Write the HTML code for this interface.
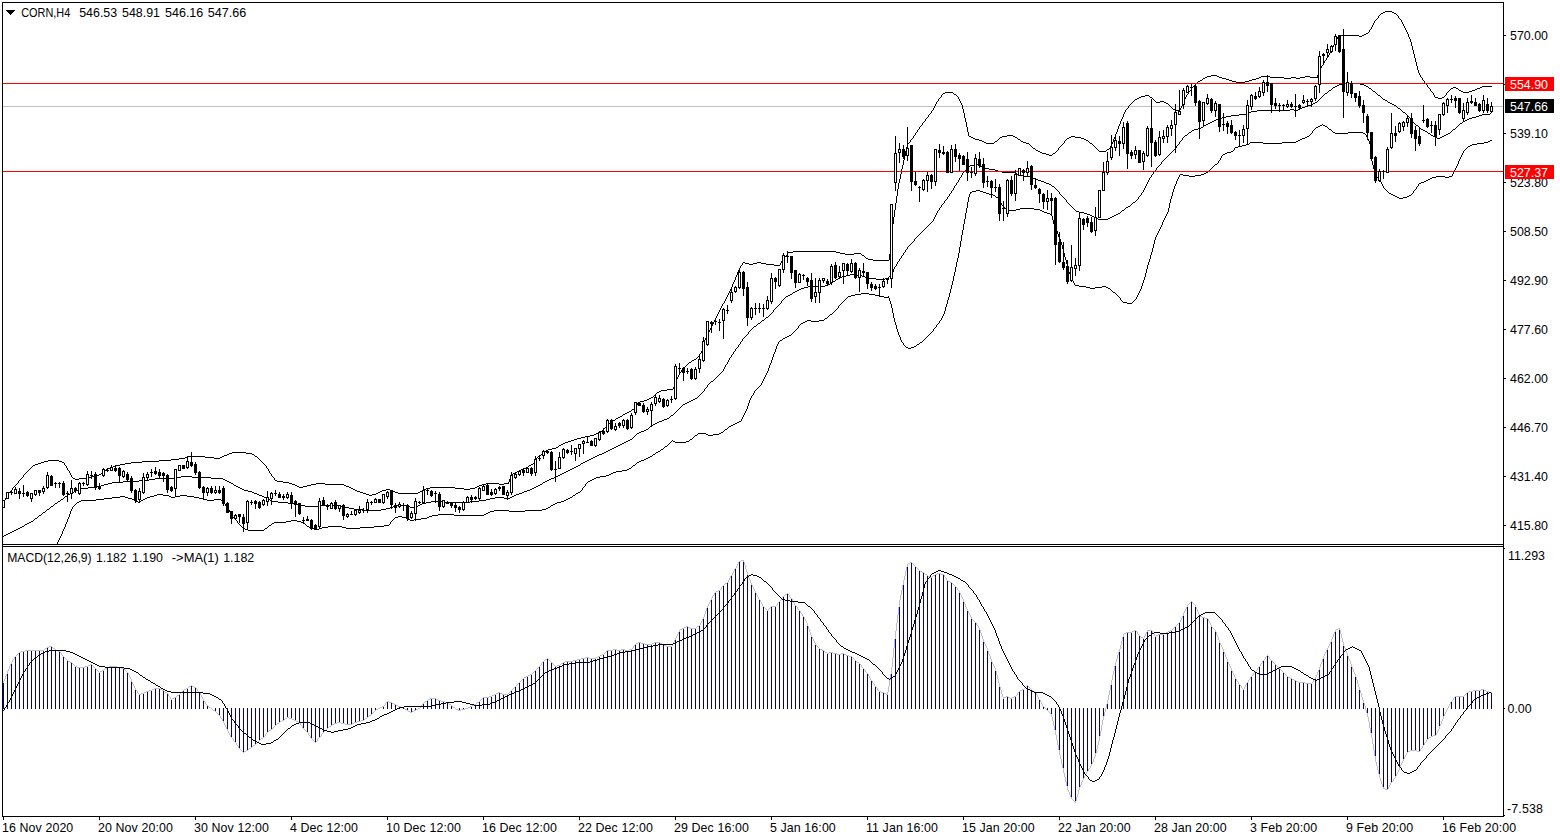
<!DOCTYPE html>
<html><head><meta charset="utf-8"><title>CORN,H4</title>
<style>
html,body{margin:0;padding:0;background:#fff;}
body{width:1560px;height:840px;overflow:hidden;position:relative;font-family:"Liberation Sans",sans-serif;}
svg{position:absolute;left:0;top:0;display:block;}
text{font-family:"Liberation Sans",sans-serif;font-size:12.4px;}
</style></head><body>
<svg width="1560" height="840" viewBox="0 0 1560 840">
<rect x="0" y="0" width="1560" height="840" fill="#fff"/>
<g shape-rendering="crispEdges">
<rect x="3" y="106" width="1500" height="1" fill="#c0c0c0"/>
</g>
<defs><clipPath id="cm"><rect x="3" y="3" width="1500" height="541"/></clipPath><clipPath id="cd"><rect x="3" y="547" width="1500" height="269"/></clipPath></defs>
<path d="M33 465h2v1h-2zM35 464h3v1h-3zM38 463h3v1h-3zM41 462h3v1h-3zM44 461h4v1h-4zM48 460h11v1h-11zM59 461h3v1h-3zM62 462h2v1h-2zM73 478h2v1h-2zM75 479h4v1h-4zM79 478h10v1h-10zM89 477h3v1h-3zM92 476h3v1h-3zM95 475h4v1h-4zM99 474h2v1h-2zM102 472h2v1h-2zM106 469h2v1h-2zM108 468h2v1h-2zM110 467h3v1h-3zM113 466h3v1h-3zM116 465h4v1h-4zM120 464h5v1h-5zM125 463h6v1h-6zM131 462h11v1h-11zM142 461h17v1h-17zM159 460h12v1h-12zM171 459h8v1h-8zM179 458h6v1h-6zM185 457h2v1h-2zM187 456h18v1h-18zM205 457h9v1h-9zM214 458h6v1h-6zM220 457h2v1h-2zM222 456h2v1h-2zM224 455h3v1h-3zM227 454h2v1h-2zM229 453h3v1h-3zM232 452h14v1h-14zM246 453h6v1h-6zM252 454h2v1h-2zM255 456h2v1h-2zM275 480h2v1h-2zM277 481h6v1h-6zM283 482h6v1h-6zM289 483h3v1h-3zM292 484h3v1h-3zM295 485h2v1h-2zM297 486h2v1h-2zM299 487h4v1h-4zM303 486h4v1h-4zM307 485h4v1h-4zM311 484h5v1h-5zM316 483h9v1h-9zM325 484h19v1h-19zM344 485h2v1h-2zM346 486h3v1h-3zM349 487h2v1h-2zM351 488h2v1h-2zM353 489h2v1h-2zM355 490h2v1h-2zM357 491h3v1h-3zM360 492h3v1h-3zM363 493h3v1h-3zM366 494h3v1h-3zM369 495h3v1h-3zM372 494h4v1h-4zM376 493h2v1h-2zM378 492h2v1h-2zM380 491h2v1h-2zM382 490h4v1h-4zM386 489h4v1h-4zM390 490h3v1h-3zM393 491h2v1h-2zM395 492h3v1h-3zM398 493h20v1h-20zM418 492h2v1h-2zM420 491h2v1h-2zM422 490h2v1h-2zM424 489h2v1h-2zM426 488h4v1h-4zM430 487h25v1h-25zM455 488h9v1h-9zM464 489h6v1h-6zM470 488h5v1h-5zM475 487h2v1h-2zM477 486h2v1h-2zM479 485h3v1h-3zM482 484h4v1h-4zM486 483h13v1h-13zM499 484h5v1h-5zM504 483h5v1h-5zM513 473h2v1h-2zM515 472h2v1h-2zM517 471h2v1h-2zM519 470h2v1h-2zM521 469h3v1h-3zM524 468h2v1h-2zM526 467h2v1h-2zM529 465h2v1h-2zM531 464h2v1h-2zM539 455h2v1h-2zM543 452h2v1h-2zM546 450h2v1h-2zM548 449h4v1h-4zM552 448h4v1h-4zM556 447h2v1h-2zM559 445h2v1h-2zM561 444h2v1h-2zM563 443h2v1h-2zM565 442h3v1h-3zM568 441h3v1h-3zM571 440h3v1h-3zM574 439h3v1h-3zM577 438h4v1h-4zM581 437h4v1h-4zM585 436h5v1h-5zM590 435h4v1h-4zM594 434h2v1h-2zM596 433h2v1h-2zM598 432h2v1h-2zM600 431h2v1h-2zM611 421h2v1h-2zM613 420h2v1h-2zM616 418h2v1h-2zM618 417h2v1h-2zM620 416h2v1h-2zM623 414h2v1h-2zM625 413h2v1h-2zM627 412h2v1h-2zM629 411h2v1h-2zM632 409h2v1h-2zM638 402h2v1h-2zM640 401h4v1h-4zM644 400h3v1h-3zM647 399h2v1h-2zM649 398h2v1h-2zM651 397h2v1h-2zM657 392h2v1h-2zM659 391h2v1h-2zM661 390h6v1h-6zM667 389h6v1h-6zM689 362h2v1h-2zM692 360h2v1h-2zM694 359h2v1h-2zM743 262h2v1h-2zM745 263h4v1h-4zM749 264h4v1h-4zM753 263h4v1h-4zM757 262h4v1h-4zM761 263h5v1h-5zM766 264h8v1h-8zM774 265h6v1h-6zM788 252h5v1h-5zM793 251h43v1h-43zM836 252h4v1h-4zM840 253h5v1h-5zM845 254h9v1h-9zM854 253h7v1h-7zM862 255h2v1h-2zM866 258h2v1h-2zM868 259h5v1h-5zM873 260h16v1h-16zM943 93h2v1h-2zM945 92h8v1h-8zM954 94h2v1h-2zM969 136h2v1h-2zM971 137h2v1h-2zM973 138h2v1h-2zM975 139h4v1h-4zM979 140h3v1h-3zM982 141h2v1h-2zM984 142h2v1h-2zM986 143h8v1h-8zM995 141h2v1h-2zM1000 137h2v1h-2zM1002 136h5v1h-5zM1007 135h6v1h-6zM1013 136h2v1h-2zM1015 137h2v1h-2zM1018 139h2v1h-2zM1021 141h2v1h-2zM1023 142h3v1h-3zM1026 143h3v1h-3zM1033 148h2v1h-2zM1036 150h2v1h-2zM1038 151h2v1h-2zM1040 152h2v1h-2zM1042 153h4v1h-4zM1046 154h3v1h-3zM1049 155h3v1h-3zM1053 153h2v1h-2zM1067 138h2v1h-2zM1069 137h2v1h-2zM1071 136h4v1h-4zM1075 137h6v1h-6zM1081 138h3v1h-3zM1084 139h2v1h-2zM1086 140h2v1h-2zM1090 143h2v1h-2zM1099 151h7v1h-7zM1107 149h2v1h-2zM1135 99h2v1h-2zM1137 98h2v1h-2zM1139 97h2v1h-2zM1141 96h4v1h-4zM1145 95h4v1h-4zM1150 97h2v1h-2zM1156 102h4v1h-4zM1160 101h4v1h-4zM1164 102h2v1h-2zM1166 103h2v1h-2zM1173 109h3v1h-3zM1176 110h3v1h-3zM1179 109h2v1h-2zM1198 81h2v1h-2zM1200 80h2v1h-2zM1203 78h2v1h-2zM1205 77h2v1h-2zM1207 76h4v1h-4zM1211 75h6v1h-6zM1217 76h2v1h-2zM1219 77h3v1h-3zM1222 78h4v1h-4zM1226 79h3v1h-3zM1229 80h3v1h-3zM1232 81h4v1h-4zM1236 82h9v1h-9zM1245 81h4v1h-4zM1249 80h3v1h-3zM1252 79h4v1h-4zM1256 78h3v1h-3zM1259 77h2v1h-2zM1261 76h9v1h-9zM1270 77h14v1h-14zM1284 78h7v1h-7zM1291 77h5v1h-5zM1296 78h4v1h-4zM1300 77h5v1h-5zM1305 76h5v1h-5zM1310 77h8v1h-8zM1338 35h21v1h-21zM1359 36h3v1h-3zM1362 35h2v1h-2zM1364 34h2v1h-2zM1366 33h2v1h-2zM1381 13h2v1h-2zM1383 12h2v1h-2zM1385 11h7v1h-7zM1392 12h2v1h-2zM1394 13h2v1h-2zM1435 97h3v1h-3zM1438 98h4v1h-4zM1442 97h2v1h-2zM1451 88h2v1h-2zM1453 87h3v1h-3zM1456 88h2v1h-2zM1459 90h2v1h-2zM1461 91h2v1h-2zM1463 92h6v1h-6zM1469 91h3v1h-3zM1472 90h3v1h-3zM1475 89h2v1h-2zM1477 88h3v1h-3zM1480 87h2v1h-2zM1482 86h10v1h-10zM3 502h1v2h-1zM4 500h1v2h-1zM5 498h1v2h-1zM6 497h1v1h-1zM7 495h1v2h-1zM8 493h1v2h-1zM9 492h1v1h-1zM10 491h1v1h-1zM11 490h1v1h-1zM12 488h1v2h-1zM13 487h1v1h-1zM14 486h1v1h-1zM15 485h1v1h-1zM16 484h1v1h-1zM17 483h1v1h-1zM18 481h1v2h-1zM19 480h1v1h-1zM20 479h1v1h-1zM21 478h1v1h-1zM22 477h1v1h-1zM23 475h1v2h-1zM24 474h1v1h-1zM25 473h1v1h-1zM26 472h1v1h-1zM27 471h1v1h-1zM28 470h1v1h-1zM29 469h1v1h-1zM30 468h1v1h-1zM31 467h1v1h-1zM32 466h1v1h-1zM64 463h1v2h-1zM65 465h1v1h-1zM66 466h1v2h-1zM67 468h1v2h-1zM68 470h1v1h-1zM69 471h1v2h-1zM70 473h1v2h-1zM71 475h1v2h-1zM72 477h1v1h-1zM101 473h1v1h-1zM104 471h1v1h-1zM105 470h1v1h-1zM254 455h1v1h-1zM257 457h1v1h-1zM258 458h1v1h-1zM259 459h1v1h-1zM260 460h1v1h-1zM261 461h1v1h-1zM262 462h1v1h-1zM263 463h1v1h-1zM264 464h1v1h-1zM265 465h1v1h-1zM266 466h1v2h-1zM267 468h1v1h-1zM268 469h1v2h-1zM269 471h1v2h-1zM270 473h1v1h-1zM271 474h1v2h-1zM272 476h1v1h-1zM273 477h1v1h-1zM274 478h1v2h-1zM508 482h1v1h-1zM509 479h1v3h-1zM510 477h1v2h-1zM511 475h1v2h-1zM512 474h1v1h-1zM528 466h1v1h-1zM533 463h1v1h-1zM534 461h1v2h-1zM535 459h1v2h-1zM536 458h1v1h-1zM537 457h1v1h-1zM538 456h1v1h-1zM541 454h1v1h-1zM542 453h1v1h-1zM545 451h1v1h-1zM558 446h1v1h-1zM602 430h1v1h-1zM603 429h1v1h-1zM604 428h1v1h-1zM605 427h1v1h-1zM606 426h1v1h-1zM607 425h1v1h-1zM608 424h1v1h-1zM609 423h1v1h-1zM610 422h1v1h-1zM615 419h1v1h-1zM622 415h1v1h-1zM631 410h1v1h-1zM634 408h1v1h-1zM635 406h1v2h-1zM636 405h1v1h-1zM637 403h1v2h-1zM653 396h1v1h-1zM654 395h1v1h-1zM655 394h1v1h-1zM656 393h1v1h-1zM673 387h1v2h-1zM674 385h1v2h-1zM675 382h1v3h-1zM676 379h1v3h-1zM677 377h1v2h-1zM678 375h1v2h-1zM679 373h1v2h-1zM680 372h1v1h-1zM681 370h1v2h-1zM682 369h1v1h-1zM683 368h1v1h-1zM684 367h1v1h-1zM685 366h1v1h-1zM686 365h1v1h-1zM687 364h1v1h-1zM688 363h1v1h-1zM691 361h1v1h-1zM696 358h1v1h-1zM697 357h1v1h-1zM698 356h1v1h-1zM699 354h1v2h-1zM700 353h1v1h-1zM701 351h1v2h-1zM702 347h1v4h-1zM703 343h1v4h-1zM704 340h1v3h-1zM705 338h1v2h-1zM706 336h1v2h-1zM707 334h1v2h-1zM708 332h1v2h-1zM709 330h1v2h-1zM710 328h1v2h-1zM711 326h1v2h-1zM712 324h1v2h-1zM713 322h1v2h-1zM714 320h1v2h-1zM715 318h1v2h-1zM716 316h1v2h-1zM717 314h1v2h-1zM718 312h1v2h-1zM719 310h1v2h-1zM720 308h1v2h-1zM721 306h1v2h-1zM722 304h1v2h-1zM723 303h1v1h-1zM724 301h1v2h-1zM725 299h1v2h-1zM726 297h1v2h-1zM727 295h1v2h-1zM728 293h1v2h-1zM729 291h1v2h-1zM730 289h1v2h-1zM731 287h1v2h-1zM732 284h1v3h-1zM733 282h1v2h-1zM734 280h1v2h-1zM735 277h1v3h-1zM736 275h1v2h-1zM737 272h1v3h-1zM738 270h1v2h-1zM739 268h1v2h-1zM740 266h1v2h-1zM741 265h1v1h-1zM742 263h1v2h-1zM780 263h1v2h-1zM781 261h1v2h-1zM782 260h1v1h-1zM783 259h1v1h-1zM784 257h1v2h-1zM785 256h1v1h-1zM786 255h1v1h-1zM787 253h1v2h-1zM861 254h1v1h-1zM864 256h1v1h-1zM865 257h1v1h-1zM889 254h1v6h-1zM890 243h1v11h-1zM891 233h1v10h-1zM892 224h1v9h-1zM893 217h1v7h-1zM894 210h1v7h-1zM895 203h1v7h-1zM896 196h1v7h-1zM897 189h1v7h-1zM898 183h1v6h-1zM899 179h1v4h-1zM900 174h1v5h-1zM901 169h1v5h-1zM902 165h1v4h-1zM903 160h1v5h-1zM904 156h1v4h-1zM905 151h1v5h-1zM906 147h1v4h-1zM907 144h1v3h-1zM908 143h1v1h-1zM909 142h1v1h-1zM910 140h1v2h-1zM911 139h1v1h-1zM912 138h1v1h-1zM913 136h1v2h-1zM914 135h1v1h-1zM915 133h1v2h-1zM916 132h1v1h-1zM917 130h1v2h-1zM918 129h1v1h-1zM919 127h1v2h-1zM920 126h1v1h-1zM921 125h1v1h-1zM922 123h1v2h-1zM923 122h1v1h-1zM924 121h1v1h-1zM925 119h1v2h-1zM926 118h1v1h-1zM927 117h1v1h-1zM928 115h1v2h-1zM929 114h1v1h-1zM930 113h1v1h-1zM931 111h1v2h-1zM932 110h1v1h-1zM933 108h1v2h-1zM934 106h1v2h-1zM935 104h1v2h-1zM936 102h1v2h-1zM937 101h1v1h-1zM938 99h1v2h-1zM939 98h1v1h-1zM940 97h1v1h-1zM941 95h1v2h-1zM942 94h1v1h-1zM953 93h1v1h-1zM956 95h1v1h-1zM957 96h1v1h-1zM958 97h1v2h-1zM959 99h1v2h-1zM960 101h1v2h-1zM961 103h1v2h-1zM962 105h1v4h-1zM963 109h1v4h-1zM964 113h1v5h-1zM965 118h1v4h-1zM966 122h1v5h-1zM967 127h1v5h-1zM968 132h1v4h-1zM994 142h1v1h-1zM997 140h1v1h-1zM998 139h1v1h-1zM999 138h1v1h-1zM1017 138h1v1h-1zM1020 140h1v1h-1zM1029 144h1v1h-1zM1030 145h1v1h-1zM1031 146h1v1h-1zM1032 147h1v1h-1zM1035 149h1v1h-1zM1052 154h1v1h-1zM1055 152h1v1h-1zM1056 151h1v1h-1zM1057 150h1v1h-1zM1058 148h1v2h-1zM1059 147h1v1h-1zM1060 146h1v1h-1zM1061 145h1v1h-1zM1062 144h1v1h-1zM1063 143h1v1h-1zM1064 141h1v2h-1zM1065 140h1v1h-1zM1066 139h1v1h-1zM1088 141h1v1h-1zM1089 142h1v1h-1zM1092 144h1v1h-1zM1093 145h1v1h-1zM1094 146h1v1h-1zM1095 147h1v1h-1zM1096 148h1v1h-1zM1097 149h1v1h-1zM1098 150h1v1h-1zM1106 150h1v1h-1zM1109 148h1v1h-1zM1110 146h1v2h-1zM1111 144h1v2h-1zM1112 142h1v2h-1zM1113 139h1v3h-1zM1114 137h1v2h-1zM1115 134h1v3h-1zM1116 132h1v2h-1zM1117 129h1v3h-1zM1118 126h1v3h-1zM1119 124h1v2h-1zM1120 121h1v3h-1zM1121 119h1v2h-1zM1122 117h1v2h-1zM1123 114h1v3h-1zM1124 112h1v2h-1zM1125 110h1v2h-1zM1126 109h1v1h-1zM1127 108h1v1h-1zM1128 106h1v2h-1zM1129 105h1v1h-1zM1130 104h1v1h-1zM1131 103h1v1h-1zM1132 102h1v1h-1zM1133 101h1v1h-1zM1134 100h1v1h-1zM1149 96h1v1h-1zM1152 98h1v1h-1zM1153 99h1v1h-1zM1154 100h1v1h-1zM1155 101h1v1h-1zM1168 104h1v1h-1zM1169 105h1v1h-1zM1170 106h1v1h-1zM1171 107h1v1h-1zM1172 108h1v1h-1zM1180 108h1v1h-1zM1181 106h1v2h-1zM1182 103h1v3h-1zM1183 101h1v2h-1zM1184 99h1v2h-1zM1185 97h1v2h-1zM1186 95h1v2h-1zM1187 94h1v1h-1zM1188 92h1v2h-1zM1189 91h1v1h-1zM1190 90h1v1h-1zM1191 88h1v2h-1zM1192 87h1v1h-1zM1193 86h1v1h-1zM1194 85h1v1h-1zM1195 84h1v1h-1zM1196 83h1v1h-1zM1197 82h1v1h-1zM1202 79h1v1h-1zM1317 75h1v2h-1zM1318 72h1v3h-1zM1319 70h1v2h-1zM1320 68h1v2h-1zM1321 66h1v2h-1zM1322 65h1v1h-1zM1323 63h1v2h-1zM1324 61h1v2h-1zM1325 60h1v1h-1zM1326 58h1v2h-1zM1327 57h1v1h-1zM1328 55h1v2h-1zM1329 53h1v2h-1zM1330 51h1v2h-1zM1331 49h1v2h-1zM1332 47h1v2h-1zM1333 45h1v2h-1zM1334 43h1v2h-1zM1335 41h1v2h-1zM1336 39h1v2h-1zM1337 37h1v2h-1zM1338 36h1v1h-1zM1368 32h1v1h-1zM1369 30h1v2h-1zM1370 29h1v1h-1zM1371 27h1v2h-1zM1372 25h1v2h-1zM1373 23h1v2h-1zM1374 21h1v2h-1zM1375 20h1v1h-1zM1376 19h1v1h-1zM1377 18h1v1h-1zM1378 16h1v2h-1zM1379 15h1v1h-1zM1380 14h1v1h-1zM1396 14h1v1h-1zM1397 15h1v1h-1zM1398 16h1v2h-1zM1399 18h1v1h-1zM1400 19h1v1h-1zM1401 20h1v2h-1zM1402 22h1v2h-1zM1403 24h1v2h-1zM1404 26h1v2h-1zM1405 28h1v2h-1zM1406 30h1v2h-1zM1407 32h1v2h-1zM1408 34h1v3h-1zM1409 37h1v2h-1zM1410 39h1v3h-1zM1411 42h1v4h-1zM1412 46h1v4h-1zM1413 50h1v4h-1zM1414 54h1v4h-1zM1415 58h1v4h-1zM1416 62h1v4h-1zM1417 66h1v4h-1zM1418 70h1v3h-1zM1419 73h1v2h-1zM1420 75h1v2h-1zM1421 77h1v1h-1zM1422 78h1v2h-1zM1423 80h1v1h-1zM1424 81h1v2h-1zM1425 83h1v1h-1zM1426 84h1v1h-1zM1427 85h1v2h-1zM1428 87h1v1h-1zM1429 88h1v1h-1zM1430 89h1v2h-1zM1431 91h1v1h-1zM1432 92h1v1h-1zM1433 93h1v2h-1zM1434 95h1v2h-1zM1444 96h1v1h-1zM1445 95h1v1h-1zM1446 93h1v2h-1zM1447 92h1v1h-1zM1448 91h1v1h-1zM1449 90h1v1h-1zM1450 89h1v1h-1zM1458 89h1v1h-1z" fill="#000" shape-rendering="crispEdges"/>
<path d="M4 535h2v1h-2zM6 534h2v1h-2zM8 533h2v1h-2zM10 532h2v1h-2zM12 531h2v1h-2zM14 530h2v1h-2zM16 529h2v1h-2zM18 528h2v1h-2zM20 527h2v1h-2zM22 526h2v1h-2zM25 524h2v1h-2zM27 523h2v1h-2zM29 522h2v1h-2zM31 521h2v1h-2zM35 518h2v1h-2zM39 515h2v1h-2zM43 512h2v1h-2zM47 509h2v1h-2zM51 506h2v1h-2zM55 503h2v1h-2zM58 501h2v1h-2zM61 499h2v1h-2zM65 496h2v1h-2zM68 494h2v1h-2zM70 493h2v1h-2zM72 492h2v1h-2zM74 491h2v1h-2zM76 490h2v1h-2zM78 489h2v1h-2zM80 488h8v1h-8zM88 487h9v1h-9zM97 486h4v1h-4zM101 485h3v1h-3zM104 484h4v1h-4zM108 483h4v1h-4zM112 482h11v1h-11zM123 481h16v1h-16zM139 480h10v1h-10zM149 479h6v1h-6zM155 478h22v1h-22zM177 477h4v1h-4zM181 476h11v1h-11zM192 477h19v1h-19zM211 478h12v1h-12zM223 479h2v1h-2zM225 480h2v1h-2zM227 481h2v1h-2zM229 482h2v1h-2zM231 483h2v1h-2zM234 485h2v1h-2zM236 486h2v1h-2zM238 487h2v1h-2zM240 488h2v1h-2zM242 489h2v1h-2zM244 490h4v1h-4zM248 491h4v1h-4zM252 492h2v1h-2zM254 493h3v1h-3zM257 494h2v1h-2zM259 495h3v1h-3zM262 496h2v1h-2zM264 497h2v1h-2zM266 498h2v1h-2zM268 499h2v1h-2zM270 500h2v1h-2zM272 501h6v1h-6zM278 502h10v1h-10zM288 503h6v1h-6zM294 504h4v1h-4zM298 505h7v1h-7zM305 506h15v1h-15zM320 505h18v1h-18zM338 506h7v1h-7zM345 507h4v1h-4zM349 508h5v1h-5zM354 509h9v1h-9zM363 510h18v1h-18zM381 509h5v1h-5zM386 508h4v1h-4zM390 507h3v1h-3zM393 506h2v1h-2zM395 505h13v1h-13zM408 506h2v1h-2zM410 507h4v1h-4zM414 506h4v1h-4zM418 505h2v1h-2zM420 504h2v1h-2zM422 503h4v1h-4zM426 502h5v1h-5zM431 501h13v1h-13zM444 502h26v1h-26zM470 501h9v1h-9zM479 500h7v1h-7zM486 499h4v1h-4zM490 498h5v1h-5zM495 497h9v1h-9zM504 498h6v1h-6zM510 497h2v1h-2zM512 496h2v1h-2zM514 495h2v1h-2zM516 494h3v1h-3zM519 493h3v1h-3zM522 492h2v1h-2zM524 491h3v1h-3zM527 490h3v1h-3zM530 489h2v1h-2zM532 488h2v1h-2zM534 487h2v1h-2zM536 486h2v1h-2zM538 485h2v1h-2zM540 484h2v1h-2zM543 482h2v1h-2zM545 481h2v1h-2zM547 480h2v1h-2zM549 479h2v1h-2zM551 478h3v1h-3zM554 477h2v1h-2zM556 476h2v1h-2zM558 475h2v1h-2zM560 474h2v1h-2zM562 473h2v1h-2zM564 472h2v1h-2zM566 471h2v1h-2zM568 470h2v1h-2zM570 469h2v1h-2zM572 468h2v1h-2zM574 467h2v1h-2zM576 466h2v1h-2zM578 465h2v1h-2zM581 463h2v1h-2zM583 462h2v1h-2zM585 461h2v1h-2zM587 460h2v1h-2zM589 459h2v1h-2zM591 458h2v1h-2zM593 457h2v1h-2zM595 456h2v1h-2zM597 455h2v1h-2zM599 454h3v1h-3zM602 453h2v1h-2zM604 452h2v1h-2zM606 451h2v1h-2zM608 450h2v1h-2zM610 449h2v1h-2zM612 448h2v1h-2zM614 447h2v1h-2zM616 446h2v1h-2zM618 445h2v1h-2zM620 444h2v1h-2zM622 443h2v1h-2zM624 442h2v1h-2zM626 441h2v1h-2zM628 440h2v1h-2zM630 439h2v1h-2zM637 433h2v1h-2zM639 432h2v1h-2zM641 431h3v1h-3zM644 430h2v1h-2zM646 429h2v1h-2zM650 426h2v1h-2zM653 424h2v1h-2zM655 423h2v1h-2zM657 422h2v1h-2zM659 421h3v1h-3zM662 420h2v1h-2zM664 419h3v1h-3zM667 418h2v1h-2zM671 415h2v1h-2zM683 404h2v1h-2zM685 403h2v1h-2zM687 402h2v1h-2zM689 401h2v1h-2zM691 400h2v1h-2zM693 399h2v1h-2zM695 398h2v1h-2zM711 381h2v1h-2zM754 326h2v1h-2zM758 323h2v1h-2zM762 320h2v1h-2zM766 317h2v1h-2zM786 296h2v1h-2zM788 295h2v1h-2zM790 294h2v1h-2zM793 292h2v1h-2zM795 291h2v1h-2zM797 290h2v1h-2zM799 289h2v1h-2zM801 288h3v1h-3zM804 287h4v1h-4zM808 286h17v1h-17zM825 285h3v1h-3zM828 284h2v1h-2zM831 282h2v1h-2zM833 281h2v1h-2zM836 279h2v1h-2zM838 278h2v1h-2zM840 277h2v1h-2zM842 276h4v1h-4zM846 275h4v1h-4zM850 274h6v1h-6zM856 275h6v1h-6zM862 276h3v1h-3zM865 277h4v1h-4zM869 278h7v1h-7zM876 279h9v1h-9zM885 278h4v1h-4zM890 275h2v1h-2zM970 165h4v1h-4zM974 164h4v1h-4zM978 165h2v1h-2zM980 166h2v1h-2zM982 167h2v1h-2zM984 168h5v1h-5zM989 169h6v1h-6zM995 170h3v1h-3zM998 171h4v1h-4zM1002 172h13v1h-13zM1015 173h2v1h-2zM1017 174h2v1h-2zM1019 175h5v1h-5zM1024 176h6v1h-6zM1030 177h2v1h-2zM1032 178h3v1h-3zM1035 179h3v1h-3zM1038 180h3v1h-3zM1041 181h3v1h-3zM1044 182h2v1h-2zM1046 183h3v1h-3zM1049 184h2v1h-2zM1052 186h2v1h-2zM1076 211h3v1h-3zM1079 212h5v1h-5zM1084 213h3v1h-3zM1087 214h3v1h-3zM1090 215h2v1h-2zM1092 216h2v1h-2zM1094 217h2v1h-2zM1096 218h2v1h-2zM1098 219h10v1h-10zM1108 218h2v1h-2zM1110 217h2v1h-2zM1112 216h2v1h-2zM1114 215h2v1h-2zM1116 214h2v1h-2zM1118 213h2v1h-2zM1122 210h2v1h-2zM1126 207h2v1h-2zM1128 206h2v1h-2zM1133 202h2v1h-2zM1185 135h2v1h-2zM1189 132h2v1h-2zM1192 130h2v1h-2zM1194 129h4v1h-4zM1198 128h3v1h-3zM1201 127h2v1h-2zM1204 125h2v1h-2zM1206 124h2v1h-2zM1208 123h2v1h-2zM1210 122h2v1h-2zM1212 121h2v1h-2zM1214 120h2v1h-2zM1216 119h3v1h-3zM1219 118h3v1h-3zM1222 117h4v1h-4zM1226 116h5v1h-5zM1231 115h8v1h-8zM1239 114h8v1h-8zM1247 113h2v1h-2zM1249 112h2v1h-2zM1251 111h6v1h-6zM1257 110h33v1h-33zM1290 109h4v1h-4zM1294 110h4v1h-4zM1298 109h2v1h-2zM1300 108h2v1h-2zM1302 107h3v1h-3zM1305 106h3v1h-3zM1308 105h3v1h-3zM1311 104h2v1h-2zM1313 103h2v1h-2zM1315 102h2v1h-2zM1325 93h2v1h-2zM1329 90h2v1h-2zM1333 87h2v1h-2zM1335 86h2v1h-2zM1337 85h2v1h-2zM1339 84h5v1h-5zM1344 83h16v1h-16zM1360 84h4v1h-4zM1364 85h2v1h-2zM1366 86h2v1h-2zM1369 88h2v1h-2zM1373 91h2v1h-2zM1378 95h2v1h-2zM1383 99h2v1h-2zM1385 100h2v1h-2zM1388 102h2v1h-2zM1390 103h2v1h-2zM1392 104h2v1h-2zM1394 105h2v1h-2zM1398 108h2v1h-2zM1403 112h2v1h-2zM1416 125h2v1h-2zM1421 129h2v1h-2zM1423 130h2v1h-2zM1425 131h2v1h-2zM1428 133h2v1h-2zM1431 135h2v1h-2zM1433 136h2v1h-2zM1435 137h2v1h-2zM1437 138h3v1h-3zM1440 137h2v1h-2zM1442 136h2v1h-2zM1444 135h2v1h-2zM1446 134h2v1h-2zM1448 133h2v1h-2zM1453 129h2v1h-2zM1460 123h2v1h-2zM1463 121h2v1h-2zM1465 120h2v1h-2zM1467 119h2v1h-2zM1469 118h3v1h-3zM1472 117h4v1h-4zM1476 116h3v1h-3zM1479 115h3v1h-3zM1482 114h8v1h-8zM3 536h1v1h-1zM24 525h1v1h-1zM33 520h1v1h-1zM34 519h1v1h-1zM37 517h1v1h-1zM38 516h1v1h-1zM41 514h1v1h-1zM42 513h1v1h-1zM45 511h1v1h-1zM46 510h1v1h-1zM49 508h1v1h-1zM50 507h1v1h-1zM53 505h1v1h-1zM54 504h1v1h-1zM57 502h1v1h-1zM60 500h1v1h-1zM63 498h1v1h-1zM64 497h1v1h-1zM67 495h1v1h-1zM233 484h1v1h-1zM542 483h1v1h-1zM580 464h1v1h-1zM632 438h1v1h-1zM633 437h1v1h-1zM634 436h1v1h-1zM635 435h1v1h-1zM636 434h1v1h-1zM648 428h1v1h-1zM649 427h1v1h-1zM652 425h1v1h-1zM669 417h1v1h-1zM670 416h1v1h-1zM673 414h1v1h-1zM674 413h1v1h-1zM675 412h1v1h-1zM676 411h1v1h-1zM677 410h1v1h-1zM678 409h1v1h-1zM679 408h1v1h-1zM680 407h1v1h-1zM681 406h1v1h-1zM682 405h1v1h-1zM697 397h1v1h-1zM698 396h1v1h-1zM699 395h1v1h-1zM700 394h1v1h-1zM701 393h1v1h-1zM702 392h1v1h-1zM703 391h1v1h-1zM704 389h1v2h-1zM705 388h1v1h-1zM706 387h1v1h-1zM707 385h1v2h-1zM708 384h1v1h-1zM709 383h1v1h-1zM710 382h1v1h-1zM713 380h1v1h-1zM714 379h1v1h-1zM715 378h1v1h-1zM716 377h1v1h-1zM717 376h1v1h-1zM718 375h1v1h-1zM719 374h1v1h-1zM720 373h1v1h-1zM721 372h1v1h-1zM722 371h1v1h-1zM723 369h1v2h-1zM724 367h1v2h-1zM725 365h1v2h-1zM726 364h1v1h-1zM727 362h1v2h-1zM728 360h1v2h-1zM729 358h1v2h-1zM730 357h1v1h-1zM731 355h1v2h-1zM732 354h1v1h-1zM733 352h1v2h-1zM734 351h1v1h-1zM735 349h1v2h-1zM736 348h1v1h-1zM737 347h1v1h-1zM738 345h1v2h-1zM739 344h1v1h-1zM740 342h1v2h-1zM741 341h1v1h-1zM742 339h1v2h-1zM743 338h1v1h-1zM744 337h1v1h-1zM745 336h1v1h-1zM746 335h1v1h-1zM747 334h1v1h-1zM748 332h1v2h-1zM749 331h1v1h-1zM750 330h1v1h-1zM751 329h1v1h-1zM752 328h1v1h-1zM753 327h1v1h-1zM756 325h1v1h-1zM757 324h1v1h-1zM760 322h1v1h-1zM761 321h1v1h-1zM764 319h1v1h-1zM765 318h1v1h-1zM768 316h1v1h-1zM769 315h1v1h-1zM770 314h1v1h-1zM771 313h1v1h-1zM772 312h1v1h-1zM773 310h1v2h-1zM774 309h1v1h-1zM775 308h1v1h-1zM776 307h1v1h-1zM777 306h1v1h-1zM778 305h1v1h-1zM779 304h1v1h-1zM780 303h1v1h-1zM781 301h1v2h-1zM782 300h1v1h-1zM783 299h1v1h-1zM784 298h1v1h-1zM785 297h1v1h-1zM792 293h1v1h-1zM830 283h1v1h-1zM835 280h1v1h-1zM888 277h1v1h-1zM889 276h1v1h-1zM892 272h1v3h-1zM893 269h1v3h-1zM894 267h1v2h-1zM895 266h1v1h-1zM896 264h1v2h-1zM897 262h1v2h-1zM898 261h1v1h-1zM899 259h1v2h-1zM900 258h1v1h-1zM901 256h1v2h-1zM902 255h1v1h-1zM903 253h1v2h-1zM904 252h1v1h-1zM905 250h1v2h-1zM906 249h1v1h-1zM907 247h1v2h-1zM908 246h1v1h-1zM909 245h1v1h-1zM910 244h1v1h-1zM911 243h1v1h-1zM912 242h1v1h-1zM913 241h1v1h-1zM914 239h1v2h-1zM915 238h1v1h-1zM916 237h1v1h-1zM917 236h1v1h-1zM918 235h1v1h-1zM919 234h1v1h-1zM920 233h1v1h-1zM921 232h1v1h-1zM922 231h1v1h-1zM923 230h1v1h-1zM924 229h1v1h-1zM925 228h1v1h-1zM926 227h1v1h-1zM927 226h1v1h-1zM928 225h1v1h-1zM929 224h1v1h-1zM930 223h1v1h-1zM931 222h1v1h-1zM932 221h1v1h-1zM933 219h1v2h-1zM934 217h1v2h-1zM935 215h1v2h-1zM936 213h1v2h-1zM937 211h1v2h-1zM938 210h1v1h-1zM939 208h1v2h-1zM940 207h1v1h-1zM941 205h1v2h-1zM942 204h1v1h-1zM943 203h1v1h-1zM944 201h1v2h-1zM945 200h1v1h-1zM946 199h1v1h-1zM947 197h1v2h-1zM948 196h1v1h-1zM949 194h1v2h-1zM950 193h1v1h-1zM951 191h1v2h-1zM952 190h1v1h-1zM953 188h1v2h-1zM954 186h1v2h-1zM955 185h1v1h-1zM956 183h1v2h-1zM957 182h1v1h-1zM958 180h1v2h-1zM959 178h1v2h-1zM960 177h1v1h-1zM961 175h1v2h-1zM962 173h1v2h-1zM963 172h1v1h-1zM964 171h1v1h-1zM965 170h1v1h-1zM966 169h1v1h-1zM967 168h1v1h-1zM968 167h1v1h-1zM969 166h1v1h-1zM1051 185h1v1h-1zM1054 187h1v1h-1zM1055 188h1v1h-1zM1056 189h1v1h-1zM1057 190h1v1h-1zM1058 191h1v1h-1zM1059 192h1v2h-1zM1060 194h1v1h-1zM1061 195h1v1h-1zM1062 196h1v1h-1zM1063 197h1v1h-1zM1064 198h1v1h-1zM1065 199h1v1h-1zM1066 200h1v2h-1zM1067 202h1v1h-1zM1068 203h1v1h-1zM1069 204h1v1h-1zM1070 205h1v1h-1zM1071 206h1v1h-1zM1072 207h1v1h-1zM1073 208h1v1h-1zM1074 209h1v1h-1zM1075 210h1v1h-1zM1120 212h1v1h-1zM1121 211h1v1h-1zM1124 209h1v1h-1zM1125 208h1v1h-1zM1130 205h1v1h-1zM1131 204h1v1h-1zM1132 203h1v1h-1zM1135 201h1v1h-1zM1136 200h1v1h-1zM1137 199h1v1h-1zM1138 197h1v2h-1zM1139 196h1v1h-1zM1140 195h1v1h-1zM1141 193h1v2h-1zM1142 192h1v1h-1zM1143 190h1v2h-1zM1144 188h1v2h-1zM1145 186h1v2h-1zM1146 184h1v2h-1zM1147 182h1v2h-1zM1148 180h1v2h-1zM1149 178h1v2h-1zM1150 177h1v1h-1zM1151 175h1v2h-1zM1152 174h1v1h-1zM1153 172h1v2h-1zM1154 171h1v1h-1zM1155 170h1v1h-1zM1156 168h1v2h-1zM1157 167h1v1h-1zM1158 166h1v1h-1zM1159 165h1v1h-1zM1160 164h1v1h-1zM1161 162h1v2h-1zM1162 161h1v1h-1zM1163 160h1v1h-1zM1164 159h1v1h-1zM1165 158h1v1h-1zM1166 157h1v1h-1zM1167 156h1v1h-1zM1168 155h1v1h-1zM1169 154h1v1h-1zM1170 153h1v1h-1zM1171 152h1v1h-1zM1172 151h1v1h-1zM1173 150h1v1h-1zM1174 149h1v1h-1zM1175 148h1v1h-1zM1176 146h1v2h-1zM1177 145h1v1h-1zM1178 144h1v1h-1zM1179 142h1v2h-1zM1180 141h1v1h-1zM1181 140h1v1h-1zM1182 138h1v2h-1zM1183 137h1v1h-1zM1184 136h1v1h-1zM1187 134h1v1h-1zM1188 133h1v1h-1zM1191 131h1v1h-1zM1203 126h1v1h-1zM1317 101h1v1h-1zM1318 100h1v1h-1zM1319 99h1v1h-1zM1320 98h1v1h-1zM1321 97h1v1h-1zM1322 96h1v1h-1zM1323 95h1v1h-1zM1324 94h1v1h-1zM1327 92h1v1h-1zM1328 91h1v1h-1zM1331 89h1v1h-1zM1332 88h1v1h-1zM1368 87h1v1h-1zM1371 89h1v1h-1zM1372 90h1v1h-1zM1375 92h1v1h-1zM1376 93h1v1h-1zM1377 94h1v1h-1zM1380 96h1v1h-1zM1381 97h1v1h-1zM1382 98h1v1h-1zM1387 101h1v1h-1zM1396 106h1v1h-1zM1397 107h1v1h-1zM1400 109h1v1h-1zM1401 110h1v1h-1zM1402 111h1v1h-1zM1405 113h1v1h-1zM1406 114h1v1h-1zM1407 115h1v1h-1zM1408 116h1v1h-1zM1409 117h1v1h-1zM1410 118h1v2h-1zM1411 120h1v1h-1zM1412 121h1v1h-1zM1413 122h1v1h-1zM1414 123h1v1h-1zM1415 124h1v1h-1zM1418 126h1v1h-1zM1419 127h1v1h-1zM1420 128h1v1h-1zM1427 132h1v1h-1zM1430 134h1v1h-1zM1450 132h1v1h-1zM1451 131h1v1h-1zM1452 130h1v1h-1zM1455 128h1v1h-1zM1456 127h1v1h-1zM1457 126h1v1h-1zM1458 125h1v1h-1zM1459 124h1v1h-1zM1462 122h1v1h-1zM1490 113h1v1h-1zM1491 112h1v1h-1z" fill="#000" shape-rendering="crispEdges"/>
<path d="M77 502h2v1h-2zM79 501h2v1h-2zM81 500h15v1h-15zM96 499h8v1h-8zM104 498h8v1h-8zM112 497h8v1h-8zM120 496h5v1h-5zM125 497h3v1h-3zM128 498h4v1h-4zM132 499h2v1h-2zM134 500h2v1h-2zM136 501h2v1h-2zM139 501h2v1h-2zM141 500h2v1h-2zM143 499h2v1h-2zM145 498h2v1h-2zM147 497h3v1h-3zM150 496h4v1h-4zM154 495h3v1h-3zM157 494h6v1h-6zM163 495h6v1h-6zM169 496h2v1h-2zM171 497h4v1h-4zM175 496h5v1h-5zM180 495h7v1h-7zM187 496h7v1h-7zM194 497h5v1h-5zM199 498h4v1h-4zM203 499h4v1h-4zM207 500h7v1h-7zM214 499h7v1h-7zM242 527h2v1h-2zM245 529h3v1h-3zM248 530h16v1h-16zM265 528h2v1h-2zM269 525h2v1h-2zM272 523h2v1h-2zM274 522h12v1h-12zM286 521h5v1h-5zM291 520h6v1h-6zM297 521h4v1h-4zM301 522h2v1h-2zM303 523h2v1h-2zM307 526h2v1h-2zM310 528h4v1h-4zM314 529h5v1h-5zM319 528h3v1h-3zM322 527h6v1h-6zM328 526h14v1h-14zM342 527h4v1h-4zM346 528h14v1h-14zM360 527h14v1h-14zM374 526h10v1h-10zM384 525h5v1h-5zM395 517h3v1h-3zM398 516h4v1h-4zM402 517h4v1h-4zM406 518h2v1h-2zM408 519h2v1h-2zM410 520h4v1h-4zM414 519h7v1h-7zM421 518h6v1h-6zM427 517h2v1h-2zM429 516h3v1h-3zM432 515h6v1h-6zM438 514h16v1h-16zM454 515h30v1h-30zM484 514h2v1h-2zM486 513h2v1h-2zM488 512h2v1h-2zM490 511h4v1h-4zM494 510h15v1h-15zM509 511h16v1h-16zM525 510h17v1h-17zM542 509h4v1h-4zM546 508h2v1h-2zM548 507h2v1h-2zM551 505h2v1h-2zM553 504h2v1h-2zM555 503h2v1h-2zM557 502h4v1h-4zM561 501h3v1h-3zM564 500h2v1h-2zM566 499h2v1h-2zM568 498h2v1h-2zM570 497h2v1h-2zM573 495h2v1h-2zM576 493h2v1h-2zM578 492h2v1h-2zM588 481h2v1h-2zM590 480h2v1h-2zM592 479h2v1h-2zM594 478h2v1h-2zM596 477h4v1h-4zM600 476h6v1h-6zM606 475h3v1h-3zM609 474h2v1h-2zM611 473h2v1h-2zM613 472h3v1h-3zM616 471h6v1h-6zM622 470h5v1h-5zM627 469h2v1h-2zM629 468h2v1h-2zM633 465h2v1h-2zM637 462h2v1h-2zM639 461h2v1h-2zM641 460h3v1h-3zM644 459h2v1h-2zM646 458h2v1h-2zM648 457h2v1h-2zM650 456h2v1h-2zM653 454h2v1h-2zM656 452h2v1h-2zM658 451h2v1h-2zM661 449h2v1h-2zM665 446h2v1h-2zM673 441h2v1h-2zM675 442h11v1h-11zM686 441h3v1h-3zM690 439h2v1h-2zM695 435h2v1h-2zM698 433h8v1h-8zM706 434h2v1h-2zM708 435h5v1h-5zM713 434h6v1h-6zM719 433h2v1h-2zM721 432h2v1h-2zM725 429h2v1h-2zM729 426h2v1h-2zM731 425h2v1h-2zM733 424h2v1h-2zM735 423h2v1h-2zM737 422h2v1h-2zM739 421h2v1h-2zM780 340h2v1h-2zM783 338h2v1h-2zM785 337h2v1h-2zM787 336h2v1h-2zM789 335h2v1h-2zM801 323h2v1h-2zM803 322h2v1h-2zM805 321h2v1h-2zM807 320h4v1h-4zM811 321h8v1h-8zM819 320h5v1h-5zM825 318h2v1h-2zM830 314h2v1h-2zM848 296h3v1h-3zM851 295h4v1h-4zM855 294h6v1h-6zM861 293h8v1h-8zM869 294h6v1h-6zM875 295h4v1h-4zM879 296h5v1h-5zM884 297h5v1h-5zM906 347h2v1h-2zM908 348h3v1h-3zM911 347h3v1h-3zM914 346h2v1h-2zM917 344h2v1h-2zM920 342h2v1h-2zM970 192h2v1h-2zM972 191h4v1h-4zM976 190h4v1h-4zM980 191h3v1h-3zM983 192h3v1h-3zM986 193h3v1h-3zM989 194h4v1h-4zM993 195h2v1h-2zM996 197h2v1h-2zM1007 210h9v1h-9zM1016 209h4v1h-4zM1020 208h14v1h-14zM1034 209h6v1h-6zM1040 210h2v1h-2zM1042 211h2v1h-2zM1044 212h3v1h-3zM1047 213h3v1h-3zM1050 214h2v1h-2zM1075 285h4v1h-4zM1079 286h7v1h-7zM1086 287h4v1h-4zM1090 288h5v1h-5zM1095 287h7v1h-7zM1102 286h4v1h-4zM1106 287h2v1h-2zM1108 288h2v1h-2zM1113 292h2v1h-2zM1123 302h4v1h-4zM1127 303h5v1h-5zM1180 174h3v1h-3zM1183 175h6v1h-6zM1189 176h6v1h-6zM1195 175h6v1h-6zM1201 174h3v1h-3zM1204 173h2v1h-2zM1206 172h2v1h-2zM1215 164h2v1h-2zM1223 154h2v1h-2zM1225 153h2v1h-2zM1227 152h4v1h-4zM1231 151h2v1h-2zM1235 147h3v1h-3zM1238 146h4v1h-4zM1242 145h4v1h-4zM1246 144h3v1h-3zM1250 142h13v1h-13zM1263 143h19v1h-19zM1282 142h14v1h-14zM1296 141h2v1h-2zM1298 140h2v1h-2zM1300 139h2v1h-2zM1302 138h3v1h-3zM1305 137h2v1h-2zM1307 136h2v1h-2zM1316 127h2v1h-2zM1318 126h2v1h-2zM1320 125h2v1h-2zM1323 125h2v1h-2zM1325 126h2v1h-2zM1329 129h2v1h-2zM1333 132h2v1h-2zM1335 133h13v1h-13zM1348 132h15v1h-15zM1363 133h2v1h-2zM1389 193h2v1h-2zM1391 194h2v1h-2zM1393 195h2v1h-2zM1395 196h2v1h-2zM1397 197h2v1h-2zM1399 198h4v1h-4zM1403 197h4v1h-4zM1407 196h2v1h-2zM1409 195h2v1h-2zM1419 183h2v1h-2zM1421 182h3v1h-3zM1424 181h2v1h-2zM1426 180h2v1h-2zM1428 179h2v1h-2zM1430 178h2v1h-2zM1432 177h4v1h-4zM1436 176h9v1h-9zM1445 177h4v1h-4zM1449 176h3v1h-3zM1468 146h2v1h-2zM1470 145h2v1h-2zM1472 144h5v1h-5zM1477 143h7v1h-7zM1484 142h4v1h-4zM1488 141h2v1h-2zM1490 140h2v1h-2zM57 542h1v2h-1zM58 540h1v2h-1zM59 538h1v2h-1zM60 536h1v2h-1zM61 534h1v2h-1zM62 531h1v3h-1zM63 529h1v2h-1zM64 527h1v2h-1zM65 524h1v3h-1zM66 522h1v2h-1zM67 519h1v3h-1zM68 517h1v2h-1zM69 514h1v3h-1zM70 511h1v3h-1zM71 509h1v2h-1zM72 507h1v2h-1zM73 506h1v1h-1zM74 505h1v1h-1zM75 504h1v1h-1zM76 503h1v1h-1zM138 502h1v1h-1zM221 500h1v1h-1zM222 501h1v1h-1zM223 502h1v1h-1zM224 503h1v1h-1zM225 504h1v2h-1zM226 506h1v1h-1zM227 507h1v2h-1zM228 509h1v1h-1zM229 510h1v2h-1zM230 512h1v2h-1zM231 514h1v1h-1zM232 515h1v2h-1zM233 517h1v1h-1zM234 518h1v1h-1zM235 519h1v1h-1zM236 520h1v1h-1zM237 521h1v2h-1zM238 523h1v1h-1zM239 524h1v1h-1zM240 525h1v1h-1zM241 526h1v1h-1zM244 528h1v1h-1zM264 529h1v1h-1zM267 527h1v1h-1zM268 526h1v1h-1zM271 524h1v1h-1zM305 524h1v1h-1zM306 525h1v1h-1zM309 527h1v1h-1zM389 524h1v1h-1zM390 522h1v2h-1zM391 521h1v1h-1zM392 520h1v1h-1zM393 519h1v1h-1zM394 518h1v1h-1zM550 506h1v1h-1zM572 496h1v1h-1zM575 494h1v1h-1zM580 491h1v1h-1zM581 490h1v1h-1zM582 488h1v2h-1zM583 487h1v1h-1zM584 486h1v1h-1zM585 484h1v2h-1zM586 483h1v1h-1zM587 482h1v1h-1zM631 467h1v1h-1zM632 466h1v1h-1zM635 464h1v1h-1zM636 463h1v1h-1zM652 455h1v1h-1zM655 453h1v1h-1zM660 450h1v1h-1zM663 448h1v1h-1zM664 447h1v1h-1zM667 445h1v1h-1zM668 444h1v1h-1zM669 443h1v1h-1zM670 442h1v1h-1zM671 441h1v1h-1zM672 440h1v1h-1zM689 440h1v1h-1zM692 438h1v1h-1zM693 437h1v1h-1zM694 436h1v1h-1zM697 434h1v1h-1zM723 431h1v1h-1zM724 430h1v1h-1zM727 428h1v1h-1zM728 427h1v1h-1zM741 419h1v2h-1zM742 417h1v2h-1zM743 415h1v2h-1zM744 413h1v2h-1zM745 411h1v2h-1zM746 409h1v2h-1zM747 406h1v3h-1zM748 403h1v3h-1zM749 400h1v3h-1zM750 398h1v2h-1zM751 396h1v2h-1zM752 395h1v1h-1zM753 393h1v2h-1zM754 391h1v2h-1zM755 390h1v1h-1zM756 389h1v1h-1zM757 388h1v1h-1zM758 387h1v1h-1zM759 386h1v1h-1zM760 385h1v1h-1zM761 383h1v2h-1zM762 381h1v2h-1zM763 379h1v2h-1zM764 377h1v2h-1zM765 375h1v2h-1zM766 373h1v2h-1zM767 371h1v2h-1zM768 368h1v3h-1zM769 365h1v3h-1zM770 363h1v2h-1zM771 360h1v3h-1zM772 357h1v3h-1zM773 354h1v3h-1zM774 352h1v2h-1zM775 349h1v3h-1zM776 346h1v3h-1zM777 344h1v2h-1zM778 342h1v2h-1zM779 341h1v1h-1zM782 339h1v1h-1zM791 334h1v1h-1zM792 333h1v1h-1zM793 332h1v1h-1zM794 331h1v1h-1zM795 330h1v1h-1zM796 329h1v1h-1zM797 328h1v1h-1zM798 326h1v2h-1zM799 325h1v1h-1zM800 324h1v1h-1zM824 319h1v1h-1zM827 317h1v1h-1zM828 316h1v1h-1zM829 315h1v1h-1zM832 313h1v1h-1zM833 312h1v1h-1zM834 311h1v1h-1zM835 310h1v1h-1zM836 309h1v1h-1zM837 308h1v1h-1zM838 306h1v2h-1zM839 305h1v1h-1zM840 304h1v1h-1zM841 303h1v1h-1zM842 302h1v1h-1zM843 301h1v1h-1zM844 300h1v1h-1zM845 299h1v1h-1zM846 298h1v1h-1zM847 297h1v1h-1zM888 296h1v1h-1zM889 298h1v3h-1zM890 301h1v3h-1zM891 304h1v4h-1zM892 308h1v5h-1zM893 313h1v5h-1zM894 318h1v4h-1zM895 322h1v3h-1zM896 325h1v4h-1zM897 329h1v3h-1zM898 332h1v3h-1zM899 335h1v2h-1zM900 337h1v3h-1zM901 340h1v2h-1zM902 342h1v1h-1zM903 343h1v2h-1zM904 345h1v1h-1zM905 346h1v1h-1zM916 345h1v1h-1zM919 343h1v1h-1zM922 341h1v1h-1zM923 340h1v1h-1zM924 339h1v1h-1zM925 338h1v1h-1zM926 337h1v1h-1zM927 336h1v1h-1zM928 335h1v1h-1zM929 334h1v1h-1zM930 333h1v1h-1zM931 332h1v1h-1zM932 331h1v1h-1zM933 329h1v2h-1zM934 328h1v1h-1zM935 327h1v1h-1zM936 325h1v2h-1zM937 324h1v1h-1zM938 323h1v1h-1zM939 321h1v2h-1zM940 320h1v1h-1zM941 318h1v2h-1zM942 316h1v2h-1zM943 314h1v2h-1zM944 311h1v3h-1zM945 307h1v4h-1zM946 304h1v3h-1zM947 300h1v4h-1zM948 297h1v3h-1zM949 293h1v4h-1zM950 289h1v4h-1zM951 285h1v4h-1zM952 281h1v4h-1zM953 276h1v5h-1zM954 272h1v4h-1zM955 267h1v5h-1zM956 262h1v5h-1zM957 258h1v4h-1zM958 253h1v5h-1zM959 247h1v6h-1zM960 241h1v6h-1zM961 235h1v6h-1zM962 230h1v5h-1zM963 224h1v6h-1zM964 219h1v5h-1zM965 213h1v6h-1zM966 208h1v5h-1zM967 202h1v6h-1zM968 197h1v5h-1zM969 194h1v3h-1zM970 193h1v1h-1zM995 196h1v1h-1zM998 198h1v1h-1zM999 199h1v2h-1zM1000 201h1v2h-1zM1001 203h1v2h-1zM1002 205h1v1h-1zM1003 206h1v1h-1zM1004 207h1v1h-1zM1005 208h1v1h-1zM1006 209h1v1h-1zM1051 215h1v1h-1zM1052 216h1v4h-1zM1053 220h1v4h-1zM1054 224h1v2h-1zM1055 226h1v3h-1zM1056 229h1v2h-1zM1057 231h1v3h-1zM1058 234h1v3h-1zM1059 237h1v2h-1zM1060 239h1v3h-1zM1061 242h1v3h-1zM1062 245h1v4h-1zM1063 249h1v4h-1zM1064 253h1v4h-1zM1065 257h1v3h-1zM1066 260h1v4h-1zM1067 264h1v4h-1zM1068 268h1v4h-1zM1069 272h1v2h-1zM1070 274h1v3h-1zM1071 277h1v2h-1zM1072 279h1v2h-1zM1073 281h1v2h-1zM1074 283h1v2h-1zM1110 289h1v1h-1zM1111 290h1v1h-1zM1112 291h1v1h-1zM1115 293h1v1h-1zM1116 294h1v1h-1zM1117 295h1v1h-1zM1118 296h1v1h-1zM1119 297h1v1h-1zM1120 298h1v2h-1zM1121 300h1v1h-1zM1122 301h1v1h-1zM1132 302h1v1h-1zM1133 301h1v1h-1zM1134 300h1v1h-1zM1135 299h1v1h-1zM1136 297h1v2h-1zM1137 295h1v2h-1zM1138 293h1v2h-1zM1139 291h1v2h-1zM1140 289h1v2h-1zM1141 286h1v3h-1zM1142 283h1v3h-1zM1143 280h1v3h-1zM1144 277h1v3h-1zM1145 273h1v4h-1zM1146 269h1v4h-1zM1147 265h1v4h-1zM1148 262h1v3h-1zM1149 259h1v3h-1zM1150 255h1v4h-1zM1151 252h1v3h-1zM1152 248h1v4h-1zM1153 244h1v4h-1zM1154 240h1v4h-1zM1155 237h1v3h-1zM1156 235h1v2h-1zM1157 233h1v2h-1zM1158 231h1v2h-1zM1159 229h1v2h-1zM1160 227h1v2h-1zM1161 225h1v2h-1zM1162 222h1v3h-1zM1163 220h1v2h-1zM1164 218h1v2h-1zM1165 216h1v2h-1zM1166 214h1v2h-1zM1167 212h1v2h-1zM1168 208h1v4h-1zM1169 203h1v5h-1zM1170 199h1v4h-1zM1171 196h1v3h-1zM1172 192h1v4h-1zM1173 189h1v3h-1zM1174 186h1v3h-1zM1175 184h1v2h-1zM1176 181h1v3h-1zM1177 179h1v2h-1zM1178 177h1v2h-1zM1179 175h1v2h-1zM1208 171h1v1h-1zM1209 170h1v1h-1zM1210 169h1v1h-1zM1211 168h1v1h-1zM1212 167h1v1h-1zM1213 166h1v1h-1zM1214 165h1v1h-1zM1217 163h1v1h-1zM1218 161h1v2h-1zM1219 160h1v1h-1zM1220 158h1v2h-1zM1221 156h1v2h-1zM1222 155h1v1h-1zM1233 150h1v1h-1zM1234 148h1v2h-1zM1249 143h1v1h-1zM1309 135h1v1h-1zM1310 134h1v1h-1zM1311 133h1v1h-1zM1312 131h1v2h-1zM1313 130h1v1h-1zM1314 129h1v1h-1zM1315 128h1v1h-1zM1322 124h1v1h-1zM1327 127h1v1h-1zM1328 128h1v1h-1zM1331 130h1v1h-1zM1332 131h1v1h-1zM1365 134h1v1h-1zM1366 135h1v2h-1zM1367 137h1v2h-1zM1368 139h1v2h-1zM1369 141h1v3h-1zM1370 144h1v8h-1zM1371 152h1v9h-1zM1372 161h1v4h-1zM1373 165h1v4h-1zM1374 169h1v4h-1zM1375 173h1v3h-1zM1376 176h1v1h-1zM1377 177h1v1h-1zM1378 178h1v2h-1zM1379 180h1v1h-1zM1380 181h1v1h-1zM1381 182h1v2h-1zM1382 184h1v2h-1zM1383 186h1v2h-1zM1384 188h1v1h-1zM1385 189h1v1h-1zM1386 190h1v1h-1zM1387 191h1v1h-1zM1388 192h1v1h-1zM1411 194h1v1h-1zM1412 193h1v1h-1zM1413 191h1v2h-1zM1414 190h1v1h-1zM1415 189h1v1h-1zM1416 187h1v2h-1zM1417 186h1v1h-1zM1418 184h1v2h-1zM1452 174h1v2h-1zM1453 172h1v2h-1zM1454 170h1v2h-1zM1455 168h1v2h-1zM1456 166h1v2h-1zM1457 164h1v2h-1zM1458 161h1v3h-1zM1459 159h1v2h-1zM1460 157h1v2h-1zM1461 155h1v2h-1zM1462 153h1v2h-1zM1463 151h1v2h-1zM1464 150h1v1h-1zM1465 149h1v1h-1zM1466 148h1v1h-1zM1467 147h1v1h-1z" fill="#000" shape-rendering="crispEdges"/>
<g shape-rendering="crispEdges"><rect x="3" y="83" width="1500" height="1" fill="#ff0000"/><rect x="3" y="171" width="1500" height="1" fill="#ff0000"/></g>
<g clip-path="url(#cm)" shape-rendering="crispEdges">
<rect x="3" y="500" width="1" height="8" fill="#000"/><rect x="2" y="500" width="3" height="8" fill="#000"/><rect x="3" y="501" width="1" height="6" fill="#fff"/>
<rect x="7" y="492" width="1" height="7" fill="#000"/><rect x="6" y="492" width="3" height="7" fill="#000"/><rect x="7" y="493" width="1" height="5" fill="#fff"/>
<rect x="11" y="491" width="1" height="4" fill="#000"/><rect x="10" y="492" width="3" height="1" fill="#000"/>
<rect x="15" y="487" width="1" height="7" fill="#000"/><rect x="14" y="489" width="3" height="5" fill="#000"/><rect x="15" y="490" width="1" height="3" fill="#fff"/>
<rect x="19" y="488" width="1" height="11" fill="#000"/><rect x="18" y="491" width="3" height="3" fill="#000"/>
<rect x="23" y="485" width="1" height="12" fill="#000"/><rect x="22" y="493" width="3" height="1" fill="#000"/>
<rect x="27" y="491" width="1" height="6" fill="#000"/><rect x="26" y="492" width="3" height="4" fill="#000"/>
<rect x="31" y="493" width="1" height="9" fill="#000"/><rect x="30" y="493" width="3" height="6" fill="#000"/><rect x="31" y="494" width="1" height="4" fill="#fff"/>
<rect x="35" y="490" width="1" height="6" fill="#000"/><rect x="34" y="490" width="3" height="5" fill="#000"/><rect x="35" y="491" width="1" height="3" fill="#fff"/>
<rect x="39" y="490" width="1" height="6" fill="#000"/><rect x="38" y="490" width="3" height="3" fill="#000"/>
<rect x="43" y="486" width="1" height="8" fill="#000"/><rect x="42" y="488" width="3" height="4" fill="#000"/><rect x="43" y="489" width="1" height="2" fill="#fff"/>
<rect x="47" y="472" width="1" height="17" fill="#000"/><rect x="46" y="475" width="3" height="13" fill="#000"/><rect x="47" y="476" width="1" height="11" fill="#fff"/>
<rect x="51" y="475" width="1" height="11" fill="#000"/><rect x="50" y="476" width="3" height="10" fill="#000"/>
<rect x="55" y="482" width="1" height="6" fill="#000"/><rect x="54" y="483" width="3" height="1" fill="#000"/>
<rect x="59" y="482" width="1" height="6" fill="#000"/><rect x="58" y="483" width="3" height="1" fill="#000"/>
<rect x="63" y="481" width="1" height="15" fill="#000"/><rect x="62" y="483" width="3" height="12" fill="#000"/>
<rect x="67" y="491" width="1" height="11" fill="#000"/><rect x="66" y="493" width="3" height="1" fill="#000"/>
<rect x="71" y="480" width="1" height="19" fill="#000"/><rect x="70" y="488" width="3" height="6" fill="#000"/><rect x="71" y="489" width="1" height="4" fill="#fff"/>
<rect x="75" y="487" width="1" height="6" fill="#000"/><rect x="74" y="488" width="3" height="3" fill="#000"/>
<rect x="79" y="482" width="1" height="13" fill="#000"/><rect x="78" y="483" width="3" height="11" fill="#000"/><rect x="79" y="484" width="1" height="9" fill="#fff"/>
<rect x="83" y="482" width="1" height="4" fill="#000"/><rect x="82" y="483" width="3" height="1" fill="#000"/>
<rect x="87" y="471" width="1" height="15" fill="#000"/><rect x="86" y="474" width="3" height="11" fill="#000"/><rect x="87" y="475" width="1" height="9" fill="#fff"/>
<rect x="91" y="471" width="1" height="8" fill="#000"/><rect x="90" y="475" width="3" height="1" fill="#000"/>
<rect x="95" y="472" width="1" height="18" fill="#000"/><rect x="94" y="474" width="3" height="14" fill="#000"/>
<rect x="99" y="483" width="1" height="7" fill="#000"/><rect x="98" y="487" width="3" height="2" fill="#000"/>
<rect x="103" y="468" width="1" height="9" fill="#000"/><rect x="102" y="469" width="3" height="7" fill="#000"/><rect x="103" y="470" width="1" height="5" fill="#fff"/>
<rect x="107" y="468" width="1" height="4" fill="#000"/><rect x="106" y="470" width="3" height="1" fill="#000"/>
<rect x="111" y="465" width="1" height="6" fill="#000"/><rect x="110" y="467" width="3" height="4" fill="#000"/><rect x="111" y="468" width="1" height="2" fill="#fff"/>
<rect x="115" y="465" width="1" height="7" fill="#000"/><rect x="114" y="468" width="3" height="3" fill="#000"/>
<rect x="119" y="467" width="1" height="15" fill="#000"/><rect x="118" y="468" width="3" height="8" fill="#000"/>
<rect x="123" y="470" width="1" height="8" fill="#000"/><rect x="122" y="471" width="3" height="6" fill="#000"/><rect x="123" y="472" width="1" height="4" fill="#fff"/>
<rect x="127" y="472" width="1" height="9" fill="#000"/><rect x="126" y="474" width="3" height="6" fill="#000"/>
<rect x="131" y="476" width="1" height="17" fill="#000"/><rect x="130" y="478" width="3" height="13" fill="#000"/>
<rect x="135" y="489" width="1" height="14" fill="#000"/><rect x="134" y="490" width="3" height="11" fill="#000"/>
<rect x="139" y="488" width="1" height="15" fill="#000"/><rect x="138" y="491" width="3" height="9" fill="#000"/><rect x="139" y="492" width="1" height="7" fill="#fff"/>
<rect x="143" y="473" width="1" height="21" fill="#000"/><rect x="142" y="477" width="3" height="16" fill="#000"/><rect x="143" y="478" width="1" height="14" fill="#fff"/>
<rect x="147" y="472" width="1" height="8" fill="#000"/><rect x="146" y="474" width="3" height="4" fill="#000"/><rect x="147" y="475" width="1" height="2" fill="#fff"/>
<rect x="151" y="469" width="1" height="8" fill="#000"/><rect x="150" y="472" width="3" height="1" fill="#000"/>
<rect x="155" y="467" width="1" height="8" fill="#000"/><rect x="154" y="471" width="3" height="3" fill="#000"/>
<rect x="159" y="469" width="1" height="10" fill="#000"/><rect x="158" y="472" width="3" height="4" fill="#000"/>
<rect x="163" y="472" width="1" height="10" fill="#000"/><rect x="162" y="473" width="3" height="3" fill="#000"/>
<rect x="167" y="474" width="1" height="19" fill="#000"/><rect x="166" y="475" width="3" height="15" fill="#000"/>
<rect x="171" y="486" width="1" height="6" fill="#000"/><rect x="170" y="487" width="3" height="4" fill="#000"/>
<rect x="175" y="469" width="1" height="28" fill="#000"/><rect x="174" y="469" width="3" height="20" fill="#000"/><rect x="175" y="470" width="1" height="18" fill="#fff"/>
<rect x="179" y="465" width="1" height="6" fill="#000"/><rect x="178" y="465" width="3" height="6" fill="#000"/><rect x="179" y="466" width="1" height="4" fill="#fff"/>
<rect x="183" y="465" width="1" height="4" fill="#000"/><rect x="182" y="465" width="3" height="4" fill="#000"/>
<rect x="187" y="456" width="1" height="13" fill="#000"/><rect x="186" y="461" width="3" height="7" fill="#000"/><rect x="187" y="462" width="1" height="5" fill="#fff"/>
<rect x="191" y="452" width="1" height="15" fill="#000"/><rect x="190" y="462" width="3" height="4" fill="#000"/>
<rect x="195" y="462" width="1" height="13" fill="#000"/><rect x="194" y="464" width="3" height="9" fill="#000"/>
<rect x="199" y="471" width="1" height="18" fill="#000"/><rect x="198" y="472" width="3" height="16" fill="#000"/>
<rect x="203" y="486" width="1" height="14" fill="#000"/><rect x="202" y="487" width="3" height="6" fill="#000"/>
<rect x="207" y="487" width="1" height="9" fill="#000"/><rect x="206" y="488" width="3" height="5" fill="#000"/><rect x="207" y="489" width="1" height="3" fill="#fff"/>
<rect x="211" y="486" width="1" height="8" fill="#000"/><rect x="210" y="488" width="3" height="5" fill="#000"/>
<rect x="215" y="486" width="1" height="8" fill="#000"/><rect x="214" y="490" width="3" height="3" fill="#000"/><rect x="215" y="491" width="1" height="1" fill="#fff"/>
<rect x="219" y="486" width="1" height="8" fill="#000"/><rect x="218" y="490" width="3" height="3" fill="#000"/>
<rect x="223" y="486" width="1" height="20" fill="#000"/><rect x="222" y="488" width="3" height="16" fill="#000"/>
<rect x="227" y="502" width="1" height="11" fill="#000"/><rect x="226" y="503" width="3" height="10" fill="#000"/>
<rect x="231" y="511" width="1" height="13" fill="#000"/><rect x="230" y="511" width="3" height="8" fill="#000"/>
<rect x="235" y="514" width="1" height="6" fill="#000"/><rect x="234" y="515" width="3" height="4" fill="#000"/><rect x="235" y="516" width="1" height="2" fill="#fff"/>
<rect x="239" y="514" width="1" height="9" fill="#000"/><rect x="238" y="514" width="3" height="3" fill="#000"/>
<rect x="243" y="514" width="1" height="18" fill="#000"/><rect x="242" y="517" width="3" height="7" fill="#000"/>
<rect x="247" y="500" width="1" height="30" fill="#000"/><rect x="246" y="501" width="3" height="22" fill="#000"/><rect x="247" y="502" width="1" height="20" fill="#fff"/>
<rect x="251" y="500" width="1" height="5" fill="#000"/><rect x="250" y="502" width="3" height="1" fill="#000"/>
<rect x="255" y="500" width="1" height="9" fill="#000"/><rect x="254" y="501" width="3" height="3" fill="#000"/>
<rect x="259" y="501" width="1" height="8" fill="#000"/><rect x="258" y="502" width="3" height="6" fill="#000"/>
<rect x="263" y="499" width="1" height="7" fill="#000"/><rect x="262" y="500" width="3" height="5" fill="#000"/><rect x="263" y="501" width="1" height="3" fill="#fff"/>
<rect x="267" y="491" width="1" height="15" fill="#000"/><rect x="266" y="497" width="3" height="5" fill="#000"/><rect x="267" y="498" width="1" height="3" fill="#fff"/>
<rect x="271" y="492" width="1" height="13" fill="#000"/><rect x="270" y="493" width="3" height="6" fill="#000"/><rect x="271" y="494" width="1" height="4" fill="#fff"/>
<rect x="275" y="490" width="1" height="6" fill="#000"/><rect x="274" y="493" width="3" height="1" fill="#000"/>
<rect x="279" y="492" width="1" height="6" fill="#000"/><rect x="278" y="494" width="3" height="4" fill="#000"/>
<rect x="283" y="494" width="1" height="6" fill="#000"/><rect x="282" y="496" width="3" height="2" fill="#000"/>
<rect x="287" y="492" width="1" height="7" fill="#000"/><rect x="286" y="494" width="3" height="4" fill="#000"/><rect x="287" y="495" width="1" height="2" fill="#fff"/>
<rect x="291" y="492" width="1" height="17" fill="#000"/><rect x="290" y="495" width="3" height="8" fill="#000"/>
<rect x="295" y="500" width="1" height="17" fill="#000"/><rect x="294" y="501" width="3" height="3" fill="#000"/>
<rect x="299" y="503" width="1" height="12" fill="#000"/><rect x="298" y="503" width="3" height="11" fill="#000"/>
<rect x="303" y="517" width="1" height="6" fill="#000"/><rect x="302" y="520" width="3" height="1" fill="#000"/>
<rect x="307" y="516" width="1" height="5" fill="#000"/><rect x="306" y="519" width="3" height="2" fill="#000"/>
<rect x="311" y="519" width="1" height="11" fill="#000"/><rect x="310" y="520" width="3" height="9" fill="#000"/>
<rect x="315" y="524" width="1" height="6" fill="#000"/><rect x="314" y="525" width="3" height="4" fill="#000"/>
<rect x="319" y="498" width="1" height="31" fill="#000"/><rect x="318" y="501" width="3" height="26" fill="#000"/><rect x="319" y="502" width="1" height="24" fill="#fff"/>
<rect x="323" y="497" width="1" height="9" fill="#000"/><rect x="322" y="500" width="3" height="6" fill="#000"/>
<rect x="327" y="504" width="1" height="6" fill="#000"/><rect x="326" y="506" width="3" height="1" fill="#000"/>
<rect x="331" y="502" width="1" height="7" fill="#000"/><rect x="330" y="503" width="3" height="6" fill="#000"/><rect x="331" y="504" width="1" height="4" fill="#fff"/>
<rect x="335" y="500" width="1" height="10" fill="#000"/><rect x="334" y="502" width="3" height="7" fill="#000"/>
<rect x="339" y="505" width="1" height="7" fill="#000"/><rect x="338" y="505" width="3" height="4" fill="#000"/><rect x="339" y="506" width="1" height="2" fill="#fff"/>
<rect x="343" y="504" width="1" height="16" fill="#000"/><rect x="342" y="505" width="3" height="11" fill="#000"/>
<rect x="347" y="513" width="1" height="5" fill="#000"/><rect x="346" y="514" width="3" height="3" fill="#000"/><rect x="347" y="515" width="1" height="1" fill="#fff"/>
<rect x="351" y="511" width="1" height="4" fill="#000"/><rect x="350" y="514" width="3" height="1" fill="#000"/>
<rect x="355" y="509" width="1" height="7" fill="#000"/><rect x="354" y="510" width="3" height="5" fill="#000"/><rect x="355" y="511" width="1" height="3" fill="#fff"/>
<rect x="359" y="506" width="1" height="8" fill="#000"/><rect x="358" y="510" width="3" height="3" fill="#000"/><rect x="359" y="511" width="1" height="1" fill="#fff"/>
<rect x="363" y="508" width="1" height="5" fill="#000"/><rect x="362" y="510" width="3" height="1" fill="#000"/>
<rect x="367" y="499" width="1" height="14" fill="#000"/><rect x="366" y="502" width="3" height="8" fill="#000"/><rect x="367" y="503" width="1" height="6" fill="#fff"/>
<rect x="371" y="501" width="1" height="4" fill="#000"/><rect x="370" y="502" width="3" height="1" fill="#000"/>
<rect x="375" y="498" width="1" height="5" fill="#000"/><rect x="374" y="499" width="3" height="4" fill="#000"/><rect x="375" y="500" width="1" height="2" fill="#fff"/>
<rect x="379" y="499" width="1" height="4" fill="#000"/><rect x="378" y="499" width="3" height="4" fill="#000"/>
<rect x="383" y="494" width="1" height="10" fill="#000"/><rect x="382" y="494" width="3" height="9" fill="#000"/><rect x="383" y="495" width="1" height="7" fill="#fff"/>
<rect x="387" y="491" width="1" height="8" fill="#000"/><rect x="386" y="492" width="3" height="5" fill="#000"/><rect x="387" y="493" width="1" height="3" fill="#fff"/>
<rect x="391" y="490" width="1" height="19" fill="#000"/><rect x="390" y="491" width="3" height="14" fill="#000"/>
<rect x="395" y="503" width="1" height="10" fill="#000"/><rect x="394" y="505" width="3" height="3" fill="#000"/>
<rect x="399" y="502" width="1" height="6" fill="#000"/><rect x="398" y="504" width="3" height="3" fill="#000"/><rect x="399" y="505" width="1" height="1" fill="#fff"/>
<rect x="403" y="503" width="1" height="8" fill="#000"/><rect x="402" y="505" width="3" height="1" fill="#000"/>
<rect x="407" y="504" width="1" height="17" fill="#000"/><rect x="406" y="505" width="3" height="14" fill="#000"/>
<rect x="411" y="511" width="1" height="8" fill="#000"/><rect x="410" y="513" width="3" height="5" fill="#000"/><rect x="411" y="514" width="1" height="3" fill="#fff"/>
<rect x="415" y="498" width="1" height="23" fill="#000"/><rect x="414" y="501" width="3" height="13" fill="#000"/><rect x="415" y="502" width="1" height="11" fill="#fff"/>
<rect x="419" y="501" width="1" height="3" fill="#000"/><rect x="418" y="502" width="3" height="1" fill="#000"/>
<rect x="423" y="486" width="1" height="17" fill="#000"/><rect x="422" y="490" width="3" height="13" fill="#000"/><rect x="423" y="491" width="1" height="11" fill="#fff"/>
<rect x="427" y="489" width="1" height="6" fill="#000"/><rect x="426" y="490" width="3" height="1" fill="#000"/>
<rect x="431" y="490" width="1" height="7" fill="#000"/><rect x="430" y="491" width="3" height="5" fill="#000"/>
<rect x="435" y="491" width="1" height="12" fill="#000"/><rect x="434" y="493" width="3" height="1" fill="#000"/>
<rect x="439" y="492" width="1" height="19" fill="#000"/><rect x="438" y="494" width="3" height="13" fill="#000"/>
<rect x="443" y="500" width="1" height="8" fill="#000"/><rect x="442" y="500" width="3" height="7" fill="#000"/><rect x="443" y="501" width="1" height="5" fill="#fff"/>
<rect x="447" y="501" width="1" height="3" fill="#000"/><rect x="446" y="502" width="3" height="2" fill="#000"/>
<rect x="451" y="502" width="1" height="6" fill="#000"/><rect x="450" y="503" width="3" height="3" fill="#000"/>
<rect x="455" y="502" width="1" height="10" fill="#000"/><rect x="454" y="505" width="3" height="3" fill="#000"/>
<rect x="459" y="506" width="1" height="7" fill="#000"/><rect x="458" y="507" width="3" height="3" fill="#000"/>
<rect x="463" y="501" width="1" height="10" fill="#000"/><rect x="462" y="502" width="3" height="8" fill="#000"/><rect x="463" y="503" width="1" height="6" fill="#fff"/>
<rect x="467" y="496" width="1" height="7" fill="#000"/><rect x="466" y="497" width="3" height="6" fill="#000"/><rect x="467" y="498" width="1" height="4" fill="#fff"/>
<rect x="471" y="495" width="1" height="8" fill="#000"/><rect x="470" y="497" width="3" height="3" fill="#000"/>
<rect x="475" y="496" width="1" height="4" fill="#000"/><rect x="474" y="497" width="3" height="2" fill="#000"/>
<rect x="479" y="487" width="1" height="13" fill="#000"/><rect x="478" y="488" width="3" height="11" fill="#000"/><rect x="479" y="489" width="1" height="9" fill="#fff"/>
<rect x="483" y="484" width="1" height="7" fill="#000"/><rect x="482" y="486" width="3" height="5" fill="#000"/><rect x="483" y="487" width="1" height="3" fill="#fff"/>
<rect x="487" y="483" width="1" height="12" fill="#000"/><rect x="486" y="485" width="3" height="10" fill="#000"/>
<rect x="491" y="489" width="1" height="7" fill="#000"/><rect x="490" y="492" width="3" height="3" fill="#000"/>
<rect x="495" y="488" width="1" height="7" fill="#000"/><rect x="494" y="489" width="3" height="5" fill="#000"/><rect x="495" y="490" width="1" height="3" fill="#fff"/>
<rect x="499" y="486" width="1" height="5" fill="#000"/><rect x="498" y="487" width="3" height="2" fill="#000"/>
<rect x="503" y="486" width="1" height="9" fill="#000"/><rect x="502" y="486" width="3" height="9" fill="#000"/>
<rect x="507" y="490" width="1" height="10" fill="#000"/><rect x="506" y="492" width="3" height="4" fill="#000"/><rect x="507" y="493" width="1" height="2" fill="#fff"/>
<rect x="511" y="472" width="1" height="23" fill="#000"/><rect x="510" y="475" width="3" height="18" fill="#000"/><rect x="511" y="476" width="1" height="16" fill="#fff"/>
<rect x="515" y="473" width="1" height="6" fill="#000"/><rect x="514" y="474" width="3" height="4" fill="#000"/><rect x="515" y="475" width="1" height="2" fill="#fff"/>
<rect x="519" y="470" width="1" height="6" fill="#000"/><rect x="518" y="471" width="3" height="4" fill="#000"/><rect x="519" y="472" width="1" height="2" fill="#fff"/>
<rect x="523" y="468" width="1" height="8" fill="#000"/><rect x="522" y="470" width="3" height="3" fill="#000"/>
<rect x="527" y="467" width="1" height="6" fill="#000"/><rect x="526" y="468" width="3" height="5" fill="#000"/><rect x="527" y="469" width="1" height="3" fill="#fff"/>
<rect x="531" y="467" width="1" height="9" fill="#000"/><rect x="530" y="468" width="3" height="6" fill="#000"/>
<rect x="535" y="456" width="1" height="20" fill="#000"/><rect x="534" y="459" width="3" height="14" fill="#000"/><rect x="535" y="460" width="1" height="12" fill="#fff"/>
<rect x="539" y="456" width="1" height="5" fill="#000"/><rect x="538" y="458" width="3" height="1" fill="#000"/>
<rect x="543" y="450" width="1" height="9" fill="#000"/><rect x="542" y="451" width="3" height="5" fill="#000"/><rect x="543" y="452" width="1" height="3" fill="#fff"/>
<rect x="547" y="450" width="1" height="4" fill="#000"/><rect x="546" y="451" width="3" height="2" fill="#000"/>
<rect x="551" y="451" width="1" height="20" fill="#000"/><rect x="550" y="452" width="3" height="18" fill="#000"/>
<rect x="555" y="461" width="1" height="21" fill="#000"/><rect x="554" y="469" width="3" height="1" fill="#000"/>
<rect x="559" y="452" width="1" height="17" fill="#000"/><rect x="558" y="457" width="3" height="12" fill="#000"/><rect x="559" y="458" width="1" height="10" fill="#fff"/>
<rect x="563" y="448" width="1" height="11" fill="#000"/><rect x="562" y="449" width="3" height="9" fill="#000"/><rect x="563" y="450" width="1" height="7" fill="#fff"/>
<rect x="567" y="449" width="1" height="5" fill="#000"/><rect x="566" y="450" width="3" height="3" fill="#000"/>
<rect x="571" y="445" width="1" height="10" fill="#000"/><rect x="570" y="451" width="3" height="1" fill="#000"/>
<rect x="575" y="448" width="1" height="13" fill="#000"/><rect x="574" y="448" width="3" height="6" fill="#000"/><rect x="575" y="449" width="1" height="4" fill="#fff"/>
<rect x="579" y="444" width="1" height="13" fill="#000"/><rect x="578" y="444" width="3" height="5" fill="#000"/><rect x="579" y="445" width="1" height="3" fill="#fff"/>
<rect x="583" y="440" width="1" height="14" fill="#000"/><rect x="582" y="441" width="3" height="3" fill="#000"/><rect x="583" y="442" width="1" height="1" fill="#fff"/>
<rect x="587" y="437" width="1" height="6" fill="#000"/><rect x="586" y="442" width="3" height="1" fill="#000"/>
<rect x="591" y="440" width="1" height="6" fill="#000"/><rect x="590" y="441" width="3" height="5" fill="#000"/>
<rect x="595" y="438" width="1" height="9" fill="#000"/><rect x="594" y="438" width="3" height="8" fill="#000"/><rect x="595" y="439" width="1" height="6" fill="#fff"/>
<rect x="599" y="431" width="1" height="10" fill="#000"/><rect x="598" y="432" width="3" height="8" fill="#000"/><rect x="599" y="433" width="1" height="6" fill="#fff"/>
<rect x="603" y="428" width="1" height="7" fill="#000"/><rect x="602" y="431" width="3" height="3" fill="#000"/>
<rect x="607" y="419" width="1" height="14" fill="#000"/><rect x="606" y="420" width="3" height="12" fill="#000"/><rect x="607" y="421" width="1" height="10" fill="#fff"/>
<rect x="611" y="419" width="1" height="11" fill="#000"/><rect x="610" y="420" width="3" height="9" fill="#000"/>
<rect x="615" y="423" width="1" height="8" fill="#000"/><rect x="614" y="426" width="3" height="4" fill="#000"/><rect x="615" y="427" width="1" height="2" fill="#fff"/>
<rect x="619" y="422" width="1" height="6" fill="#000"/><rect x="618" y="423" width="3" height="3" fill="#000"/>
<rect x="623" y="419" width="1" height="9" fill="#000"/><rect x="622" y="420" width="3" height="6" fill="#000"/><rect x="623" y="421" width="1" height="4" fill="#fff"/>
<rect x="627" y="419" width="1" height="11" fill="#000"/><rect x="626" y="420" width="3" height="9" fill="#000"/>
<rect x="631" y="413" width="1" height="16" fill="#000"/><rect x="630" y="415" width="3" height="13" fill="#000"/><rect x="631" y="416" width="1" height="11" fill="#fff"/>
<rect x="635" y="402" width="1" height="13" fill="#000"/><rect x="634" y="402" width="3" height="11" fill="#000"/><rect x="635" y="403" width="1" height="9" fill="#fff"/>
<rect x="639" y="402" width="1" height="4" fill="#000"/><rect x="638" y="403" width="3" height="3" fill="#000"/>
<rect x="643" y="403" width="1" height="10" fill="#000"/><rect x="642" y="405" width="3" height="7" fill="#000"/>
<rect x="647" y="407" width="1" height="8" fill="#000"/><rect x="646" y="409" width="3" height="3" fill="#000"/><rect x="647" y="410" width="1" height="1" fill="#fff"/>
<rect x="651" y="402" width="1" height="24" fill="#000"/><rect x="650" y="404" width="3" height="7" fill="#000"/><rect x="651" y="405" width="1" height="5" fill="#fff"/>
<rect x="655" y="395" width="1" height="11" fill="#000"/><rect x="654" y="397" width="3" height="7" fill="#000"/><rect x="655" y="398" width="1" height="5" fill="#fff"/>
<rect x="659" y="395" width="1" height="8" fill="#000"/><rect x="658" y="398" width="3" height="4" fill="#000"/><rect x="659" y="399" width="1" height="2" fill="#fff"/>
<rect x="663" y="398" width="1" height="10" fill="#000"/><rect x="662" y="399" width="3" height="8" fill="#000"/>
<rect x="667" y="399" width="1" height="8" fill="#000"/><rect x="666" y="400" width="3" height="6" fill="#000"/><rect x="667" y="401" width="1" height="4" fill="#fff"/>
<rect x="671" y="396" width="1" height="7" fill="#000"/><rect x="670" y="399" width="3" height="1" fill="#000"/>
<rect x="675" y="364" width="1" height="36" fill="#000"/><rect x="674" y="366" width="3" height="33" fill="#000"/><rect x="675" y="367" width="1" height="31" fill="#fff"/>
<rect x="679" y="363" width="1" height="10" fill="#000"/><rect x="678" y="368" width="3" height="1" fill="#000"/>
<rect x="683" y="367" width="1" height="14" fill="#000"/><rect x="682" y="368" width="3" height="5" fill="#000"/>
<rect x="687" y="368" width="1" height="6" fill="#000"/><rect x="686" y="371" width="3" height="1" fill="#000"/>
<rect x="691" y="368" width="1" height="12" fill="#000"/><rect x="690" y="369" width="3" height="10" fill="#000"/>
<rect x="695" y="367" width="1" height="13" fill="#000"/><rect x="694" y="369" width="3" height="10" fill="#000"/><rect x="695" y="370" width="1" height="8" fill="#fff"/>
<rect x="699" y="354" width="1" height="19" fill="#000"/><rect x="698" y="359" width="3" height="10" fill="#000"/><rect x="699" y="360" width="1" height="8" fill="#fff"/>
<rect x="703" y="337" width="1" height="25" fill="#000"/><rect x="702" y="341" width="3" height="20" fill="#000"/><rect x="703" y="342" width="1" height="18" fill="#fff"/>
<rect x="707" y="321" width="1" height="25" fill="#000"/><rect x="706" y="321" width="3" height="24" fill="#000"/><rect x="707" y="322" width="1" height="22" fill="#fff"/>
<rect x="711" y="321" width="1" height="12" fill="#000"/><rect x="710" y="322" width="3" height="2" fill="#000"/>
<rect x="715" y="318" width="1" height="7" fill="#000"/><rect x="714" y="321" width="3" height="1" fill="#000"/>
<rect x="719" y="319" width="1" height="12" fill="#000"/><rect x="718" y="322" width="3" height="1" fill="#000"/>
<rect x="723" y="308" width="1" height="31" fill="#000"/><rect x="722" y="309" width="3" height="12" fill="#000"/><rect x="723" y="310" width="1" height="10" fill="#fff"/>
<rect x="727" y="305" width="1" height="9" fill="#000"/><rect x="726" y="310" width="3" height="1" fill="#000"/>
<rect x="731" y="289" width="1" height="14" fill="#000"/><rect x="730" y="292" width="3" height="9" fill="#000"/><rect x="731" y="293" width="1" height="7" fill="#fff"/>
<rect x="735" y="286" width="1" height="7" fill="#000"/><rect x="734" y="287" width="3" height="5" fill="#000"/><rect x="735" y="288" width="1" height="3" fill="#fff"/>
<rect x="739" y="268" width="1" height="21" fill="#000"/><rect x="738" y="272" width="3" height="16" fill="#000"/><rect x="739" y="273" width="1" height="14" fill="#fff"/>
<rect x="743" y="271" width="1" height="25" fill="#000"/><rect x="742" y="272" width="3" height="17" fill="#000"/>
<rect x="747" y="282" width="1" height="44" fill="#000"/><rect x="746" y="287" width="3" height="31" fill="#000"/>
<rect x="751" y="307" width="1" height="13" fill="#000"/><rect x="750" y="308" width="3" height="10" fill="#000"/><rect x="751" y="309" width="1" height="8" fill="#fff"/>
<rect x="755" y="303" width="1" height="12" fill="#000"/><rect x="754" y="308" width="3" height="1" fill="#000"/>
<rect x="759" y="303" width="1" height="10" fill="#000"/><rect x="758" y="308" width="3" height="1" fill="#000"/>
<rect x="763" y="304" width="1" height="13" fill="#000"/><rect x="762" y="308" width="3" height="1" fill="#000"/>
<rect x="767" y="296" width="1" height="14" fill="#000"/><rect x="766" y="300" width="3" height="9" fill="#000"/><rect x="767" y="301" width="1" height="7" fill="#fff"/>
<rect x="771" y="273" width="1" height="31" fill="#000"/><rect x="770" y="278" width="3" height="24" fill="#000"/><rect x="771" y="279" width="1" height="22" fill="#fff"/>
<rect x="775" y="277" width="1" height="12" fill="#000"/><rect x="774" y="278" width="3" height="4" fill="#000"/>
<rect x="779" y="269" width="1" height="18" fill="#000"/><rect x="778" y="269" width="3" height="17" fill="#000"/><rect x="779" y="270" width="1" height="15" fill="#fff"/>
<rect x="783" y="253" width="1" height="20" fill="#000"/><rect x="782" y="255" width="3" height="15" fill="#000"/><rect x="783" y="256" width="1" height="13" fill="#fff"/>
<rect x="787" y="251" width="1" height="12" fill="#000"/><rect x="786" y="256" width="3" height="1" fill="#000"/>
<rect x="791" y="256" width="1" height="23" fill="#000"/><rect x="790" y="256" width="3" height="17" fill="#000"/>
<rect x="795" y="270" width="1" height="18" fill="#000"/><rect x="794" y="270" width="3" height="13" fill="#000"/>
<rect x="799" y="273" width="1" height="10" fill="#000"/><rect x="798" y="274" width="3" height="9" fill="#000"/><rect x="799" y="275" width="1" height="7" fill="#fff"/>
<rect x="803" y="274" width="1" height="6" fill="#000"/><rect x="802" y="275" width="3" height="1" fill="#000"/>
<rect x="807" y="277" width="1" height="9" fill="#000"/><rect x="806" y="278" width="3" height="4" fill="#000"/>
<rect x="811" y="273" width="1" height="29" fill="#000"/><rect x="810" y="280" width="3" height="19" fill="#000"/>
<rect x="815" y="278" width="1" height="25" fill="#000"/><rect x="814" y="292" width="3" height="5" fill="#000"/><rect x="815" y="293" width="1" height="3" fill="#fff"/>
<rect x="819" y="278" width="1" height="25" fill="#000"/><rect x="818" y="280" width="3" height="13" fill="#000"/><rect x="819" y="281" width="1" height="11" fill="#fff"/>
<rect x="823" y="278" width="1" height="5" fill="#000"/><rect x="822" y="278" width="3" height="3" fill="#000"/><rect x="823" y="279" width="1" height="1" fill="#fff"/>
<rect x="827" y="279" width="1" height="6" fill="#000"/><rect x="826" y="281" width="3" height="3" fill="#000"/>
<rect x="831" y="264" width="1" height="21" fill="#000"/><rect x="830" y="266" width="3" height="17" fill="#000"/><rect x="831" y="267" width="1" height="15" fill="#fff"/>
<rect x="835" y="262" width="1" height="17" fill="#000"/><rect x="834" y="265" width="3" height="13" fill="#000"/>
<rect x="839" y="266" width="1" height="12" fill="#000"/><rect x="838" y="272" width="3" height="5" fill="#000"/><rect x="839" y="273" width="1" height="3" fill="#fff"/>
<rect x="843" y="263" width="1" height="21" fill="#000"/><rect x="842" y="263" width="3" height="8" fill="#000"/><rect x="843" y="264" width="1" height="6" fill="#fff"/>
<rect x="847" y="263" width="1" height="13" fill="#000"/><rect x="846" y="264" width="3" height="7" fill="#000"/>
<rect x="851" y="259" width="1" height="14" fill="#000"/><rect x="850" y="263" width="3" height="9" fill="#000"/><rect x="851" y="264" width="1" height="7" fill="#fff"/>
<rect x="855" y="262" width="1" height="17" fill="#000"/><rect x="854" y="263" width="3" height="15" fill="#000"/>
<rect x="859" y="268" width="1" height="24" fill="#000"/><rect x="858" y="270" width="3" height="8" fill="#000"/><rect x="859" y="271" width="1" height="6" fill="#fff"/>
<rect x="863" y="263" width="1" height="14" fill="#000"/><rect x="862" y="271" width="3" height="2" fill="#000"/>
<rect x="867" y="272" width="1" height="17" fill="#000"/><rect x="866" y="272" width="3" height="12" fill="#000"/>
<rect x="871" y="282" width="1" height="9" fill="#000"/><rect x="870" y="284" width="3" height="4" fill="#000"/>
<rect x="875" y="284" width="1" height="6" fill="#000"/><rect x="874" y="286" width="3" height="3" fill="#000"/>
<rect x="879" y="284" width="1" height="13" fill="#000"/><rect x="878" y="287" width="3" height="1" fill="#000"/>
<rect x="883" y="278" width="1" height="10" fill="#000"/><rect x="882" y="281" width="3" height="6" fill="#000"/><rect x="883" y="282" width="1" height="4" fill="#fff"/>
<rect x="887" y="278" width="1" height="6" fill="#000"/><rect x="886" y="279" width="3" height="1" fill="#000"/>
<rect x="891" y="204" width="1" height="84" fill="#000"/><rect x="890" y="204" width="3" height="75" fill="#000"/><rect x="891" y="205" width="1" height="73" fill="#fff"/>
<rect x="895" y="136" width="1" height="55" fill="#000"/><rect x="894" y="153" width="3" height="30" fill="#000"/><rect x="895" y="154" width="1" height="28" fill="#fff"/>
<rect x="899" y="143" width="1" height="20" fill="#000"/><rect x="898" y="149" width="3" height="4" fill="#000"/><rect x="899" y="150" width="1" height="2" fill="#fff"/>
<rect x="903" y="145" width="1" height="14" fill="#000"/><rect x="902" y="149" width="3" height="8" fill="#000"/>
<rect x="907" y="127" width="1" height="34" fill="#000"/><rect x="906" y="148" width="3" height="8" fill="#000"/><rect x="907" y="149" width="1" height="6" fill="#fff"/>
<rect x="911" y="145" width="1" height="46" fill="#000"/><rect x="910" y="145" width="3" height="37" fill="#000"/>
<rect x="915" y="172" width="1" height="14" fill="#000"/><rect x="914" y="181" width="3" height="4" fill="#000"/>
<rect x="919" y="186" width="1" height="16" fill="#000"/><rect x="918" y="187" width="3" height="1" fill="#000"/>
<rect x="923" y="179" width="1" height="12" fill="#000"/><rect x="922" y="180" width="3" height="10" fill="#000"/><rect x="923" y="181" width="1" height="8" fill="#fff"/>
<rect x="927" y="172" width="1" height="20" fill="#000"/><rect x="926" y="175" width="3" height="6" fill="#000"/><rect x="927" y="176" width="1" height="4" fill="#fff"/>
<rect x="931" y="174" width="1" height="15" fill="#000"/><rect x="930" y="175" width="3" height="7" fill="#000"/>
<rect x="935" y="149" width="1" height="37" fill="#000"/><rect x="934" y="149" width="3" height="33" fill="#000"/><rect x="935" y="150" width="1" height="31" fill="#fff"/>
<rect x="939" y="144" width="1" height="14" fill="#000"/><rect x="938" y="150" width="3" height="3" fill="#000"/>
<rect x="943" y="146" width="1" height="9" fill="#000"/><rect x="942" y="152" width="3" height="2" fill="#000"/>
<rect x="947" y="151" width="1" height="22" fill="#000"/><rect x="946" y="152" width="3" height="21" fill="#000"/>
<rect x="951" y="145" width="1" height="28" fill="#000"/><rect x="950" y="149" width="3" height="24" fill="#000"/><rect x="951" y="150" width="1" height="22" fill="#fff"/>
<rect x="955" y="144" width="1" height="18" fill="#000"/><rect x="954" y="149" width="3" height="8" fill="#000"/>
<rect x="959" y="153" width="1" height="18" fill="#000"/><rect x="958" y="155" width="3" height="4" fill="#000"/>
<rect x="963" y="155" width="1" height="10" fill="#000"/><rect x="962" y="156" width="3" height="9" fill="#000"/>
<rect x="967" y="152" width="1" height="29" fill="#000"/><rect x="966" y="159" width="3" height="14" fill="#000"/>
<rect x="971" y="167" width="1" height="11" fill="#000"/><rect x="970" y="172" width="3" height="1" fill="#000"/>
<rect x="975" y="154" width="1" height="22" fill="#000"/><rect x="974" y="158" width="3" height="16" fill="#000"/><rect x="975" y="159" width="1" height="14" fill="#fff"/>
<rect x="979" y="152" width="1" height="16" fill="#000"/><rect x="978" y="159" width="3" height="7" fill="#000"/>
<rect x="983" y="158" width="1" height="30" fill="#000"/><rect x="982" y="164" width="3" height="19" fill="#000"/>
<rect x="987" y="176" width="1" height="11" fill="#000"/><rect x="986" y="181" width="3" height="1" fill="#000"/>
<rect x="991" y="180" width="1" height="18" fill="#000"/><rect x="990" y="181" width="3" height="7" fill="#000"/>
<rect x="995" y="179" width="1" height="13" fill="#000"/><rect x="994" y="187" width="3" height="1" fill="#000"/>
<rect x="999" y="184" width="1" height="37" fill="#000"/><rect x="998" y="187" width="3" height="27" fill="#000"/>
<rect x="1003" y="201" width="1" height="20" fill="#000"/><rect x="1002" y="208" width="3" height="1" fill="#000"/>
<rect x="1007" y="179" width="1" height="38" fill="#000"/><rect x="1006" y="180" width="3" height="34" fill="#000"/><rect x="1007" y="181" width="1" height="32" fill="#fff"/>
<rect x="1011" y="176" width="1" height="20" fill="#000"/><rect x="1010" y="180" width="3" height="14" fill="#000"/>
<rect x="1015" y="170" width="1" height="31" fill="#000"/><rect x="1014" y="174" width="3" height="20" fill="#000"/><rect x="1015" y="175" width="1" height="18" fill="#fff"/>
<rect x="1019" y="168" width="1" height="8" fill="#000"/><rect x="1018" y="168" width="3" height="8" fill="#000"/><rect x="1019" y="169" width="1" height="6" fill="#fff"/>
<rect x="1023" y="169" width="1" height="12" fill="#000"/><rect x="1022" y="170" width="3" height="3" fill="#000"/>
<rect x="1027" y="161" width="1" height="16" fill="#000"/><rect x="1026" y="168" width="3" height="5" fill="#000"/><rect x="1027" y="169" width="1" height="3" fill="#fff"/>
<rect x="1031" y="165" width="1" height="25" fill="#000"/><rect x="1030" y="166" width="3" height="19" fill="#000"/>
<rect x="1035" y="178" width="1" height="11" fill="#000"/><rect x="1034" y="185" width="3" height="3" fill="#000"/>
<rect x="1039" y="188" width="1" height="15" fill="#000"/><rect x="1038" y="189" width="3" height="5" fill="#000"/>
<rect x="1043" y="193" width="1" height="16" fill="#000"/><rect x="1042" y="194" width="3" height="8" fill="#000"/>
<rect x="1047" y="190" width="1" height="20" fill="#000"/><rect x="1046" y="198" width="3" height="4" fill="#000"/><rect x="1047" y="199" width="1" height="2" fill="#fff"/>
<rect x="1051" y="193" width="1" height="21" fill="#000"/><rect x="1050" y="198" width="3" height="3" fill="#000"/>
<rect x="1055" y="197" width="1" height="68" fill="#000"/><rect x="1054" y="198" width="3" height="47" fill="#000"/>
<rect x="1059" y="232" width="1" height="31" fill="#000"/><rect x="1058" y="242" width="3" height="20" fill="#000"/>
<rect x="1063" y="242" width="1" height="28" fill="#000"/><rect x="1062" y="262" width="3" height="6" fill="#000"/>
<rect x="1067" y="260" width="1" height="24" fill="#000"/><rect x="1066" y="266" width="3" height="16" fill="#000"/>
<rect x="1071" y="245" width="1" height="37" fill="#000"/><rect x="1070" y="267" width="3" height="14" fill="#000"/><rect x="1071" y="268" width="1" height="12" fill="#fff"/>
<rect x="1075" y="258" width="1" height="18" fill="#000"/><rect x="1074" y="265" width="3" height="4" fill="#000"/><rect x="1075" y="266" width="1" height="2" fill="#fff"/>
<rect x="1079" y="212" width="1" height="59" fill="#000"/><rect x="1078" y="218" width="3" height="48" fill="#000"/><rect x="1079" y="219" width="1" height="46" fill="#fff"/>
<rect x="1083" y="218" width="1" height="12" fill="#000"/><rect x="1082" y="219" width="3" height="6" fill="#000"/>
<rect x="1087" y="216" width="1" height="11" fill="#000"/><rect x="1086" y="218" width="3" height="5" fill="#000"/>
<rect x="1091" y="217" width="1" height="16" fill="#000"/><rect x="1090" y="222" width="3" height="10" fill="#000"/>
<rect x="1095" y="207" width="1" height="29" fill="#000"/><rect x="1094" y="217" width="3" height="14" fill="#000"/><rect x="1095" y="218" width="1" height="12" fill="#fff"/>
<rect x="1099" y="190" width="1" height="28" fill="#000"/><rect x="1098" y="190" width="3" height="28" fill="#000"/><rect x="1099" y="191" width="1" height="26" fill="#fff"/>
<rect x="1103" y="162" width="1" height="29" fill="#000"/><rect x="1102" y="172" width="3" height="19" fill="#000"/><rect x="1103" y="173" width="1" height="17" fill="#fff"/>
<rect x="1107" y="152" width="1" height="23" fill="#000"/><rect x="1106" y="161" width="3" height="12" fill="#000"/><rect x="1107" y="162" width="1" height="10" fill="#fff"/>
<rect x="1111" y="135" width="1" height="25" fill="#000"/><rect x="1110" y="147" width="3" height="11" fill="#000"/><rect x="1111" y="148" width="1" height="9" fill="#fff"/>
<rect x="1115" y="137" width="1" height="14" fill="#000"/><rect x="1114" y="140" width="3" height="8" fill="#000"/><rect x="1115" y="141" width="1" height="6" fill="#fff"/>
<rect x="1119" y="136" width="1" height="20" fill="#000"/><rect x="1118" y="141" width="3" height="3" fill="#000"/>
<rect x="1123" y="122" width="1" height="27" fill="#000"/><rect x="1122" y="127" width="3" height="17" fill="#000"/><rect x="1123" y="128" width="1" height="15" fill="#fff"/>
<rect x="1127" y="121" width="1" height="48" fill="#000"/><rect x="1126" y="123" width="3" height="31" fill="#000"/>
<rect x="1131" y="150" width="1" height="9" fill="#000"/><rect x="1130" y="152" width="3" height="4" fill="#000"/>
<rect x="1135" y="146" width="1" height="13" fill="#000"/><rect x="1134" y="150" width="3" height="5" fill="#000"/><rect x="1135" y="151" width="1" height="3" fill="#fff"/>
<rect x="1139" y="150" width="1" height="13" fill="#000"/><rect x="1138" y="150" width="3" height="13" fill="#000"/>
<rect x="1143" y="151" width="1" height="19" fill="#000"/><rect x="1142" y="153" width="3" height="9" fill="#000"/><rect x="1143" y="154" width="1" height="7" fill="#fff"/>
<rect x="1147" y="126" width="1" height="31" fill="#000"/><rect x="1146" y="128" width="3" height="28" fill="#000"/><rect x="1147" y="129" width="1" height="26" fill="#fff"/>
<rect x="1151" y="99" width="1" height="68" fill="#000"/><rect x="1150" y="128" width="3" height="15" fill="#000"/>
<rect x="1155" y="140" width="1" height="17" fill="#000"/><rect x="1154" y="142" width="3" height="14" fill="#000"/>
<rect x="1159" y="131" width="1" height="25" fill="#000"/><rect x="1158" y="137" width="3" height="18" fill="#000"/><rect x="1159" y="138" width="1" height="16" fill="#fff"/>
<rect x="1163" y="130" width="1" height="13" fill="#000"/><rect x="1162" y="136" width="3" height="3" fill="#000"/><rect x="1163" y="137" width="1" height="1" fill="#fff"/>
<rect x="1167" y="125" width="1" height="18" fill="#000"/><rect x="1166" y="127" width="3" height="10" fill="#000"/><rect x="1167" y="128" width="1" height="8" fill="#fff"/>
<rect x="1171" y="120" width="1" height="16" fill="#000"/><rect x="1170" y="125" width="3" height="4" fill="#000"/><rect x="1171" y="126" width="1" height="2" fill="#fff"/>
<rect x="1175" y="104" width="1" height="49" fill="#000"/><rect x="1174" y="112" width="3" height="13" fill="#000"/><rect x="1175" y="113" width="1" height="11" fill="#fff"/>
<rect x="1179" y="90" width="1" height="25" fill="#000"/><rect x="1178" y="111" width="3" height="4" fill="#000"/><rect x="1179" y="112" width="1" height="2" fill="#fff"/>
<rect x="1183" y="88" width="1" height="21" fill="#000"/><rect x="1182" y="90" width="3" height="15" fill="#000"/><rect x="1183" y="91" width="1" height="13" fill="#fff"/>
<rect x="1187" y="85" width="1" height="8" fill="#000"/><rect x="1186" y="86" width="3" height="7" fill="#000"/><rect x="1187" y="87" width="1" height="5" fill="#fff"/>
<rect x="1191" y="84" width="1" height="12" fill="#000"/><rect x="1190" y="87" width="3" height="1" fill="#000"/>
<rect x="1195" y="85" width="1" height="21" fill="#000"/><rect x="1194" y="86" width="3" height="17" fill="#000"/>
<rect x="1199" y="100" width="1" height="39" fill="#000"/><rect x="1198" y="101" width="3" height="21" fill="#000"/>
<rect x="1203" y="102" width="1" height="24" fill="#000"/><rect x="1202" y="102" width="3" height="19" fill="#000"/><rect x="1203" y="103" width="1" height="17" fill="#fff"/>
<rect x="1207" y="94" width="1" height="11" fill="#000"/><rect x="1206" y="98" width="3" height="6" fill="#000"/><rect x="1207" y="99" width="1" height="4" fill="#fff"/>
<rect x="1211" y="98" width="1" height="15" fill="#000"/><rect x="1210" y="99" width="3" height="12" fill="#000"/>
<rect x="1215" y="101" width="1" height="16" fill="#000"/><rect x="1214" y="103" width="3" height="8" fill="#000"/><rect x="1215" y="104" width="1" height="6" fill="#fff"/>
<rect x="1219" y="104" width="1" height="28" fill="#000"/><rect x="1218" y="104" width="3" height="23" fill="#000"/>
<rect x="1223" y="113" width="1" height="18" fill="#000"/><rect x="1222" y="124" width="3" height="1" fill="#000"/>
<rect x="1227" y="121" width="1" height="13" fill="#000"/><rect x="1226" y="123" width="3" height="4" fill="#000"/>
<rect x="1231" y="120" width="1" height="14" fill="#000"/><rect x="1230" y="125" width="3" height="8" fill="#000"/>
<rect x="1235" y="131" width="1" height="9" fill="#000"/><rect x="1234" y="132" width="3" height="4" fill="#000"/>
<rect x="1239" y="130" width="1" height="16" fill="#000"/><rect x="1238" y="135" width="3" height="1" fill="#000"/>
<rect x="1243" y="125" width="1" height="18" fill="#000"/><rect x="1242" y="129" width="3" height="7" fill="#000"/><rect x="1243" y="130" width="1" height="5" fill="#fff"/>
<rect x="1247" y="100" width="1" height="45" fill="#000"/><rect x="1246" y="105" width="3" height="24" fill="#000"/><rect x="1247" y="106" width="1" height="22" fill="#fff"/>
<rect x="1251" y="94" width="1" height="16" fill="#000"/><rect x="1250" y="95" width="3" height="12" fill="#000"/><rect x="1251" y="96" width="1" height="10" fill="#fff"/>
<rect x="1255" y="92" width="1" height="8" fill="#000"/><rect x="1254" y="96" width="3" height="3" fill="#000"/>
<rect x="1259" y="87" width="1" height="11" fill="#000"/><rect x="1258" y="91" width="3" height="6" fill="#000"/><rect x="1259" y="92" width="1" height="4" fill="#fff"/>
<rect x="1263" y="80" width="1" height="16" fill="#000"/><rect x="1262" y="82" width="3" height="11" fill="#000"/><rect x="1263" y="83" width="1" height="9" fill="#fff"/>
<rect x="1267" y="75" width="1" height="17" fill="#000"/><rect x="1266" y="82" width="3" height="4" fill="#000"/>
<rect x="1271" y="83" width="1" height="30" fill="#000"/><rect x="1270" y="83" width="3" height="22" fill="#000"/>
<rect x="1275" y="98" width="1" height="11" fill="#000"/><rect x="1274" y="103" width="3" height="3" fill="#000"/>
<rect x="1279" y="103" width="1" height="9" fill="#000"/><rect x="1278" y="105" width="3" height="1" fill="#000"/>
<rect x="1283" y="104" width="1" height="7" fill="#000"/><rect x="1282" y="105" width="3" height="1" fill="#000"/>
<rect x="1287" y="100" width="1" height="8" fill="#000"/><rect x="1286" y="104" width="3" height="3" fill="#000"/><rect x="1287" y="105" width="1" height="1" fill="#fff"/>
<rect x="1291" y="102" width="1" height="6" fill="#000"/><rect x="1290" y="104" width="3" height="3" fill="#000"/>
<rect x="1295" y="94" width="1" height="23" fill="#000"/><rect x="1294" y="106" width="3" height="1" fill="#000"/>
<rect x="1299" y="104" width="1" height="6" fill="#000"/><rect x="1298" y="105" width="3" height="3" fill="#000"/>
<rect x="1303" y="95" width="1" height="9" fill="#000"/><rect x="1302" y="100" width="3" height="3" fill="#000"/><rect x="1303" y="101" width="1" height="1" fill="#fff"/>
<rect x="1307" y="99" width="1" height="8" fill="#000"/><rect x="1306" y="101" width="3" height="1" fill="#000"/>
<rect x="1311" y="98" width="1" height="9" fill="#000"/><rect x="1310" y="99" width="3" height="3" fill="#000"/><rect x="1311" y="100" width="1" height="1" fill="#fff"/>
<rect x="1315" y="85" width="1" height="16" fill="#000"/><rect x="1314" y="86" width="3" height="13" fill="#000"/><rect x="1315" y="87" width="1" height="11" fill="#fff"/>
<rect x="1319" y="51" width="1" height="42" fill="#000"/><rect x="1318" y="56" width="3" height="29" fill="#000"/><rect x="1319" y="57" width="1" height="27" fill="#fff"/>
<rect x="1323" y="53" width="1" height="10" fill="#000"/><rect x="1322" y="54" width="3" height="2" fill="#000"/>
<rect x="1327" y="44" width="1" height="14" fill="#000"/><rect x="1326" y="49" width="3" height="4" fill="#000"/><rect x="1327" y="50" width="1" height="2" fill="#fff"/>
<rect x="1331" y="45" width="1" height="8" fill="#000"/><rect x="1330" y="46" width="3" height="6" fill="#000"/><rect x="1331" y="47" width="1" height="4" fill="#fff"/>
<rect x="1335" y="34" width="1" height="17" fill="#000"/><rect x="1334" y="36" width="3" height="9" fill="#000"/><rect x="1335" y="37" width="1" height="7" fill="#fff"/>
<rect x="1339" y="35" width="1" height="18" fill="#000"/><rect x="1338" y="36" width="3" height="16" fill="#000"/>
<rect x="1343" y="29" width="1" height="89" fill="#000"/><rect x="1342" y="49" width="3" height="43" fill="#000"/>
<rect x="1347" y="72" width="1" height="24" fill="#000"/><rect x="1346" y="82" width="3" height="11" fill="#000"/><rect x="1347" y="83" width="1" height="9" fill="#fff"/>
<rect x="1351" y="81" width="1" height="17" fill="#000"/><rect x="1350" y="83" width="3" height="11" fill="#000"/>
<rect x="1355" y="93" width="1" height="9" fill="#000"/><rect x="1354" y="93" width="3" height="5" fill="#000"/>
<rect x="1359" y="91" width="1" height="17" fill="#000"/><rect x="1358" y="96" width="3" height="10" fill="#000"/>
<rect x="1363" y="100" width="1" height="23" fill="#000"/><rect x="1362" y="105" width="3" height="8" fill="#000"/>
<rect x="1367" y="114" width="1" height="26" fill="#000"/><rect x="1366" y="116" width="3" height="17" fill="#000"/>
<rect x="1371" y="132" width="1" height="29" fill="#000"/><rect x="1370" y="132" width="3" height="27" fill="#000"/>
<rect x="1375" y="156" width="1" height="27" fill="#000"/><rect x="1374" y="157" width="3" height="24" fill="#000"/>
<rect x="1379" y="169" width="1" height="13" fill="#000"/><rect x="1378" y="171" width="3" height="10" fill="#000"/><rect x="1379" y="172" width="1" height="8" fill="#fff"/>
<rect x="1383" y="170" width="1" height="9" fill="#000"/><rect x="1382" y="171" width="3" height="1" fill="#000"/>
<rect x="1387" y="147" width="1" height="26" fill="#000"/><rect x="1386" y="149" width="3" height="24" fill="#000"/><rect x="1387" y="150" width="1" height="22" fill="#fff"/>
<rect x="1391" y="113" width="1" height="36" fill="#000"/><rect x="1390" y="133" width="3" height="15" fill="#000"/><rect x="1391" y="134" width="1" height="13" fill="#fff"/>
<rect x="1395" y="126" width="1" height="16" fill="#000"/><rect x="1394" y="133" width="3" height="3" fill="#000"/>
<rect x="1399" y="122" width="1" height="11" fill="#000"/><rect x="1398" y="123" width="3" height="9" fill="#000"/><rect x="1399" y="124" width="1" height="7" fill="#fff"/>
<rect x="1403" y="121" width="1" height="10" fill="#000"/><rect x="1402" y="122" width="3" height="5" fill="#000"/><rect x="1403" y="123" width="1" height="3" fill="#fff"/>
<rect x="1407" y="116" width="1" height="11" fill="#000"/><rect x="1406" y="118" width="3" height="5" fill="#000"/><rect x="1407" y="119" width="1" height="3" fill="#fff"/>
<rect x="1411" y="113" width="1" height="25" fill="#000"/><rect x="1410" y="118" width="3" height="16" fill="#000"/>
<rect x="1415" y="126" width="1" height="25" fill="#000"/><rect x="1414" y="130" width="3" height="9" fill="#000"/>
<rect x="1419" y="128" width="1" height="18" fill="#000"/><rect x="1418" y="136" width="3" height="8" fill="#000"/>
<rect x="1423" y="105" width="1" height="18" fill="#000"/><rect x="1422" y="120" width="3" height="1" fill="#000"/>
<rect x="1427" y="118" width="1" height="10" fill="#000"/><rect x="1426" y="119" width="3" height="8" fill="#000"/>
<rect x="1431" y="121" width="1" height="12" fill="#000"/><rect x="1430" y="125" width="3" height="1" fill="#000"/>
<rect x="1435" y="121" width="1" height="25" fill="#000"/><rect x="1434" y="125" width="3" height="12" fill="#000"/>
<rect x="1439" y="114" width="1" height="21" fill="#000"/><rect x="1438" y="114" width="3" height="16" fill="#000"/><rect x="1439" y="115" width="1" height="14" fill="#fff"/>
<rect x="1443" y="102" width="1" height="14" fill="#000"/><rect x="1442" y="103" width="3" height="12" fill="#000"/><rect x="1443" y="104" width="1" height="10" fill="#fff"/>
<rect x="1447" y="98" width="1" height="15" fill="#000"/><rect x="1446" y="99" width="3" height="7" fill="#000"/><rect x="1447" y="100" width="1" height="5" fill="#fff"/>
<rect x="1451" y="95" width="1" height="8" fill="#000"/><rect x="1450" y="99" width="3" height="1" fill="#000"/>
<rect x="1455" y="96" width="1" height="12" fill="#000"/><rect x="1454" y="98" width="3" height="3" fill="#000"/>
<rect x="1459" y="98" width="1" height="16" fill="#000"/><rect x="1458" y="98" width="3" height="15" fill="#000"/>
<rect x="1463" y="103" width="1" height="18" fill="#000"/><rect x="1462" y="110" width="3" height="9" fill="#000"/><rect x="1463" y="111" width="1" height="7" fill="#fff"/>
<rect x="1467" y="98" width="1" height="17" fill="#000"/><rect x="1466" y="102" width="3" height="11" fill="#000"/><rect x="1467" y="103" width="1" height="9" fill="#fff"/>
<rect x="1471" y="95" width="1" height="9" fill="#000"/><rect x="1470" y="101" width="3" height="2" fill="#000"/>
<rect x="1475" y="98" width="1" height="8" fill="#000"/><rect x="1474" y="102" width="3" height="4" fill="#000"/>
<rect x="1479" y="103" width="1" height="9" fill="#000"/><rect x="1478" y="104" width="3" height="7" fill="#000"/>
<rect x="1483" y="95" width="1" height="18" fill="#000"/><rect x="1482" y="100" width="3" height="11" fill="#000"/><rect x="1483" y="101" width="1" height="9" fill="#fff"/>
<rect x="1487" y="98" width="1" height="15" fill="#000"/><rect x="1486" y="104" width="3" height="7" fill="#000"/>
<rect x="1491" y="102" width="1" height="11" fill="#000"/><rect x="1490" y="106" width="3" height="6" fill="#000"/><rect x="1491" y="107" width="1" height="4" fill="#fff"/>
</g>
<g clip-path="url(#cd)" shape-rendering="crispEdges">
<rect x="3" y="682" width="1" height="27" fill="#00008b"/><rect x="7" y="672" width="1" height="37" fill="#00008b"/><rect x="11" y="662" width="1" height="47" fill="#00008b"/><rect x="15" y="656" width="1" height="53" fill="#00008b"/><rect x="19" y="652" width="1" height="57" fill="#00008b"/><rect x="23" y="651" width="1" height="58" fill="#00008b"/><rect x="27" y="650" width="1" height="59" fill="#00008b"/><rect x="31" y="650" width="1" height="59" fill="#00008b"/><rect x="35" y="650" width="1" height="59" fill="#00008b"/><rect x="39" y="650" width="1" height="59" fill="#00008b"/><rect x="43" y="650" width="1" height="59" fill="#00008b"/><rect x="47" y="647" width="1" height="62" fill="#00008b"/><rect x="51" y="646" width="1" height="63" fill="#00008b"/><rect x="55" y="649" width="1" height="60" fill="#00008b"/><rect x="59" y="651" width="1" height="58" fill="#00008b"/><rect x="63" y="656" width="1" height="53" fill="#00008b"/><rect x="67" y="660" width="1" height="49" fill="#00008b"/><rect x="71" y="662" width="1" height="47" fill="#00008b"/><rect x="75" y="666" width="1" height="43" fill="#00008b"/><rect x="79" y="667" width="1" height="42" fill="#00008b"/><rect x="83" y="667" width="1" height="42" fill="#00008b"/><rect x="87" y="666" width="1" height="43" fill="#00008b"/><rect x="91" y="664" width="1" height="45" fill="#00008b"/><rect x="95" y="668" width="1" height="41" fill="#00008b"/><rect x="99" y="672" width="1" height="37" fill="#00008b"/><rect x="103" y="670" width="1" height="39" fill="#00008b"/><rect x="107" y="667" width="1" height="42" fill="#00008b"/><rect x="111" y="666" width="1" height="43" fill="#00008b"/><rect x="115" y="666" width="1" height="43" fill="#00008b"/><rect x="119" y="667" width="1" height="42" fill="#00008b"/><rect x="123" y="668" width="1" height="41" fill="#00008b"/><rect x="127" y="672" width="1" height="37" fill="#00008b"/><rect x="131" y="680" width="1" height="29" fill="#00008b"/><rect x="135" y="689" width="1" height="20" fill="#00008b"/><rect x="139" y="694" width="1" height="15" fill="#00008b"/><rect x="143" y="693" width="1" height="16" fill="#00008b"/><rect x="147" y="691" width="1" height="18" fill="#00008b"/><rect x="151" y="690" width="1" height="19" fill="#00008b"/><rect x="155" y="688" width="1" height="21" fill="#00008b"/><rect x="159" y="688" width="1" height="21" fill="#00008b"/><rect x="163" y="690" width="1" height="19" fill="#00008b"/><rect x="167" y="693" width="1" height="16" fill="#00008b"/><rect x="171" y="699" width="1" height="10" fill="#00008b"/><rect x="175" y="697" width="1" height="12" fill="#00008b"/><rect x="179" y="694" width="1" height="15" fill="#00008b"/><rect x="183" y="690" width="1" height="19" fill="#00008b"/><rect x="187" y="688" width="1" height="21" fill="#00008b"/><rect x="191" y="685" width="1" height="24" fill="#00008b"/><rect x="195" y="687" width="1" height="22" fill="#00008b"/><rect x="199" y="692" width="1" height="17" fill="#00008b"/><rect x="203" y="700" width="1" height="9" fill="#00008b"/><rect x="207" y="705" width="1" height="4" fill="#00008b"/><rect x="211" y="708" width="1" height="1" fill="#00008b"/><rect x="215" y="708" width="1" height="4" fill="#00008b"/><rect x="219" y="708" width="1" height="8" fill="#00008b"/><rect x="223" y="708" width="1" height="14" fill="#00008b"/><rect x="227" y="708" width="1" height="23" fill="#00008b"/><rect x="231" y="708" width="1" height="30" fill="#00008b"/><rect x="235" y="708" width="1" height="35" fill="#00008b"/><rect x="239" y="708" width="1" height="41" fill="#00008b"/><rect x="243" y="708" width="1" height="45" fill="#00008b"/><rect x="247" y="708" width="1" height="43" fill="#00008b"/><rect x="251" y="708" width="1" height="40" fill="#00008b"/><rect x="255" y="708" width="1" height="37" fill="#00008b"/><rect x="259" y="708" width="1" height="33" fill="#00008b"/><rect x="263" y="708" width="1" height="30" fill="#00008b"/><rect x="267" y="708" width="1" height="25" fill="#00008b"/><rect x="271" y="708" width="1" height="22" fill="#00008b"/><rect x="275" y="708" width="1" height="18" fill="#00008b"/><rect x="279" y="708" width="1" height="15" fill="#00008b"/><rect x="283" y="708" width="1" height="13" fill="#00008b"/><rect x="287" y="708" width="1" height="10" fill="#00008b"/><rect x="291" y="708" width="1" height="11" fill="#00008b"/><rect x="295" y="708" width="1" height="13" fill="#00008b"/><rect x="299" y="708" width="1" height="15" fill="#00008b"/><rect x="303" y="708" width="1" height="21" fill="#00008b"/><rect x="307" y="708" width="1" height="25" fill="#00008b"/><rect x="311" y="708" width="1" height="31" fill="#00008b"/><rect x="315" y="708" width="1" height="35" fill="#00008b"/><rect x="319" y="708" width="1" height="30" fill="#00008b"/><rect x="323" y="708" width="1" height="25" fill="#00008b"/><rect x="327" y="708" width="1" height="21" fill="#00008b"/><rect x="331" y="708" width="1" height="18" fill="#00008b"/><rect x="335" y="708" width="1" height="16" fill="#00008b"/><rect x="339" y="708" width="1" height="15" fill="#00008b"/><rect x="343" y="708" width="1" height="16" fill="#00008b"/><rect x="347" y="708" width="1" height="17" fill="#00008b"/><rect x="351" y="708" width="1" height="17" fill="#00008b"/><rect x="355" y="708" width="1" height="15" fill="#00008b"/><rect x="359" y="708" width="1" height="14" fill="#00008b"/><rect x="363" y="708" width="1" height="13" fill="#00008b"/><rect x="367" y="708" width="1" height="10" fill="#00008b"/><rect x="371" y="708" width="1" height="7" fill="#00008b"/><rect x="375" y="708" width="1" height="3" fill="#00008b"/><rect x="379" y="708" width="1" height="1" fill="#00008b"/><rect x="383" y="706" width="1" height="3" fill="#00008b"/><rect x="387" y="701" width="1" height="8" fill="#00008b"/><rect x="391" y="702" width="1" height="7" fill="#00008b"/><rect x="395" y="704" width="1" height="5" fill="#00008b"/><rect x="399" y="706" width="1" height="3" fill="#00008b"/><rect x="403" y="707" width="1" height="2" fill="#00008b"/><rect x="407" y="708" width="1" height="3" fill="#00008b"/><rect x="411" y="708" width="1" height="5" fill="#00008b"/><rect x="415" y="708" width="1" height="3" fill="#00008b"/><rect x="419" y="708" width="1" height="1" fill="#00008b"/><rect x="423" y="703" width="1" height="6" fill="#00008b"/><rect x="427" y="700" width="1" height="9" fill="#00008b"/><rect x="431" y="698" width="1" height="11" fill="#00008b"/><rect x="435" y="698" width="1" height="11" fill="#00008b"/><rect x="439" y="700" width="1" height="9" fill="#00008b"/><rect x="443" y="701" width="1" height="8" fill="#00008b"/><rect x="447" y="702" width="1" height="7" fill="#00008b"/><rect x="451" y="705" width="1" height="4" fill="#00008b"/><rect x="455" y="708" width="1" height="1" fill="#00008b"/><rect x="459" y="708" width="1" height="3" fill="#00008b"/><rect x="463" y="708" width="1" height="2" fill="#00008b"/><rect x="467" y="708" width="1" height="1" fill="#00008b"/><rect x="471" y="706" width="1" height="3" fill="#00008b"/><rect x="475" y="704" width="1" height="5" fill="#00008b"/><rect x="479" y="701" width="1" height="8" fill="#00008b"/><rect x="483" y="697" width="1" height="12" fill="#00008b"/><rect x="487" y="697" width="1" height="12" fill="#00008b"/><rect x="491" y="696" width="1" height="13" fill="#00008b"/><rect x="495" y="694" width="1" height="15" fill="#00008b"/><rect x="499" y="692" width="1" height="17" fill="#00008b"/><rect x="503" y="694" width="1" height="15" fill="#00008b"/><rect x="507" y="694" width="1" height="15" fill="#00008b"/><rect x="511" y="690" width="1" height="19" fill="#00008b"/><rect x="515" y="686" width="1" height="23" fill="#00008b"/><rect x="519" y="682" width="1" height="27" fill="#00008b"/><rect x="523" y="678" width="1" height="31" fill="#00008b"/><rect x="527" y="676" width="1" height="33" fill="#00008b"/><rect x="531" y="674" width="1" height="35" fill="#00008b"/><rect x="535" y="670" width="1" height="39" fill="#00008b"/><rect x="539" y="666" width="1" height="43" fill="#00008b"/><rect x="543" y="661" width="1" height="48" fill="#00008b"/><rect x="547" y="658" width="1" height="51" fill="#00008b"/><rect x="551" y="662" width="1" height="47" fill="#00008b"/><rect x="555" y="666" width="1" height="43" fill="#00008b"/><rect x="559" y="665" width="1" height="44" fill="#00008b"/><rect x="563" y="662" width="1" height="47" fill="#00008b"/><rect x="567" y="661" width="1" height="48" fill="#00008b"/><rect x="571" y="661" width="1" height="48" fill="#00008b"/><rect x="575" y="660" width="1" height="49" fill="#00008b"/><rect x="579" y="659" width="1" height="50" fill="#00008b"/><rect x="583" y="658" width="1" height="51" fill="#00008b"/><rect x="587" y="657" width="1" height="52" fill="#00008b"/><rect x="591" y="658" width="1" height="51" fill="#00008b"/><rect x="595" y="658" width="1" height="51" fill="#00008b"/><rect x="599" y="656" width="1" height="53" fill="#00008b"/><rect x="603" y="654" width="1" height="55" fill="#00008b"/><rect x="607" y="650" width="1" height="59" fill="#00008b"/><rect x="611" y="650" width="1" height="59" fill="#00008b"/><rect x="615" y="649" width="1" height="60" fill="#00008b"/><rect x="619" y="650" width="1" height="59" fill="#00008b"/><rect x="623" y="649" width="1" height="60" fill="#00008b"/><rect x="627" y="650" width="1" height="59" fill="#00008b"/><rect x="631" y="649" width="1" height="60" fill="#00008b"/><rect x="635" y="644" width="1" height="65" fill="#00008b"/><rect x="639" y="642" width="1" height="67" fill="#00008b"/><rect x="643" y="643" width="1" height="66" fill="#00008b"/><rect x="647" y="644" width="1" height="65" fill="#00008b"/><rect x="651" y="644" width="1" height="65" fill="#00008b"/><rect x="655" y="642" width="1" height="67" fill="#00008b"/><rect x="659" y="642" width="1" height="67" fill="#00008b"/><rect x="663" y="644" width="1" height="65" fill="#00008b"/><rect x="667" y="646" width="1" height="63" fill="#00008b"/><rect x="671" y="646" width="1" height="63" fill="#00008b"/><rect x="675" y="638" width="1" height="71" fill="#00008b"/><rect x="679" y="630" width="1" height="79" fill="#00008b"/><rect x="683" y="628" width="1" height="81" fill="#00008b"/><rect x="687" y="626" width="1" height="83" fill="#00008b"/><rect x="691" y="628" width="1" height="81" fill="#00008b"/><rect x="695" y="628" width="1" height="81" fill="#00008b"/><rect x="699" y="625" width="1" height="84" fill="#00008b"/><rect x="703" y="618" width="1" height="91" fill="#00008b"/><rect x="707" y="606" width="1" height="103" fill="#00008b"/><rect x="711" y="598" width="1" height="111" fill="#00008b"/><rect x="715" y="592" width="1" height="117" fill="#00008b"/><rect x="719" y="590" width="1" height="119" fill="#00008b"/><rect x="723" y="585" width="1" height="124" fill="#00008b"/><rect x="727" y="582" width="1" height="127" fill="#00008b"/><rect x="731" y="575" width="1" height="134" fill="#00008b"/><rect x="735" y="568" width="1" height="141" fill="#00008b"/><rect x="739" y="561" width="1" height="148" fill="#00008b"/><rect x="743" y="560" width="1" height="149" fill="#00008b"/><rect x="747" y="573" width="1" height="136" fill="#00008b"/><rect x="751" y="584" width="1" height="125" fill="#00008b"/><rect x="755" y="592" width="1" height="117" fill="#00008b"/><rect x="759" y="599" width="1" height="110" fill="#00008b"/><rect x="763" y="606" width="1" height="103" fill="#00008b"/><rect x="767" y="610" width="1" height="99" fill="#00008b"/><rect x="771" y="606" width="1" height="103" fill="#00008b"/><rect x="775" y="606" width="1" height="103" fill="#00008b"/><rect x="779" y="601" width="1" height="108" fill="#00008b"/><rect x="783" y="596" width="1" height="113" fill="#00008b"/><rect x="787" y="593" width="1" height="116" fill="#00008b"/><rect x="791" y="598" width="1" height="111" fill="#00008b"/><rect x="795" y="605" width="1" height="104" fill="#00008b"/><rect x="799" y="610" width="1" height="99" fill="#00008b"/><rect x="803" y="616" width="1" height="93" fill="#00008b"/><rect x="807" y="624" width="1" height="85" fill="#00008b"/><rect x="811" y="636" width="1" height="73" fill="#00008b"/><rect x="815" y="644" width="1" height="65" fill="#00008b"/><rect x="819" y="648" width="1" height="61" fill="#00008b"/><rect x="823" y="650" width="1" height="59" fill="#00008b"/><rect x="827" y="653" width="1" height="56" fill="#00008b"/><rect x="831" y="652" width="1" height="57" fill="#00008b"/><rect x="835" y="653" width="1" height="56" fill="#00008b"/><rect x="839" y="654" width="1" height="55" fill="#00008b"/><rect x="843" y="653" width="1" height="56" fill="#00008b"/><rect x="847" y="655" width="1" height="54" fill="#00008b"/><rect x="851" y="656" width="1" height="53" fill="#00008b"/><rect x="855" y="660" width="1" height="49" fill="#00008b"/><rect x="859" y="663" width="1" height="46" fill="#00008b"/><rect x="863" y="668" width="1" height="41" fill="#00008b"/><rect x="867" y="673" width="1" height="36" fill="#00008b"/><rect x="871" y="680" width="1" height="29" fill="#00008b"/><rect x="875" y="686" width="1" height="23" fill="#00008b"/><rect x="879" y="691" width="1" height="18" fill="#00008b"/><rect x="883" y="692" width="1" height="17" fill="#00008b"/><rect x="887" y="694" width="1" height="15" fill="#00008b"/><rect x="891" y="671" width="1" height="38" fill="#00008b"/><rect x="895" y="634" width="1" height="75" fill="#00008b"/><rect x="899" y="602" width="1" height="107" fill="#00008b"/><rect x="903" y="582" width="1" height="127" fill="#00008b"/><rect x="907" y="564" width="1" height="145" fill="#00008b"/><rect x="911" y="562" width="1" height="147" fill="#00008b"/><rect x="915" y="566" width="1" height="143" fill="#00008b"/><rect x="919" y="570" width="1" height="139" fill="#00008b"/><rect x="923" y="572" width="1" height="137" fill="#00008b"/><rect x="927" y="575" width="1" height="134" fill="#00008b"/><rect x="931" y="577" width="1" height="132" fill="#00008b"/><rect x="935" y="574" width="1" height="135" fill="#00008b"/><rect x="939" y="573" width="1" height="136" fill="#00008b"/><rect x="943" y="574" width="1" height="135" fill="#00008b"/><rect x="947" y="580" width="1" height="129" fill="#00008b"/><rect x="951" y="582" width="1" height="127" fill="#00008b"/><rect x="955" y="586" width="1" height="123" fill="#00008b"/><rect x="959" y="591" width="1" height="118" fill="#00008b"/><rect x="963" y="600" width="1" height="109" fill="#00008b"/><rect x="967" y="610" width="1" height="99" fill="#00008b"/><rect x="971" y="618" width="1" height="91" fill="#00008b"/><rect x="975" y="622" width="1" height="87" fill="#00008b"/><rect x="979" y="628" width="1" height="81" fill="#00008b"/><rect x="983" y="640" width="1" height="69" fill="#00008b"/><rect x="987" y="649" width="1" height="60" fill="#00008b"/><rect x="991" y="660" width="1" height="49" fill="#00008b"/><rect x="995" y="669" width="1" height="40" fill="#00008b"/><rect x="999" y="685" width="1" height="24" fill="#00008b"/><rect x="1003" y="698" width="1" height="11" fill="#00008b"/><rect x="1007" y="696" width="1" height="13" fill="#00008b"/><rect x="1011" y="698" width="1" height="11" fill="#00008b"/><rect x="1015" y="696" width="1" height="13" fill="#00008b"/><rect x="1019" y="691" width="1" height="18" fill="#00008b"/><rect x="1023" y="689" width="1" height="20" fill="#00008b"/><rect x="1027" y="685" width="1" height="24" fill="#00008b"/><rect x="1031" y="689" width="1" height="20" fill="#00008b"/><rect x="1035" y="692" width="1" height="17" fill="#00008b"/><rect x="1039" y="699" width="1" height="10" fill="#00008b"/><rect x="1043" y="706" width="1" height="3" fill="#00008b"/><rect x="1047" y="708" width="1" height="3" fill="#00008b"/><rect x="1051" y="708" width="1" height="7" fill="#00008b"/><rect x="1055" y="708" width="1" height="25" fill="#00008b"/><rect x="1059" y="708" width="1" height="45" fill="#00008b"/><rect x="1063" y="708" width="1" height="63" fill="#00008b"/><rect x="1067" y="708" width="1" height="81" fill="#00008b"/><rect x="1071" y="708" width="1" height="91" fill="#00008b"/><rect x="1075" y="708" width="1" height="95" fill="#00008b"/><rect x="1079" y="708" width="1" height="81" fill="#00008b"/><rect x="1083" y="708" width="1" height="71" fill="#00008b"/><rect x="1087" y="708" width="1" height="64" fill="#00008b"/><rect x="1091" y="708" width="1" height="58" fill="#00008b"/><rect x="1095" y="708" width="1" height="48" fill="#00008b"/><rect x="1099" y="708" width="1" height="31" fill="#00008b"/><rect x="1103" y="708" width="1" height="10" fill="#00008b"/><rect x="1107" y="702" width="1" height="7" fill="#00008b"/><rect x="1111" y="682" width="1" height="27" fill="#00008b"/><rect x="1115" y="663" width="1" height="46" fill="#00008b"/><rect x="1119" y="650" width="1" height="59" fill="#00008b"/><rect x="1123" y="634" width="1" height="75" fill="#00008b"/><rect x="1127" y="632" width="1" height="77" fill="#00008b"/><rect x="1131" y="632" width="1" height="77" fill="#00008b"/><rect x="1135" y="630" width="1" height="79" fill="#00008b"/><rect x="1139" y="635" width="1" height="74" fill="#00008b"/><rect x="1143" y="638" width="1" height="71" fill="#00008b"/><rect x="1147" y="630" width="1" height="79" fill="#00008b"/><rect x="1151" y="630" width="1" height="79" fill="#00008b"/><rect x="1155" y="636" width="1" height="73" fill="#00008b"/><rect x="1159" y="634" width="1" height="75" fill="#00008b"/><rect x="1163" y="634" width="1" height="75" fill="#00008b"/><rect x="1167" y="632" width="1" height="77" fill="#00008b"/><rect x="1171" y="630" width="1" height="79" fill="#00008b"/><rect x="1175" y="626" width="1" height="83" fill="#00008b"/><rect x="1179" y="622" width="1" height="87" fill="#00008b"/><rect x="1183" y="614" width="1" height="95" fill="#00008b"/><rect x="1187" y="605" width="1" height="104" fill="#00008b"/><rect x="1191" y="601" width="1" height="108" fill="#00008b"/><rect x="1195" y="605" width="1" height="104" fill="#00008b"/><rect x="1199" y="615" width="1" height="94" fill="#00008b"/><rect x="1203" y="617" width="1" height="92" fill="#00008b"/><rect x="1207" y="618" width="1" height="91" fill="#00008b"/><rect x="1211" y="626" width="1" height="83" fill="#00008b"/><rect x="1215" y="630" width="1" height="79" fill="#00008b"/><rect x="1219" y="641" width="1" height="68" fill="#00008b"/><rect x="1223" y="650" width="1" height="59" fill="#00008b"/><rect x="1227" y="660" width="1" height="49" fill="#00008b"/><rect x="1231" y="669" width="1" height="40" fill="#00008b"/><rect x="1235" y="678" width="1" height="31" fill="#00008b"/><rect x="1239" y="684" width="1" height="25" fill="#00008b"/><rect x="1243" y="689" width="1" height="20" fill="#00008b"/><rect x="1247" y="682" width="1" height="27" fill="#00008b"/><rect x="1251" y="676" width="1" height="33" fill="#00008b"/><rect x="1255" y="671" width="1" height="38" fill="#00008b"/><rect x="1259" y="666" width="1" height="43" fill="#00008b"/><rect x="1263" y="660" width="1" height="49" fill="#00008b"/><rect x="1267" y="655" width="1" height="54" fill="#00008b"/><rect x="1271" y="660" width="1" height="49" fill="#00008b"/><rect x="1275" y="664" width="1" height="45" fill="#00008b"/><rect x="1279" y="668" width="1" height="41" fill="#00008b"/><rect x="1283" y="672" width="1" height="37" fill="#00008b"/><rect x="1287" y="676" width="1" height="33" fill="#00008b"/><rect x="1291" y="678" width="1" height="31" fill="#00008b"/><rect x="1295" y="680" width="1" height="29" fill="#00008b"/><rect x="1299" y="682" width="1" height="27" fill="#00008b"/><rect x="1303" y="682" width="1" height="27" fill="#00008b"/><rect x="1307" y="683" width="1" height="26" fill="#00008b"/><rect x="1311" y="683" width="1" height="26" fill="#00008b"/><rect x="1315" y="678" width="1" height="31" fill="#00008b"/><rect x="1319" y="668" width="1" height="41" fill="#00008b"/><rect x="1323" y="657" width="1" height="52" fill="#00008b"/><rect x="1327" y="648" width="1" height="61" fill="#00008b"/><rect x="1331" y="640" width="1" height="69" fill="#00008b"/><rect x="1335" y="630" width="1" height="79" fill="#00008b"/><rect x="1339" y="628" width="1" height="81" fill="#00008b"/><rect x="1343" y="644" width="1" height="65" fill="#00008b"/><rect x="1347" y="654" width="1" height="55" fill="#00008b"/><rect x="1351" y="665" width="1" height="44" fill="#00008b"/><rect x="1355" y="675" width="1" height="34" fill="#00008b"/><rect x="1359" y="688" width="1" height="21" fill="#00008b"/><rect x="1363" y="701" width="1" height="8" fill="#00008b"/><rect x="1367" y="708" width="1" height="7" fill="#00008b"/><rect x="1371" y="708" width="1" height="28" fill="#00008b"/><rect x="1375" y="708" width="1" height="52" fill="#00008b"/><rect x="1379" y="708" width="1" height="69" fill="#00008b"/><rect x="1383" y="708" width="1" height="81" fill="#00008b"/><rect x="1387" y="708" width="1" height="82" fill="#00008b"/><rect x="1391" y="708" width="1" height="75" fill="#00008b"/><rect x="1395" y="708" width="1" height="70" fill="#00008b"/><rect x="1399" y="708" width="1" height="61" fill="#00008b"/><rect x="1403" y="708" width="1" height="52" fill="#00008b"/><rect x="1407" y="708" width="1" height="45" fill="#00008b"/><rect x="1411" y="708" width="1" height="43" fill="#00008b"/><rect x="1415" y="708" width="1" height="43" fill="#00008b"/><rect x="1419" y="708" width="1" height="44" fill="#00008b"/><rect x="1423" y="708" width="1" height="38" fill="#00008b"/><rect x="1427" y="708" width="1" height="32" fill="#00008b"/><rect x="1431" y="708" width="1" height="29" fill="#00008b"/><rect x="1435" y="708" width="1" height="28" fill="#00008b"/><rect x="1439" y="708" width="1" height="20" fill="#00008b"/><rect x="1443" y="708" width="1" height="10" fill="#00008b"/><rect x="1447" y="708" width="1" height="1" fill="#00008b"/><rect x="1451" y="701" width="1" height="8" fill="#00008b"/><rect x="1455" y="696" width="1" height="13" fill="#00008b"/><rect x="1459" y="696" width="1" height="13" fill="#00008b"/><rect x="1463" y="696" width="1" height="13" fill="#00008b"/><rect x="1467" y="692" width="1" height="17" fill="#00008b"/><rect x="1471" y="691" width="1" height="18" fill="#00008b"/><rect x="1475" y="690" width="1" height="19" fill="#00008b"/><rect x="1479" y="690" width="1" height="19" fill="#00008b"/><rect x="1483" y="689" width="1" height="20" fill="#00008b"/><rect x="1487" y="691" width="1" height="18" fill="#00008b"/><rect x="1491" y="692" width="1" height="17" fill="#00008b"/>
</g>
<path d="M19 652h2v1h-2zM21 651h4v1h-4zM25 650h19v1h-19zM45 648h2v1h-2zM47 647h2v1h-2zM49 646h3v1h-3zM53 648h2v1h-2zM56 650h2v1h-2zM58 651h2v1h-2zM68 661h2v1h-2zM70 662h2v1h-2zM75 666h2v1h-2zM77 667h8v1h-8zM85 666h3v1h-3zM88 665h2v1h-2zM90 664h2v1h-2zM100 671h2v1h-2zM102 670h2v1h-2zM105 668h2v1h-2zM107 667h2v1h-2zM109 666h8v1h-8zM117 667h4v1h-4zM121 668h3v1h-3zM139 694h2v1h-2zM141 693h3v1h-3zM144 692h2v1h-2zM146 691h3v1h-3zM149 690h3v1h-3zM152 689h2v1h-2zM154 688h6v1h-6zM160 689h2v1h-2zM162 690h2v1h-2zM165 692h2v1h-2zM172 698h2v1h-2zM174 697h2v1h-2zM177 695h2v1h-2zM184 689h2v1h-2zM186 688h2v1h-2zM189 686h2v1h-2zM192 686h2v1h-2zM194 687h2v1h-2zM209 707h2v1h-2zM213 710h2v1h-2zM244 751h2v1h-2zM246 750h2v1h-2zM249 748h2v1h-2zM253 745h2v1h-2zM261 738h2v1h-2zM269 730h2v1h-2zM277 723h2v1h-2zM280 721h2v1h-2zM282 720h2v1h-2zM285 718h2v1h-2zM287 717h2v1h-2zM289 718h3v1h-3zM292 719h2v1h-2zM294 720h2v1h-2zM296 721h2v1h-2zM298 722h2v1h-2zM329 726h2v1h-2zM332 724h2v1h-2zM334 723h3v1h-3zM337 722h4v1h-4zM341 723h4v1h-4zM345 724h7v1h-7zM352 723h2v1h-2zM354 722h3v1h-3zM357 721h4v1h-4zM361 720h3v1h-3zM365 718h2v1h-2zM369 715h2v1h-2zM376 709h2v1h-2zM378 708h2v1h-2zM380 707h2v1h-2zM382 706h2v1h-2zM387 701h2v1h-2zM389 702h3v1h-3zM392 703h2v1h-2zM394 704h2v1h-2zM396 705h2v1h-2zM398 706h3v1h-3zM401 707h3v1h-3zM405 709h2v1h-2zM408 711h2v1h-2zM410 712h2v1h-2zM412 711h2v1h-2zM414 710h2v1h-2zM416 709h2v1h-2zM418 708h2v1h-2zM425 701h2v1h-2zM428 699h2v1h-2zM430 698h6v1h-6zM436 699h2v1h-2zM438 700h3v1h-3zM441 701h4v1h-4zM445 702h3v1h-3zM449 704h2v1h-2zM453 707h2v1h-2zM456 709h2v1h-2zM458 710h3v1h-3zM461 709h4v1h-4zM465 708h3v1h-3zM468 707h2v1h-2zM470 706h2v1h-2zM472 705h2v1h-2zM474 704h2v1h-2zM477 702h2v1h-2zM483 697h6v1h-6zM489 696h3v1h-3zM492 695h2v1h-2zM494 694h2v1h-2zM496 693h2v1h-2zM498 692h2v1h-2zM500 693h2v1h-2zM502 694h6v1h-6zM524 677h2v1h-2zM526 676h2v1h-2zM528 675h2v1h-2zM530 674h2v1h-2zM545 659h2v1h-2zM555 666h2v1h-2zM557 665h3v1h-3zM561 663h2v1h-2zM563 662h2v1h-2zM565 661h8v1h-8zM573 660h4v1h-4zM577 659h4v1h-4zM581 658h4v1h-4zM585 657h4v1h-4zM589 658h7v1h-7zM596 657h2v1h-2zM598 656h2v1h-2zM600 655h2v1h-2zM602 654h2v1h-2zM607 650h6v1h-6zM613 649h4v1h-4zM617 650h4v1h-4zM621 649h4v1h-4zM625 650h4v1h-4zM629 649h3v1h-3zM636 643h2v1h-2zM638 642h3v1h-3zM641 643h4v1h-4zM645 644h7v1h-7zM652 643h2v1h-2zM654 642h6v1h-6zM660 643h2v1h-2zM662 644h2v1h-2zM664 645h2v1h-2zM666 646h6v1h-6zM680 629h2v1h-2zM682 628h2v1h-2zM684 627h2v1h-2zM686 626h2v1h-2zM688 627h2v1h-2zM690 628h6v1h-6zM697 626h2v1h-2zM716 591h2v1h-2zM718 590h2v1h-2zM725 583h2v1h-2zM739 561h2v1h-2zM741 560h3v1h-3zM771 606h5v1h-5zM785 594h2v1h-2zM820 649h2v1h-2zM822 650h2v1h-2zM825 652h2v1h-2zM827 653h2v1h-2zM829 652h4v1h-4zM833 653h4v1h-4zM837 654h4v1h-4zM841 653h3v1h-3zM844 654h2v1h-2zM846 655h3v1h-3zM849 656h3v1h-3zM857 662h2v1h-2zM879 691h2v1h-2zM881 692h3v1h-3zM884 693h2v1h-2zM886 694h2v1h-2zM908 563h2v1h-2zM910 562h2v1h-2zM920 571h2v1h-2zM922 572h2v1h-2zM925 574h2v1h-2zM928 576h2v1h-2zM930 577h2v1h-2zM933 575h2v1h-2zM935 574h2v1h-2zM937 573h4v1h-4zM941 574h3v1h-3zM948 581h2v1h-2zM950 582h2v1h-2zM1003 697h3v1h-3zM1006 696h2v1h-2zM1008 697h2v1h-2zM1010 698h2v1h-2zM1012 697h2v1h-2zM1014 696h2v1h-2zM1020 690h2v1h-2zM1022 689h2v1h-2zM1033 691h2v1h-2zM1074 801h2v1h-2zM1124 633h2v1h-2zM1126 632h6v1h-6zM1132 631h2v1h-2zM1134 630h2v1h-2zM1141 637h2v1h-2zM1147 630h5v1h-5zM1156 635h2v1h-2zM1158 634h6v1h-6zM1164 633h2v1h-2zM1166 632h2v1h-2zM1168 631h2v1h-2zM1170 630h2v1h-2zM1200 616h2v1h-2zM1202 617h3v1h-3zM1205 618h3v1h-3zM1288 677h2v1h-2zM1290 678h2v1h-2zM1292 679h2v1h-2zM1294 680h2v1h-2zM1296 681h2v1h-2zM1298 682h7v1h-7zM1305 683h7v1h-7zM1336 629h2v1h-2zM1338 628h2v1h-2zM1383 788h2v1h-2zM1385 789h3v1h-3zM1408 751h2v1h-2zM1410 750h7v1h-7zM1417 751h3v1h-3zM1429 737h2v1h-2zM1431 736h2v1h-2zM1433 735h3v1h-3zM1455 696h9v1h-9zM1467 692h2v1h-2zM1469 691h4v1h-4zM1473 690h8v1h-8zM1481 689h3v1h-3zM1484 690h2v1h-2zM1486 691h3v1h-3zM1489 692h3v1h-3zM3 681h1v2h-1zM4 679h1v2h-1zM5 676h1v3h-1zM6 674h1v2h-1zM7 671h1v3h-1zM8 669h1v2h-1zM9 666h1v3h-1zM10 664h1v2h-1zM11 662h1v2h-1zM12 660h1v2h-1zM13 659h1v1h-1zM14 657h1v2h-1zM15 656h1v1h-1zM16 655h1v1h-1zM17 654h1v1h-1zM18 653h1v1h-1zM44 649h1v1h-1zM52 647h1v1h-1zM55 649h1v1h-1zM60 652h1v1h-1zM61 653h1v2h-1zM62 655h1v1h-1zM63 656h1v1h-1zM64 657h1v1h-1zM65 658h1v1h-1zM66 659h1v1h-1zM67 660h1v1h-1zM72 663h1v1h-1zM73 664h1v1h-1zM74 665h1v1h-1zM92 665h1v1h-1zM93 666h1v1h-1zM94 667h1v1h-1zM95 668h1v1h-1zM96 669h1v1h-1zM97 670h1v1h-1zM98 671h1v1h-1zM99 672h1v1h-1zM104 669h1v1h-1zM124 669h1v1h-1zM125 670h1v1h-1zM126 671h1v1h-1zM127 672h1v1h-1zM128 673h1v2h-1zM129 675h1v2h-1zM130 677h1v2h-1zM131 679h1v3h-1zM132 682h1v2h-1zM133 684h1v2h-1zM134 686h1v2h-1zM135 688h1v2h-1zM136 690h1v1h-1zM137 691h1v2h-1zM138 693h1v1h-1zM164 691h1v1h-1zM167 693h1v1h-1zM168 694h1v2h-1zM169 696h1v1h-1zM170 697h1v2h-1zM171 699h1v1h-1zM176 696h1v1h-1zM179 694h1v1h-1zM180 693h1v1h-1zM181 692h1v1h-1zM182 691h1v1h-1zM183 690h1v1h-1zM188 687h1v1h-1zM191 685h1v1h-1zM196 688h1v1h-1zM197 689h1v2h-1zM198 691h1v1h-1zM199 692h1v1h-1zM200 693h1v2h-1zM201 695h1v2h-1zM202 697h1v2h-1zM203 699h1v2h-1zM204 701h1v1h-1zM205 702h1v2h-1zM206 704h1v1h-1zM207 705h1v1h-1zM208 706h1v1h-1zM211 708h1v1h-1zM212 709h1v1h-1zM215 711h1v1h-1zM216 712h1v1h-1zM217 713h1v1h-1zM218 714h1v1h-1zM219 715h1v1h-1zM220 716h1v2h-1zM221 718h1v1h-1zM222 719h1v2h-1zM223 721h1v2h-1zM224 723h1v2h-1zM225 725h1v2h-1zM226 727h1v2h-1zM227 729h1v2h-1zM228 731h1v2h-1zM229 733h1v2h-1zM230 735h1v2h-1zM231 737h1v1h-1zM232 738h1v1h-1zM233 739h1v2h-1zM234 741h1v1h-1zM235 742h1v1h-1zM236 743h1v2h-1zM237 745h1v1h-1zM238 746h1v2h-1zM239 748h1v1h-1zM240 749h1v1h-1zM241 750h1v1h-1zM242 751h1v1h-1zM243 752h1v1h-1zM248 749h1v1h-1zM251 747h1v1h-1zM252 746h1v1h-1zM255 744h1v1h-1zM256 743h1v1h-1zM257 742h1v1h-1zM258 741h1v1h-1zM259 740h1v1h-1zM260 739h1v1h-1zM263 737h1v1h-1zM264 736h1v1h-1zM265 734h1v2h-1zM266 733h1v1h-1zM267 732h1v1h-1zM268 731h1v1h-1zM271 729h1v1h-1zM272 728h1v1h-1zM273 727h1v1h-1zM274 726h1v1h-1zM275 725h1v1h-1zM276 724h1v1h-1zM279 722h1v1h-1zM284 719h1v1h-1zM300 723h1v2h-1zM301 725h1v1h-1zM302 726h1v2h-1zM303 728h1v1h-1zM304 729h1v1h-1zM305 730h1v1h-1zM306 731h1v1h-1zM307 732h1v1h-1zM308 733h1v2h-1zM309 735h1v1h-1zM310 736h1v2h-1zM311 738h1v1h-1zM312 739h1v1h-1zM313 740h1v1h-1zM314 741h1v1h-1zM315 742h1v1h-1zM316 741h1v1h-1zM317 739h1v2h-1zM318 738h1v1h-1zM319 737h1v1h-1zM320 736h1v1h-1zM321 734h1v2h-1zM322 733h1v1h-1zM323 732h1v1h-1zM324 731h1v1h-1zM325 730h1v1h-1zM326 729h1v1h-1zM327 728h1v1h-1zM328 727h1v1h-1zM331 725h1v1h-1zM364 719h1v1h-1zM367 717h1v1h-1zM368 716h1v1h-1zM371 714h1v1h-1zM372 713h1v1h-1zM373 712h1v1h-1zM374 711h1v1h-1zM375 710h1v1h-1zM384 705h1v1h-1zM385 703h1v2h-1zM386 702h1v1h-1zM404 708h1v1h-1zM407 710h1v1h-1zM420 707h1v1h-1zM421 705h1v2h-1zM422 704h1v1h-1zM423 703h1v1h-1zM424 702h1v1h-1zM427 700h1v1h-1zM448 703h1v1h-1zM451 705h1v1h-1zM452 706h1v1h-1zM455 708h1v1h-1zM476 703h1v1h-1zM479 701h1v1h-1zM480 700h1v1h-1zM481 699h1v1h-1zM482 698h1v1h-1zM508 693h1v1h-1zM509 692h1v1h-1zM510 691h1v1h-1zM511 690h1v1h-1zM512 689h1v1h-1zM513 688h1v1h-1zM514 687h1v1h-1zM515 686h1v1h-1zM516 685h1v1h-1zM517 684h1v1h-1zM518 683h1v1h-1zM519 682h1v1h-1zM520 681h1v1h-1zM521 680h1v1h-1zM522 679h1v1h-1zM523 678h1v1h-1zM532 673h1v1h-1zM533 672h1v1h-1zM534 671h1v1h-1zM535 670h1v1h-1zM536 669h1v1h-1zM537 668h1v1h-1zM538 667h1v1h-1zM539 666h1v1h-1zM540 665h1v1h-1zM541 663h1v2h-1zM542 662h1v1h-1zM543 661h1v1h-1zM544 660h1v1h-1zM547 658h1v1h-1zM548 659h1v1h-1zM549 660h1v1h-1zM550 661h1v1h-1zM551 662h1v1h-1zM552 663h1v1h-1zM553 664h1v1h-1zM554 665h1v1h-1zM560 664h1v1h-1zM604 653h1v1h-1zM605 652h1v1h-1zM606 651h1v1h-1zM632 648h1v1h-1zM633 646h1v2h-1zM634 645h1v1h-1zM635 644h1v1h-1zM672 644h1v2h-1zM673 642h1v2h-1zM674 640h1v2h-1zM675 638h1v2h-1zM676 636h1v2h-1zM677 634h1v2h-1zM678 632h1v2h-1zM679 630h1v2h-1zM696 627h1v1h-1zM699 625h1v1h-1zM700 623h1v2h-1zM701 621h1v2h-1zM702 619h1v2h-1zM703 617h1v2h-1zM704 614h1v3h-1zM705 611h1v3h-1zM706 608h1v3h-1zM707 606h1v2h-1zM708 604h1v2h-1zM709 602h1v2h-1zM710 600h1v2h-1zM711 598h1v2h-1zM712 596h1v2h-1zM713 595h1v1h-1zM714 593h1v2h-1zM715 592h1v1h-1zM720 589h1v1h-1zM721 587h1v2h-1zM722 586h1v1h-1zM723 585h1v1h-1zM724 584h1v1h-1zM727 582h1v1h-1zM728 580h1v2h-1zM729 578h1v2h-1zM730 576h1v2h-1zM731 575h1v1h-1zM732 573h1v2h-1zM733 571h1v2h-1zM734 569h1v2h-1zM735 568h1v1h-1zM736 566h1v2h-1zM737 564h1v2h-1zM738 562h1v2h-1zM743 561h1v1h-1zM744 562h1v3h-1zM745 565h1v4h-1zM746 569h1v3h-1zM747 572h1v3h-1zM748 575h1v3h-1zM749 578h1v2h-1zM750 580h1v3h-1zM751 583h1v2h-1zM752 585h1v2h-1zM753 587h1v2h-1zM754 589h1v2h-1zM755 591h1v2h-1zM756 593h1v2h-1zM757 595h1v2h-1zM758 597h1v2h-1zM759 599h1v1h-1zM760 600h1v2h-1zM761 602h1v2h-1zM762 604h1v2h-1zM763 606h1v1h-1zM764 607h1v1h-1zM765 608h1v1h-1zM766 609h1v1h-1zM767 610h1v1h-1zM768 609h1v1h-1zM769 608h1v1h-1zM770 607h1v1h-1zM776 605h1v1h-1zM777 603h1v2h-1zM778 602h1v1h-1zM779 601h1v1h-1zM780 600h1v1h-1zM781 598h1v2h-1zM782 597h1v1h-1zM783 596h1v1h-1zM784 595h1v1h-1zM787 593h1v1h-1zM788 594h1v1h-1zM789 595h1v2h-1zM790 597h1v1h-1zM791 598h1v1h-1zM792 599h1v2h-1zM793 601h1v2h-1zM794 603h1v2h-1zM795 605h1v1h-1zM796 606h1v1h-1zM797 607h1v2h-1zM798 609h1v1h-1zM799 610h1v1h-1zM800 611h1v2h-1zM801 613h1v1h-1zM802 614h1v2h-1zM803 616h1v1h-1zM804 617h1v2h-1zM805 619h1v2h-1zM806 621h1v2h-1zM807 623h1v3h-1zM808 626h1v3h-1zM809 629h1v3h-1zM810 632h1v3h-1zM811 635h1v2h-1zM812 637h1v2h-1zM813 639h1v2h-1zM814 641h1v2h-1zM815 643h1v2h-1zM816 645h1v1h-1zM817 646h1v1h-1zM818 647h1v1h-1zM819 648h1v1h-1zM824 651h1v1h-1zM852 657h1v1h-1zM853 658h1v1h-1zM854 659h1v1h-1zM855 660h1v1h-1zM856 661h1v1h-1zM859 663h1v1h-1zM860 664h1v1h-1zM861 665h1v2h-1zM862 667h1v1h-1zM863 668h1v1h-1zM864 669h1v1h-1zM865 670h1v2h-1zM866 672h1v1h-1zM867 673h1v1h-1zM868 674h1v2h-1zM869 676h1v2h-1zM870 678h1v2h-1zM871 680h1v1h-1zM872 681h1v2h-1zM873 683h1v1h-1zM874 684h1v2h-1zM875 686h1v1h-1zM876 687h1v1h-1zM877 688h1v2h-1zM878 690h1v1h-1zM887 692h1v2h-1zM888 686h1v6h-1zM889 680h1v6h-1zM890 674h1v6h-1zM891 667h1v7h-1zM892 658h1v9h-1zM893 648h1v10h-1zM894 639h1v9h-1zM895 631h1v8h-1zM896 623h1v8h-1zM897 615h1v8h-1zM898 607h1v8h-1zM899 600h1v7h-1zM900 595h1v5h-1zM901 590h1v5h-1zM902 585h1v5h-1zM903 580h1v5h-1zM904 576h1v4h-1zM905 571h1v5h-1zM906 567h1v4h-1zM907 564h1v3h-1zM912 563h1v1h-1zM913 564h1v1h-1zM914 565h1v1h-1zM915 566h1v1h-1zM916 567h1v1h-1zM917 568h1v1h-1zM918 569h1v1h-1zM919 570h1v1h-1zM924 573h1v1h-1zM927 575h1v1h-1zM932 576h1v1h-1zM944 575h1v2h-1zM945 577h1v1h-1zM946 578h1v2h-1zM947 580h1v1h-1zM952 583h1v1h-1zM953 584h1v1h-1zM954 585h1v1h-1zM955 586h1v1h-1zM956 587h1v1h-1zM957 588h1v2h-1zM958 590h1v1h-1zM959 591h1v2h-1zM960 593h1v2h-1zM961 595h1v2h-1zM962 597h1v2h-1zM963 599h1v3h-1zM964 602h1v2h-1zM965 604h1v3h-1zM966 607h1v2h-1zM967 609h1v2h-1zM968 611h1v2h-1zM969 613h1v2h-1zM970 615h1v2h-1zM971 617h1v2h-1zM972 619h1v1h-1zM973 620h1v1h-1zM974 621h1v1h-1zM975 622h1v1h-1zM976 623h1v2h-1zM977 625h1v1h-1zM978 626h1v2h-1zM979 628h1v2h-1zM980 630h1v3h-1zM981 633h1v3h-1zM982 636h1v3h-1zM983 639h1v3h-1zM984 642h1v2h-1zM985 644h1v2h-1zM986 646h1v2h-1zM987 648h1v3h-1zM988 651h1v3h-1zM989 654h1v2h-1zM990 656h1v3h-1zM991 659h1v3h-1zM992 662h1v2h-1zM993 664h1v2h-1zM994 666h1v2h-1zM995 668h1v3h-1zM996 671h1v4h-1zM997 675h1v4h-1zM998 679h1v4h-1zM999 683h1v4h-1zM1000 687h1v3h-1zM1001 690h1v4h-1zM1002 694h1v3h-1zM1003 698h1v1h-1zM1016 695h1v1h-1zM1017 693h1v2h-1zM1018 692h1v1h-1zM1019 691h1v1h-1zM1024 688h1v1h-1zM1025 687h1v1h-1zM1026 686h1v1h-1zM1027 685h1v1h-1zM1028 686h1v1h-1zM1029 687h1v1h-1zM1030 688h1v1h-1zM1031 689h1v1h-1zM1032 690h1v1h-1zM1035 692h1v1h-1zM1036 693h1v2h-1zM1037 695h1v2h-1zM1038 697h1v2h-1zM1039 699h1v1h-1zM1040 700h1v2h-1zM1041 702h1v2h-1zM1042 704h1v2h-1zM1043 706h1v1h-1zM1044 707h1v1h-1zM1045 708h1v1h-1zM1046 709h1v1h-1zM1047 710h1v1h-1zM1048 711h1v1h-1zM1049 712h1v1h-1zM1050 713h1v1h-1zM1051 714h1v3h-1zM1052 717h1v4h-1zM1053 721h1v5h-1zM1054 726h1v4h-1zM1055 730h1v5h-1zM1056 735h1v5h-1zM1057 740h1v5h-1zM1058 745h1v5h-1zM1059 750h1v5h-1zM1060 755h1v4h-1zM1061 759h1v5h-1zM1062 764h1v4h-1zM1063 768h1v5h-1zM1064 773h1v4h-1zM1065 777h1v5h-1zM1066 782h1v4h-1zM1067 786h1v4h-1zM1068 790h1v2h-1zM1069 792h1v3h-1zM1070 795h1v2h-1zM1071 797h1v2h-1zM1072 799h1v1h-1zM1073 800h1v1h-1zM1075 802h1v1h-1zM1076 797h1v4h-1zM1077 794h1v3h-1zM1078 790h1v4h-1zM1079 787h1v3h-1zM1080 785h1v2h-1zM1081 782h1v3h-1zM1082 780h1v2h-1zM1083 778h1v2h-1zM1084 776h1v2h-1zM1085 774h1v2h-1zM1086 772h1v2h-1zM1087 771h1v1h-1zM1088 769h1v2h-1zM1089 768h1v1h-1zM1090 766h1v2h-1zM1091 764h1v2h-1zM1092 762h1v2h-1zM1093 759h1v3h-1zM1094 757h1v2h-1zM1095 753h1v4h-1zM1096 749h1v4h-1zM1097 745h1v4h-1zM1098 741h1v4h-1zM1099 736h1v5h-1zM1100 731h1v5h-1zM1101 725h1v6h-1zM1102 720h1v5h-1zM1103 716h1v4h-1zM1104 712h1v4h-1zM1105 708h1v4h-1zM1106 704h1v4h-1zM1107 700h1v4h-1zM1108 695h1v5h-1zM1109 690h1v5h-1zM1110 685h1v5h-1zM1111 680h1v5h-1zM1112 675h1v5h-1zM1113 671h1v4h-1zM1114 666h1v5h-1zM1115 662h1v4h-1zM1116 659h1v3h-1zM1117 655h1v4h-1zM1118 652h1v3h-1zM1119 649h1v3h-1zM1120 645h1v4h-1zM1121 641h1v4h-1zM1122 637h1v4h-1zM1123 634h1v3h-1zM1136 631h1v1h-1zM1137 632h1v2h-1zM1138 634h1v1h-1zM1139 635h1v1h-1zM1140 636h1v1h-1zM1143 638h1v1h-1zM1144 636h1v2h-1zM1145 634h1v2h-1zM1146 632h1v2h-1zM1147 631h1v1h-1zM1152 631h1v2h-1zM1153 633h1v1h-1zM1154 634h1v2h-1zM1155 636h1v1h-1zM1172 629h1v1h-1zM1173 628h1v1h-1zM1174 627h1v1h-1zM1175 626h1v1h-1zM1176 625h1v1h-1zM1177 624h1v1h-1zM1178 623h1v1h-1zM1179 622h1v1h-1zM1180 620h1v2h-1zM1181 618h1v2h-1zM1182 616h1v2h-1zM1183 613h1v3h-1zM1184 611h1v2h-1zM1185 609h1v2h-1zM1186 607h1v2h-1zM1187 605h1v2h-1zM1188 604h1v1h-1zM1189 603h1v1h-1zM1190 602h1v1h-1zM1191 601h1v1h-1zM1192 602h1v1h-1zM1193 603h1v1h-1zM1194 604h1v1h-1zM1195 605h1v2h-1zM1196 607h1v2h-1zM1197 609h1v3h-1zM1198 612h1v2h-1zM1199 614h1v2h-1zM1208 619h1v2h-1zM1209 621h1v2h-1zM1210 623h1v2h-1zM1211 625h1v2h-1zM1212 627h1v1h-1zM1213 628h1v1h-1zM1214 629h1v1h-1zM1215 630h1v2h-1zM1216 632h1v3h-1zM1217 635h1v2h-1zM1218 637h1v3h-1zM1219 640h1v3h-1zM1220 643h1v2h-1zM1221 645h1v2h-1zM1222 647h1v2h-1zM1223 649h1v3h-1zM1224 652h1v2h-1zM1225 654h1v3h-1zM1226 657h1v2h-1zM1227 659h1v3h-1zM1228 662h1v2h-1zM1229 664h1v2h-1zM1230 666h1v2h-1zM1231 668h1v3h-1zM1232 671h1v2h-1zM1233 673h1v2h-1zM1234 675h1v2h-1zM1235 677h1v2h-1zM1236 679h1v2h-1zM1237 681h1v1h-1zM1238 682h1v2h-1zM1239 684h1v1h-1zM1240 685h1v1h-1zM1241 686h1v2h-1zM1242 688h1v1h-1zM1243 689h1v1h-1zM1244 687h1v2h-1zM1245 685h1v2h-1zM1246 683h1v2h-1zM1247 682h1v1h-1zM1248 680h1v2h-1zM1249 679h1v1h-1zM1250 677h1v2h-1zM1251 676h1v1h-1zM1252 675h1v1h-1zM1253 673h1v2h-1zM1254 672h1v1h-1zM1255 671h1v1h-1zM1256 670h1v1h-1zM1257 668h1v2h-1zM1258 667h1v1h-1zM1259 666h1v1h-1zM1260 664h1v2h-1zM1261 663h1v1h-1zM1262 661h1v2h-1zM1263 660h1v1h-1zM1264 659h1v1h-1zM1265 657h1v2h-1zM1266 656h1v1h-1zM1267 655h1v1h-1zM1268 656h1v1h-1zM1269 657h1v2h-1zM1270 659h1v1h-1zM1271 660h1v1h-1zM1272 661h1v1h-1zM1273 662h1v1h-1zM1274 663h1v1h-1zM1275 664h1v1h-1zM1276 665h1v1h-1zM1277 666h1v1h-1zM1278 667h1v1h-1zM1279 668h1v1h-1zM1280 669h1v1h-1zM1281 670h1v1h-1zM1282 671h1v1h-1zM1283 672h1v1h-1zM1284 673h1v1h-1zM1285 674h1v1h-1zM1286 675h1v1h-1zM1287 676h1v1h-1zM1312 682h1v1h-1zM1313 680h1v2h-1zM1314 679h1v1h-1zM1315 677h1v2h-1zM1316 675h1v2h-1zM1317 672h1v3h-1zM1318 670h1v2h-1zM1319 667h1v3h-1zM1320 664h1v3h-1zM1321 662h1v2h-1zM1322 659h1v3h-1zM1323 656h1v3h-1zM1324 654h1v2h-1zM1325 652h1v2h-1zM1326 650h1v2h-1zM1327 648h1v2h-1zM1328 646h1v2h-1zM1329 644h1v2h-1zM1330 642h1v2h-1zM1331 639h1v3h-1zM1332 637h1v2h-1zM1333 634h1v3h-1zM1334 632h1v2h-1zM1335 630h1v2h-1zM1339 629h1v1h-1zM1340 630h1v4h-1zM1341 634h1v4h-1zM1342 638h1v4h-1zM1343 642h1v4h-1zM1344 646h1v2h-1zM1345 648h1v3h-1zM1346 651h1v2h-1zM1347 653h1v3h-1zM1348 656h1v3h-1zM1349 659h1v2h-1zM1350 661h1v3h-1zM1351 664h1v3h-1zM1352 667h1v2h-1zM1353 669h1v3h-1zM1354 672h1v2h-1zM1355 674h1v3h-1zM1356 677h1v3h-1zM1357 680h1v4h-1zM1358 684h1v3h-1zM1359 687h1v3h-1zM1360 690h1v3h-1zM1361 693h1v4h-1zM1362 697h1v3h-1zM1363 700h1v3h-1zM1364 703h1v3h-1zM1365 706h1v4h-1zM1366 710h1v3h-1zM1367 713h1v4h-1zM1368 717h1v5h-1zM1369 722h1v6h-1zM1370 728h1v5h-1zM1371 733h1v5h-1zM1372 738h1v6h-1zM1373 744h1v6h-1zM1374 750h1v6h-1zM1375 756h1v6h-1zM1376 762h1v4h-1zM1377 766h1v4h-1zM1378 770h1v4h-1zM1379 774h1v4h-1zM1380 778h1v3h-1zM1381 781h1v3h-1zM1382 784h1v3h-1zM1383 787h1v1h-1zM1388 787h1v2h-1zM1389 785h1v2h-1zM1390 783h1v2h-1zM1391 782h1v1h-1zM1392 781h1v1h-1zM1393 779h1v2h-1zM1394 778h1v1h-1zM1395 776h1v2h-1zM1396 774h1v2h-1zM1397 772h1v2h-1zM1398 770h1v2h-1zM1399 767h1v3h-1zM1400 765h1v2h-1zM1401 763h1v2h-1zM1402 761h1v2h-1zM1403 759h1v2h-1zM1404 757h1v2h-1zM1405 755h1v2h-1zM1406 753h1v2h-1zM1407 752h1v1h-1zM1420 749h1v2h-1zM1421 748h1v1h-1zM1422 746h1v2h-1zM1423 745h1v1h-1zM1424 743h1v2h-1zM1425 742h1v1h-1zM1426 740h1v2h-1zM1427 739h1v1h-1zM1428 738h1v1h-1zM1436 733h1v2h-1zM1437 731h1v2h-1zM1438 729h1v2h-1zM1439 726h1v3h-1zM1440 724h1v2h-1zM1441 721h1v3h-1zM1442 719h1v2h-1zM1443 716h1v3h-1zM1444 714h1v2h-1zM1445 712h1v2h-1zM1446 710h1v2h-1zM1447 708h1v2h-1zM1448 706h1v2h-1zM1449 704h1v2h-1zM1450 702h1v2h-1zM1451 701h1v1h-1zM1452 700h1v1h-1zM1453 698h1v2h-1zM1454 697h1v1h-1zM1464 695h1v1h-1zM1465 694h1v1h-1zM1466 693h1v1h-1z" fill="#c0c0c0" shape-rendering="crispEdges"/>
<path d="M34 658h2v1h-2zM39 654h2v1h-2zM41 653h2v1h-2zM43 652h2v1h-2zM45 651h4v1h-4zM49 650h17v1h-17zM66 651h4v1h-4zM70 652h3v1h-3zM73 653h2v1h-2zM75 654h2v1h-2zM77 655h2v1h-2zM79 656h2v1h-2zM81 657h2v1h-2zM83 658h2v1h-2zM85 659h2v1h-2zM87 660h2v1h-2zM89 661h2v1h-2zM91 662h2v1h-2zM93 663h2v1h-2zM95 664h2v1h-2zM97 665h2v1h-2zM99 666h6v1h-6zM105 667h19v1h-19zM124 668h6v1h-6zM130 669h2v1h-2zM132 670h2v1h-2zM134 671h2v1h-2zM136 672h2v1h-2zM140 675h2v1h-2zM143 677h2v1h-2zM146 679h2v1h-2zM148 680h2v1h-2zM151 682h2v1h-2zM153 683h2v1h-2zM156 685h2v1h-2zM158 686h2v1h-2zM161 688h2v1h-2zM163 689h2v1h-2zM165 690h2v1h-2zM167 691h4v1h-4zM171 692h32v1h-32zM203 693h7v1h-7zM210 694h2v1h-2zM212 695h2v1h-2zM214 696h2v1h-2zM216 697h2v1h-2zM219 699h2v1h-2zM244 733h2v1h-2zM249 737h2v1h-2zM253 740h2v1h-2zM255 741h2v1h-2zM257 742h2v1h-2zM259 743h2v1h-2zM261 744h5v1h-5zM266 743h5v1h-5zM271 742h2v1h-2zM274 740h2v1h-2zM276 739h2v1h-2zM288 728h2v1h-2zM292 725h2v1h-2zM294 724h2v1h-2zM296 723h3v1h-3zM299 722h11v1h-11zM310 723h2v1h-2zM312 724h2v1h-2zM314 725h2v1h-2zM316 726h2v1h-2zM318 727h2v1h-2zM320 728h2v1h-2zM322 729h2v1h-2zM324 730h3v1h-3zM327 731h4v1h-4zM331 732h3v1h-3zM334 731h4v1h-4zM338 730h5v1h-5zM343 729h5v1h-5zM348 728h3v1h-3zM351 727h2v1h-2zM353 726h2v1h-2zM355 725h2v1h-2zM357 724h4v1h-4zM361 723h5v1h-5zM366 722h4v1h-4zM370 721h2v1h-2zM372 720h3v1h-3zM375 719h2v1h-2zM377 718h2v1h-2zM380 716h2v1h-2zM382 715h2v1h-2zM384 714h3v1h-3zM387 713h2v1h-2zM389 712h2v1h-2zM391 711h2v1h-2zM393 710h2v1h-2zM395 709h2v1h-2zM397 708h3v1h-3zM400 707h4v1h-4zM404 706h27v1h-27zM431 705h5v1h-5zM436 704h5v1h-5zM441 703h5v1h-5zM446 702h8v1h-8zM454 701h8v1h-8zM462 702h4v1h-4zM466 703h4v1h-4zM470 704h4v1h-4zM474 705h8v1h-8zM482 704h8v1h-8zM490 703h2v1h-2zM492 702h3v1h-3zM495 701h2v1h-2zM497 700h2v1h-2zM499 699h2v1h-2zM501 698h2v1h-2zM503 697h2v1h-2zM505 696h2v1h-2zM507 695h2v1h-2zM509 694h3v1h-3zM512 693h2v1h-2zM514 692h2v1h-2zM516 691h3v1h-3zM519 690h2v1h-2zM521 689h2v1h-2zM523 688h2v1h-2zM525 687h2v1h-2zM527 686h2v1h-2zM529 685h2v1h-2zM531 684h2v1h-2zM533 683h2v1h-2zM545 672h2v1h-2zM547 671h2v1h-2zM549 670h3v1h-3zM552 669h2v1h-2zM554 668h3v1h-3zM557 667h2v1h-2zM559 666h3v1h-3zM562 665h2v1h-2zM564 664h5v1h-5zM569 663h6v1h-6zM575 662h15v1h-15zM590 661h3v1h-3zM593 660h4v1h-4zM597 659h3v1h-3zM600 658h4v1h-4zM604 657h4v1h-4zM608 656h4v1h-4zM612 655h2v1h-2zM614 654h3v1h-3zM617 653h2v1h-2zM619 652h6v1h-6zM625 651h7v1h-7zM632 650h3v1h-3zM635 649h4v1h-4zM639 648h4v1h-4zM643 647h5v1h-5zM648 646h5v1h-5zM653 645h5v1h-5zM658 644h15v1h-15zM673 643h2v1h-2zM675 642h2v1h-2zM677 641h2v1h-2zM679 640h3v1h-3zM682 639h2v1h-2zM684 638h2v1h-2zM686 637h3v1h-3zM689 636h2v1h-2zM691 635h2v1h-2zM693 634h2v1h-2zM695 633h2v1h-2zM697 632h2v1h-2zM699 631h2v1h-2zM701 630h2v1h-2zM746 577h2v1h-2zM749 575h2v1h-2zM751 574h2v1h-2zM753 575h4v1h-4zM757 576h2v1h-2zM759 577h2v1h-2zM764 581h2v1h-2zM782 599h3v1h-3zM785 600h5v1h-5zM790 601h8v1h-8zM798 602h7v1h-7zM808 606h2v1h-2zM841 646h2v1h-2zM844 648h2v1h-2zM846 649h2v1h-2zM848 650h2v1h-2zM850 651h2v1h-2zM852 652h3v1h-3zM855 653h2v1h-2zM857 654h2v1h-2zM859 655h2v1h-2zM861 656h2v1h-2zM863 657h2v1h-2zM865 658h2v1h-2zM867 659h2v1h-2zM873 664h2v1h-2zM887 678h2v1h-2zM890 678h2v1h-2zM893 676h2v1h-2zM932 573h2v1h-2zM934 572h2v1h-2zM936 571h2v1h-2zM938 570h3v1h-3zM941 571h3v1h-3zM944 572h3v1h-3zM947 573h2v1h-2zM949 574h3v1h-3zM952 575h2v1h-2zM954 576h2v1h-2zM956 577h2v1h-2zM958 578h2v1h-2zM961 580h2v1h-2zM963 581h2v1h-2zM1026 688h2v1h-2zM1028 689h2v1h-2zM1030 690h2v1h-2zM1032 691h2v1h-2zM1034 692h9v1h-9zM1043 693h2v1h-2zM1045 694h2v1h-2zM1047 695h2v1h-2zM1049 696h2v1h-2zM1090 780h2v1h-2zM1092 781h3v1h-3zM1095 780h2v1h-2zM1097 779h2v1h-2zM1149 635h2v1h-2zM1152 633h2v1h-2zM1154 632h6v1h-6zM1160 633h9v1h-9zM1169 632h6v1h-6zM1175 631h4v1h-4zM1179 630h2v1h-2zM1181 629h2v1h-2zM1183 628h2v1h-2zM1185 627h2v1h-2zM1187 626h2v1h-2zM1199 615h2v1h-2zM1201 614h2v1h-2zM1203 613h2v1h-2zM1205 612h10v1h-10zM1252 670h2v1h-2zM1255 672h2v1h-2zM1257 673h2v1h-2zM1259 674h8v1h-8zM1267 673h2v1h-2zM1269 672h2v1h-2zM1271 671h2v1h-2zM1273 670h2v1h-2zM1275 669h2v1h-2zM1277 668h2v1h-2zM1279 667h2v1h-2zM1281 666h11v1h-11zM1292 667h2v1h-2zM1294 668h2v1h-2zM1296 669h2v1h-2zM1298 670h2v1h-2zM1301 672h2v1h-2zM1304 674h2v1h-2zM1306 675h2v1h-2zM1309 677h2v1h-2zM1311 678h2v1h-2zM1313 679h2v1h-2zM1315 680h2v1h-2zM1317 679h2v1h-2zM1319 678h2v1h-2zM1321 677h2v1h-2zM1323 676h2v1h-2zM1325 675h2v1h-2zM1327 674h2v1h-2zM1346 649h2v1h-2zM1348 648h2v1h-2zM1350 647h2v1h-2zM1353 647h2v1h-2zM1355 648h2v1h-2zM1357 649h2v1h-2zM1359 650h2v1h-2zM1404 772h3v1h-3zM1407 773h3v1h-3zM1410 772h2v1h-2zM1412 771h2v1h-2zM1414 770h2v1h-2zM1475 698h2v1h-2zM1477 697h2v1h-2zM1479 696h2v1h-2zM1481 695h2v1h-2zM1483 694h3v1h-3zM1486 693h3v1h-3zM1489 692h2v1h-2zM3 710h1v1h-1zM4 708h1v2h-1zM5 707h1v1h-1zM6 705h1v2h-1zM7 703h1v2h-1zM8 702h1v1h-1zM9 700h1v2h-1zM10 698h1v2h-1zM11 696h1v2h-1zM12 694h1v2h-1zM13 692h1v2h-1zM14 690h1v2h-1zM15 688h1v2h-1zM16 686h1v2h-1zM17 684h1v2h-1zM18 682h1v2h-1zM19 680h1v2h-1zM20 678h1v2h-1zM21 676h1v2h-1zM22 674h1v2h-1zM23 672h1v2h-1zM24 671h1v1h-1zM25 669h1v2h-1zM26 668h1v1h-1zM27 666h1v2h-1zM28 665h1v1h-1zM29 663h1v2h-1zM30 662h1v1h-1zM31 661h1v1h-1zM32 660h1v1h-1zM33 659h1v1h-1zM36 657h1v1h-1zM37 656h1v1h-1zM38 655h1v1h-1zM138 673h1v1h-1zM139 674h1v1h-1zM142 676h1v1h-1zM145 678h1v1h-1zM150 681h1v1h-1zM155 684h1v1h-1zM160 687h1v1h-1zM218 698h1v1h-1zM221 700h1v1h-1zM222 701h1v2h-1zM223 703h1v1h-1zM224 704h1v2h-1zM225 706h1v2h-1zM226 708h1v1h-1zM227 709h1v2h-1zM228 711h1v2h-1zM229 713h1v2h-1zM230 715h1v2h-1zM231 717h1v2h-1zM232 719h1v1h-1zM233 720h1v1h-1zM234 721h1v2h-1zM235 723h1v1h-1zM236 724h1v1h-1zM237 725h1v1h-1zM238 726h1v2h-1zM239 728h1v1h-1zM240 729h1v1h-1zM241 730h1v1h-1zM242 731h1v1h-1zM243 732h1v1h-1zM246 734h1v1h-1zM247 735h1v1h-1zM248 736h1v1h-1zM251 738h1v1h-1zM252 739h1v1h-1zM273 741h1v1h-1zM278 738h1v1h-1zM279 737h1v1h-1zM280 736h1v1h-1zM281 735h1v1h-1zM282 734h1v1h-1zM283 733h1v1h-1zM284 732h1v1h-1zM285 731h1v1h-1zM286 730h1v1h-1zM287 729h1v1h-1zM290 727h1v1h-1zM291 726h1v1h-1zM379 717h1v1h-1zM535 682h1v1h-1zM536 681h1v1h-1zM537 680h1v1h-1zM538 679h1v1h-1zM539 678h1v1h-1zM540 677h1v1h-1zM541 676h1v1h-1zM542 675h1v1h-1zM543 674h1v1h-1zM544 673h1v1h-1zM703 629h1v1h-1zM704 628h1v1h-1zM705 627h1v1h-1zM706 625h1v2h-1zM707 624h1v1h-1zM708 623h1v1h-1zM709 622h1v1h-1zM710 621h1v1h-1zM711 620h1v1h-1zM712 619h1v1h-1zM713 618h1v1h-1zM714 617h1v1h-1zM715 616h1v1h-1zM716 615h1v1h-1zM717 614h1v1h-1zM718 613h1v1h-1zM719 612h1v1h-1zM720 611h1v1h-1zM721 610h1v1h-1zM722 609h1v1h-1zM723 607h1v2h-1zM724 606h1v1h-1zM725 605h1v1h-1zM726 604h1v1h-1zM727 603h1v1h-1zM728 601h1v2h-1zM729 600h1v1h-1zM730 599h1v1h-1zM731 597h1v2h-1zM732 596h1v1h-1zM733 595h1v1h-1zM734 593h1v2h-1zM735 592h1v1h-1zM736 591h1v1h-1zM737 589h1v2h-1zM738 588h1v1h-1zM739 586h1v2h-1zM740 585h1v1h-1zM741 584h1v1h-1zM742 582h1v2h-1zM743 581h1v1h-1zM744 579h1v2h-1zM745 578h1v1h-1zM748 576h1v1h-1zM761 578h1v1h-1zM762 579h1v1h-1zM763 580h1v1h-1zM766 582h1v1h-1zM767 583h1v1h-1zM768 584h1v1h-1zM769 585h1v1h-1zM770 586h1v1h-1zM771 587h1v1h-1zM772 588h1v2h-1zM773 590h1v1h-1zM774 591h1v1h-1zM775 592h1v1h-1zM776 593h1v1h-1zM777 594h1v1h-1zM778 595h1v1h-1zM779 596h1v1h-1zM780 597h1v1h-1zM781 598h1v1h-1zM805 603h1v1h-1zM806 604h1v1h-1zM807 605h1v1h-1zM810 607h1v1h-1zM811 608h1v1h-1zM812 609h1v1h-1zM813 610h1v1h-1zM814 611h1v2h-1zM815 613h1v1h-1zM816 614h1v1h-1zM817 615h1v2h-1zM818 617h1v1h-1zM819 618h1v1h-1zM820 619h1v2h-1zM821 621h1v1h-1zM822 622h1v1h-1zM823 623h1v2h-1zM824 625h1v1h-1zM825 626h1v1h-1zM826 627h1v2h-1zM827 629h1v1h-1zM828 630h1v2h-1zM829 632h1v1h-1zM830 633h1v1h-1zM831 634h1v2h-1zM832 636h1v1h-1zM833 637h1v1h-1zM834 638h1v1h-1zM835 639h1v1h-1zM836 640h1v2h-1zM837 642h1v1h-1zM838 643h1v1h-1zM839 644h1v1h-1zM840 645h1v1h-1zM843 647h1v1h-1zM869 660h1v1h-1zM870 661h1v1h-1zM871 662h1v1h-1zM872 663h1v1h-1zM875 665h1v1h-1zM876 666h1v1h-1zM877 667h1v1h-1zM878 668h1v1h-1zM879 669h1v1h-1zM880 670h1v1h-1zM881 671h1v1h-1zM882 672h1v2h-1zM883 674h1v1h-1zM884 675h1v1h-1zM885 676h1v1h-1zM886 677h1v1h-1zM889 679h1v1h-1zM892 677h1v1h-1zM895 674h1v2h-1zM896 672h1v2h-1zM897 670h1v2h-1zM898 668h1v2h-1zM899 666h1v2h-1zM900 664h1v2h-1zM901 662h1v2h-1zM902 659h1v3h-1zM903 656h1v3h-1zM904 653h1v3h-1zM905 650h1v3h-1zM906 646h1v4h-1zM907 643h1v3h-1zM908 640h1v3h-1zM909 637h1v3h-1zM910 634h1v3h-1zM911 630h1v4h-1zM912 627h1v3h-1zM913 624h1v3h-1zM914 620h1v4h-1zM915 617h1v3h-1zM916 614h1v3h-1zM917 610h1v4h-1zM918 607h1v3h-1zM919 603h1v4h-1zM920 599h1v4h-1zM921 596h1v3h-1zM922 592h1v4h-1zM923 588h1v4h-1zM924 584h1v4h-1zM925 582h1v2h-1zM926 581h1v1h-1zM927 579h1v2h-1zM928 578h1v1h-1zM929 577h1v1h-1zM930 575h1v2h-1zM931 574h1v1h-1zM960 579h1v1h-1zM965 582h1v1h-1zM966 583h1v1h-1zM967 584h1v1h-1zM968 585h1v2h-1zM969 587h1v1h-1zM970 588h1v1h-1zM971 589h1v1h-1zM972 590h1v1h-1zM973 591h1v2h-1zM974 593h1v1h-1zM975 594h1v1h-1zM976 595h1v2h-1zM977 597h1v2h-1zM978 599h1v1h-1zM979 600h1v2h-1zM980 602h1v2h-1zM981 604h1v2h-1zM982 606h1v1h-1zM983 607h1v2h-1zM984 609h1v2h-1zM985 611h1v1h-1zM986 612h1v2h-1zM987 614h1v2h-1zM988 616h1v2h-1zM989 618h1v2h-1zM990 620h1v2h-1zM991 622h1v2h-1zM992 624h1v2h-1zM993 626h1v2h-1zM994 628h1v2h-1zM995 630h1v3h-1zM996 633h1v3h-1zM997 636h1v2h-1zM998 638h1v3h-1zM999 641h1v3h-1zM1000 644h1v2h-1zM1001 646h1v3h-1zM1002 649h1v2h-1zM1003 651h1v2h-1zM1004 653h1v2h-1zM1005 655h1v2h-1zM1006 657h1v2h-1zM1007 659h1v2h-1zM1008 661h1v2h-1zM1009 663h1v2h-1zM1010 665h1v2h-1zM1011 667h1v2h-1zM1012 669h1v2h-1zM1013 671h1v1h-1zM1014 672h1v2h-1zM1015 674h1v1h-1zM1016 675h1v2h-1zM1017 677h1v2h-1zM1018 679h1v1h-1zM1019 680h1v1h-1zM1020 681h1v1h-1zM1021 682h1v1h-1zM1022 683h1v2h-1zM1023 685h1v1h-1zM1024 686h1v1h-1zM1025 687h1v1h-1zM1051 697h1v1h-1zM1052 698h1v1h-1zM1053 699h1v1h-1zM1054 700h1v1h-1zM1055 701h1v1h-1zM1056 702h1v2h-1zM1057 704h1v1h-1zM1058 705h1v2h-1zM1059 707h1v2h-1zM1060 709h1v2h-1zM1061 711h1v3h-1zM1062 714h1v2h-1zM1063 716h1v3h-1zM1064 719h1v3h-1zM1065 722h1v3h-1zM1066 725h1v3h-1zM1067 728h1v3h-1zM1068 731h1v3h-1zM1069 734h1v3h-1zM1070 737h1v3h-1zM1071 740h1v3h-1zM1072 743h1v3h-1zM1073 746h1v3h-1zM1074 749h1v3h-1zM1075 752h1v3h-1zM1076 755h1v2h-1zM1077 757h1v2h-1zM1078 759h1v3h-1zM1079 762h1v2h-1zM1080 764h1v2h-1zM1081 766h1v2h-1zM1082 768h1v2h-1zM1083 770h1v2h-1zM1084 772h1v2h-1zM1085 774h1v1h-1zM1086 775h1v1h-1zM1087 776h1v1h-1zM1088 777h1v2h-1zM1089 779h1v1h-1zM1099 777h1v2h-1zM1100 776h1v1h-1zM1101 774h1v2h-1zM1102 772h1v2h-1zM1103 770h1v2h-1zM1104 767h1v3h-1zM1105 765h1v2h-1zM1106 762h1v3h-1zM1107 759h1v3h-1zM1108 756h1v3h-1zM1109 752h1v4h-1zM1110 748h1v4h-1zM1111 744h1v4h-1zM1112 740h1v4h-1zM1113 737h1v3h-1zM1114 733h1v4h-1zM1115 729h1v4h-1zM1116 725h1v4h-1zM1117 721h1v4h-1zM1118 717h1v4h-1zM1119 713h1v4h-1zM1120 710h1v3h-1zM1121 706h1v4h-1zM1122 702h1v4h-1zM1123 699h1v3h-1zM1124 695h1v4h-1zM1125 691h1v4h-1zM1126 687h1v4h-1zM1127 683h1v4h-1zM1128 679h1v4h-1zM1129 677h1v2h-1zM1130 674h1v3h-1zM1131 671h1v3h-1zM1132 668h1v3h-1zM1133 665h1v3h-1zM1134 663h1v2h-1zM1135 660h1v3h-1zM1136 657h1v3h-1zM1137 654h1v3h-1zM1138 652h1v2h-1zM1139 650h1v2h-1zM1140 648h1v2h-1zM1141 646h1v2h-1zM1142 644h1v2h-1zM1143 642h1v2h-1zM1144 640h1v2h-1zM1145 639h1v1h-1zM1146 638h1v1h-1zM1147 637h1v1h-1zM1148 636h1v1h-1zM1151 634h1v1h-1zM1189 625h1v1h-1zM1190 624h1v1h-1zM1191 623h1v1h-1zM1192 622h1v1h-1zM1193 621h1v1h-1zM1194 620h1v1h-1zM1195 619h1v1h-1zM1196 618h1v1h-1zM1197 617h1v1h-1zM1198 616h1v1h-1zM1215 613h1v1h-1zM1216 614h1v1h-1zM1217 615h1v1h-1zM1218 616h1v1h-1zM1219 617h1v1h-1zM1220 618h1v1h-1zM1221 619h1v1h-1zM1222 620h1v2h-1zM1223 622h1v1h-1zM1224 623h1v1h-1zM1225 624h1v2h-1zM1226 626h1v1h-1zM1227 627h1v1h-1zM1228 628h1v2h-1zM1229 630h1v1h-1zM1230 631h1v2h-1zM1231 633h1v2h-1zM1232 635h1v2h-1zM1233 637h1v2h-1zM1234 639h1v2h-1zM1235 641h1v2h-1zM1236 643h1v2h-1zM1237 645h1v2h-1zM1238 647h1v2h-1zM1239 649h1v2h-1zM1240 651h1v1h-1zM1241 652h1v2h-1zM1242 654h1v2h-1zM1243 656h1v2h-1zM1244 658h1v1h-1zM1245 659h1v2h-1zM1246 661h1v1h-1zM1247 662h1v2h-1zM1248 664h1v2h-1zM1249 666h1v1h-1zM1250 667h1v2h-1zM1251 669h1v1h-1zM1254 671h1v1h-1zM1300 671h1v1h-1zM1303 673h1v1h-1zM1308 676h1v1h-1zM1329 672h1v2h-1zM1330 671h1v1h-1zM1331 669h1v2h-1zM1332 668h1v1h-1zM1333 666h1v2h-1zM1334 665h1v1h-1zM1335 663h1v2h-1zM1336 662h1v1h-1zM1337 660h1v2h-1zM1338 659h1v1h-1zM1339 658h1v1h-1zM1340 656h1v2h-1zM1341 655h1v1h-1zM1342 654h1v1h-1zM1343 652h1v2h-1zM1344 651h1v1h-1zM1345 650h1v1h-1zM1352 646h1v1h-1zM1361 651h1v2h-1zM1362 653h1v2h-1zM1363 655h1v2h-1zM1364 657h1v2h-1zM1365 659h1v2h-1zM1366 661h1v2h-1zM1367 663h1v2h-1zM1368 665h1v2h-1zM1369 667h1v4h-1zM1370 671h1v4h-1zM1371 675h1v4h-1zM1372 679h1v4h-1zM1373 683h1v4h-1zM1374 687h1v4h-1zM1375 691h1v4h-1zM1376 695h1v4h-1zM1377 699h1v4h-1zM1378 703h1v4h-1zM1379 707h1v5h-1zM1380 712h1v4h-1zM1381 716h1v4h-1zM1382 720h1v4h-1zM1383 724h1v3h-1zM1384 727h1v4h-1zM1385 731h1v3h-1zM1386 734h1v3h-1zM1387 737h1v3h-1zM1388 740h1v4h-1zM1389 744h1v3h-1zM1390 747h1v3h-1zM1391 750h1v2h-1zM1392 752h1v2h-1zM1393 754h1v2h-1zM1394 756h1v2h-1zM1395 758h1v2h-1zM1396 760h1v2h-1zM1397 762h1v2h-1zM1398 764h1v2h-1zM1399 766h1v1h-1zM1400 767h1v1h-1zM1401 768h1v2h-1zM1402 770h1v1h-1zM1403 771h1v1h-1zM1416 769h1v1h-1zM1417 767h1v2h-1zM1418 766h1v1h-1zM1419 765h1v1h-1zM1420 763h1v2h-1zM1421 762h1v1h-1zM1422 761h1v1h-1zM1423 760h1v1h-1zM1424 759h1v1h-1zM1425 758h1v1h-1zM1426 756h1v2h-1zM1427 755h1v1h-1zM1428 754h1v1h-1zM1429 753h1v1h-1zM1430 752h1v1h-1zM1431 751h1v1h-1zM1432 750h1v1h-1zM1433 749h1v1h-1zM1434 748h1v1h-1zM1435 747h1v1h-1zM1436 746h1v1h-1zM1437 745h1v1h-1zM1438 744h1v1h-1zM1439 743h1v1h-1zM1440 742h1v1h-1zM1441 741h1v1h-1zM1442 740h1v1h-1zM1443 739h1v1h-1zM1444 738h1v1h-1zM1445 736h1v2h-1zM1446 735h1v1h-1zM1447 734h1v1h-1zM1448 733h1v1h-1zM1449 732h1v1h-1zM1450 731h1v1h-1zM1451 729h1v2h-1zM1452 728h1v1h-1zM1453 726h1v2h-1zM1454 725h1v1h-1zM1455 723h1v2h-1zM1456 722h1v1h-1zM1457 720h1v2h-1zM1458 719h1v1h-1zM1459 718h1v1h-1zM1460 716h1v2h-1zM1461 715h1v1h-1zM1462 714h1v1h-1zM1463 712h1v2h-1zM1464 711h1v1h-1zM1465 710h1v1h-1zM1466 708h1v2h-1zM1467 707h1v1h-1zM1468 706h1v1h-1zM1469 705h1v1h-1zM1470 704h1v1h-1zM1471 703h1v1h-1zM1472 701h1v2h-1zM1473 700h1v1h-1zM1474 699h1v1h-1z" fill="#000" shape-rendering="crispEdges"/>
<g shape-rendering="crispEdges" fill="#000">
<rect x="2" y="2" width="1" height="815"/>
<rect x="2" y="2" width="1502" height="1"/>
<rect x="1503" y="2" width="1" height="815"/>
<rect x="2" y="544" width="1502" height="1"/>
<rect x="2" y="546" width="1502" height="1"/>
<rect x="2" y="816" width="1502" height="1"/>
<rect x="1504" y="35" width="2" height="1"/><rect x="1504" y="84" width="2" height="1"/><rect x="1504" y="133" width="2" height="1"/><rect x="1504" y="182" width="2" height="1"/><rect x="1504" y="231" width="2" height="1"/><rect x="1504" y="280" width="2" height="1"/><rect x="1504" y="329" width="2" height="1"/><rect x="1504" y="378" width="2" height="1"/><rect x="1504" y="427" width="2" height="1"/><rect x="1504" y="476" width="2" height="1"/><rect x="1504" y="525" width="2" height="1"/><rect x="1504" y="548" width="1" height="1"/><rect x="1504" y="708" width="1" height="1"/><rect x="1504" y="815" width="1" height="1"/><rect x="3" y="817" width="1" height="3"/><rect x="99" y="817" width="1" height="3"/><rect x="195" y="817" width="1" height="3"/><rect x="291" y="817" width="1" height="3"/><rect x="387" y="817" width="1" height="3"/><rect x="483" y="817" width="1" height="3"/><rect x="579" y="817" width="1" height="3"/><rect x="675" y="817" width="1" height="3"/><rect x="771" y="817" width="1" height="3"/><rect x="867" y="817" width="1" height="3"/><rect x="963" y="817" width="1" height="3"/><rect x="1059" y="817" width="1" height="3"/><rect x="1155" y="817" width="1" height="3"/><rect x="1251" y="817" width="1" height="3"/><rect x="1347" y="817" width="1" height="3"/><rect x="1443" y="817" width="1" height="3"/>
</g>
<g shape-rendering="crispEdges" fill="#000"><rect x="6" y="10" width="9" height="1"/><rect x="7" y="11" width="7" height="1"/><rect x="8" y="12" width="5" height="1"/><rect x="9" y="13" width="3" height="1"/><rect x="10" y="14" width="1" height="1"/></g>
<text x="21.2" y="17" fill="#000" textLength="49.0" lengthAdjust="spacingAndGlyphs">CORN,H4</text>
<text x="79.2" y="17" fill="#000" textLength="38.0" lengthAdjust="spacingAndGlyphs">546.53</text>
<text x="122" y="17" fill="#000" textLength="38" lengthAdjust="spacingAndGlyphs">548.91</text>
<text x="165" y="17" fill="#000" textLength="38.3" lengthAdjust="spacingAndGlyphs">546.16</text>
<text x="207.8" y="17" fill="#000" textLength="38.4" lengthAdjust="spacingAndGlyphs">547.66</text>
<text x="7.2" y="562.4" fill="#000" textLength="84.4" lengthAdjust="spacingAndGlyphs">MACD(12,26,9)</text>
<text x="96" y="562.4" fill="#000" textLength="30.6" lengthAdjust="spacingAndGlyphs">1.182</text>
<text x="132" y="562.4" fill="#000" textLength="31" lengthAdjust="spacingAndGlyphs">1.190</text>
<text x="171.8" y="562.4" fill="#000" textLength="47.0" lengthAdjust="spacingAndGlyphs">-&gt;MA(1)</text>
<text x="223.2" y="562.4" fill="#000" textLength="31.1" lengthAdjust="spacingAndGlyphs">1.182</text>
<text x="1510" y="40" text-anchor="start" fill="#000" textLength="38" lengthAdjust="spacing">570.00</text>
<text x="1510" y="138" text-anchor="start" fill="#000" textLength="38" lengthAdjust="spacing">539.10</text>
<text x="1510" y="187" text-anchor="start" fill="#000" textLength="38" lengthAdjust="spacing">523.80</text>
<text x="1510" y="236" text-anchor="start" fill="#000" textLength="38" lengthAdjust="spacing">508.50</text>
<text x="1510" y="285" text-anchor="start" fill="#000" textLength="38" lengthAdjust="spacing">492.90</text>
<text x="1510" y="334" text-anchor="start" fill="#000" textLength="38" lengthAdjust="spacing">477.60</text>
<text x="1510" y="383" text-anchor="start" fill="#000" textLength="38" lengthAdjust="spacing">462.00</text>
<text x="1510" y="432" text-anchor="start" fill="#000" textLength="38" lengthAdjust="spacing">446.70</text>
<text x="1510" y="481" text-anchor="start" fill="#000" textLength="38" lengthAdjust="spacing">431.40</text>
<text x="1510" y="530" text-anchor="start" fill="#000" textLength="38" lengthAdjust="spacing">415.80</text>
<rect x="1505" y="77" width="49" height="14" fill="#ff0000" shape-rendering="crispEdges"/>
<text x="1510" y="89" text-anchor="start" fill="#fff" textLength="38" lengthAdjust="spacing">554.90</text>
<rect x="1505" y="165" width="49" height="14" fill="#ff0000" shape-rendering="crispEdges"/>
<rect x="1505" y="99" width="49" height="14" fill="#000" shape-rendering="crispEdges"/>
<text x="1510" y="111" text-anchor="start" fill="#fff" textLength="38" lengthAdjust="spacing">547.66</text>
<text x="1508" y="560" text-anchor="start" fill="#000" textLength="37" lengthAdjust="spacing">11.293</text>
<text x="1507.5" y="713" text-anchor="start" fill="#000" >0.00</text>
<text x="1507" y="813" text-anchor="start" fill="#000" textLength="36" lengthAdjust="spacing">-7.538</text>
<text x="2" y="832" text-anchor="start" fill="#000" letter-spacing="0.1">16 Nov 2020</text>
<text x="98" y="832" text-anchor="start" fill="#000" letter-spacing="0.1">20 Nov 20:00</text>
<text x="194" y="832" text-anchor="start" fill="#000" letter-spacing="0.1">30 Nov 12:00</text>
<text x="290" y="832" text-anchor="start" fill="#000" letter-spacing="0.1">4 Dec 12:00</text>
<text x="386" y="832" text-anchor="start" fill="#000" letter-spacing="0.1">10 Dec 12:00</text>
<text x="482" y="832" text-anchor="start" fill="#000" letter-spacing="0.1">16 Dec 12:00</text>
<text x="578" y="832" text-anchor="start" fill="#000" letter-spacing="0.1">22 Dec 12:00</text>
<text x="674" y="832" text-anchor="start" fill="#000" letter-spacing="0.1">29 Dec 16:00</text>
<text x="770" y="832" text-anchor="start" fill="#000" letter-spacing="0.1">5 Jan 16:00</text>
<text x="866" y="832" text-anchor="start" fill="#000" letter-spacing="0.1">11 Jan 16:00</text>
<text x="962" y="832" text-anchor="start" fill="#000" letter-spacing="0.1">15 Jan 20:00</text>
<text x="1058" y="832" text-anchor="start" fill="#000" letter-spacing="0.1">22 Jan 20:00</text>
<text x="1154" y="832" text-anchor="start" fill="#000" letter-spacing="0.1">28 Jan 20:00</text>
<text x="1250" y="832" text-anchor="start" fill="#000" letter-spacing="0.1">3 Feb 20:00</text>
<text x="1346" y="832" text-anchor="start" fill="#000" letter-spacing="0.1">9 Feb 20:00</text>
<text x="1442" y="832" text-anchor="start" fill="#000" letter-spacing="0.1">16 Feb 20:00</text>
<text x="1510" y="177" text-anchor="start" fill="#fff" textLength="38" lengthAdjust="spacing">527.37</text>
</svg>
</body></html>
